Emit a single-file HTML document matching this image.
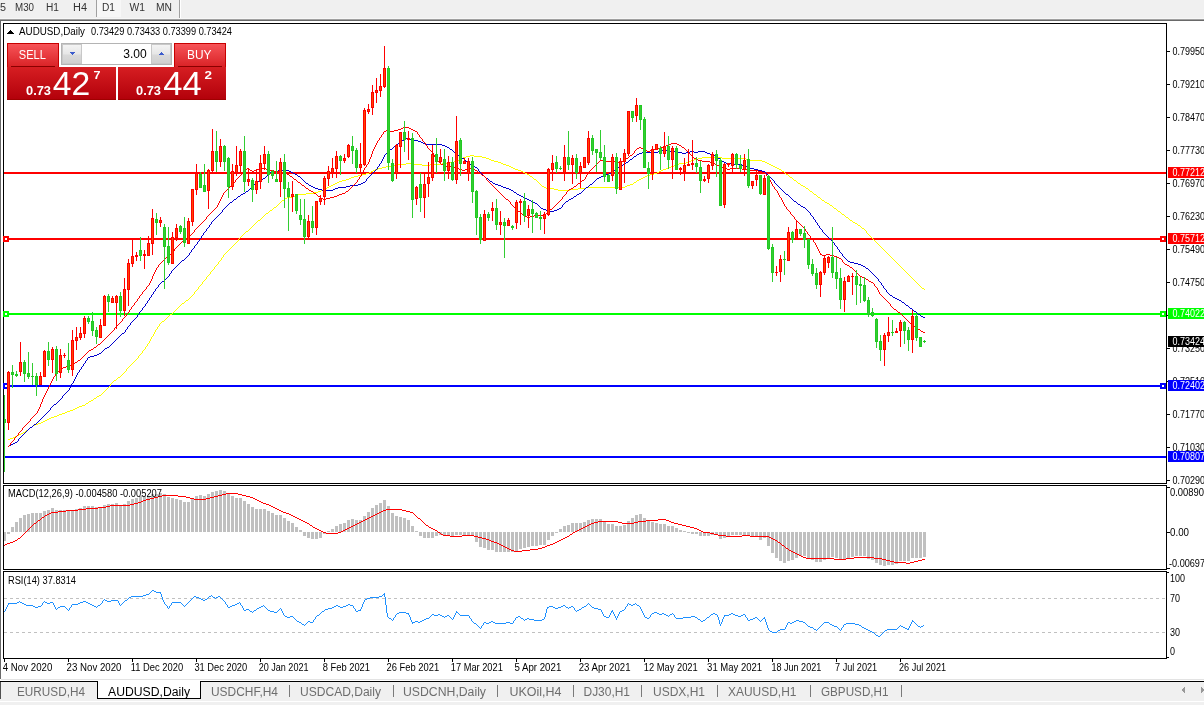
<!DOCTYPE html>
<html><head><meta charset="utf-8"><title>AUDUSD,Daily</title>
<style>
html,body{margin:0;padding:0;background:#fff;overflow:hidden;}
svg{display:block;font-family:"Liberation Sans",Arial,sans-serif;}
</style></head>
<body>
<svg width="1204" height="705" viewBox="0 0 1204 705" shape-rendering="crispEdges">
<rect x="0" y="0" width="1204" height="18" fill="#f0f0f0"/>
<rect x="0" y="18" width="1204" height="1" fill="#f7f7f7"/>
<rect x="0" y="19" width="1204" height="1" fill="#a0a0a0"/>
<rect x="0" y="20" width="1204" height="1" fill="#696969"/>
<rect x="0" y="21" width="1204" height="658" fill="#ffffff"/>
<rect x="0" y="20" width="1" height="659" fill="#696969"/>
<rect x="97" y="0" width="24" height="17" fill="#f7f7f7"/>
<rect x="96" y="0" width="1" height="17" fill="#a0a0a0"/>
<rect x="179" y="0" width="1" height="18" fill="#a0a0a0"/>
<rect x="180" y="0" width="1" height="18" fill="#ffffff"/>
<text x="0" y="11" font-size="10" fill="#333" textLength="6" lengthAdjust="spacingAndGlyphs">5</text>
<text x="15" y="11" font-size="10" fill="#333" textLength="19" lengthAdjust="spacingAndGlyphs">M30</text>
<text x="46" y="11" font-size="10" fill="#333" textLength="13" lengthAdjust="spacingAndGlyphs">H1</text>
<text x="73" y="11" font-size="10" fill="#333" textLength="14" lengthAdjust="spacingAndGlyphs">H4</text>
<text x="102" y="11" font-size="10" fill="#333" textLength="13" lengthAdjust="spacingAndGlyphs">D1</text>
<text x="129.5" y="11" font-size="10" fill="#333" textLength="15.5" lengthAdjust="spacingAndGlyphs">W1</text>
<text x="156" y="11" font-size="10" fill="#333" textLength="16" lengthAdjust="spacingAndGlyphs">MN</text>
<rect x="3.5" y="23.5" width="1163" height="460" fill="none" stroke="#000" stroke-width="1"/>
<rect x="3.5" y="485.5" width="1163" height="84" fill="none" stroke="#000" stroke-width="1"/>
<rect x="3.5" y="571.5" width="1163" height="87" fill="none" stroke="#000" stroke-width="1"/>
<rect x="1167" y="51" width="3" height="1" fill="#000"/>
<text x="1172.5" y="55" font-size="10" fill="#000" textLength="32.5" lengthAdjust="spacingAndGlyphs">0.79950</text>
<rect x="1167" y="84" width="3" height="1" fill="#000"/>
<text x="1172.5" y="88" font-size="10" fill="#000" textLength="32.5" lengthAdjust="spacingAndGlyphs">0.79210</text>
<rect x="1167" y="117" width="3" height="1" fill="#000"/>
<text x="1172.5" y="121" font-size="10" fill="#000" textLength="32.5" lengthAdjust="spacingAndGlyphs">0.78470</text>
<rect x="1167" y="150" width="3" height="1" fill="#000"/>
<text x="1172.5" y="154" font-size="10" fill="#000" textLength="32.5" lengthAdjust="spacingAndGlyphs">0.77730</text>
<rect x="1167" y="183" width="3" height="1" fill="#000"/>
<text x="1172.5" y="187" font-size="10" fill="#000" textLength="32.5" lengthAdjust="spacingAndGlyphs">0.76970</text>
<rect x="1167" y="216" width="3" height="1" fill="#000"/>
<text x="1172.5" y="220" font-size="10" fill="#000" textLength="32.5" lengthAdjust="spacingAndGlyphs">0.76230</text>
<rect x="1167" y="249" width="3" height="1" fill="#000"/>
<text x="1172.5" y="253" font-size="10" fill="#000" textLength="32.5" lengthAdjust="spacingAndGlyphs">0.75490</text>
<rect x="1167" y="282" width="3" height="1" fill="#000"/>
<text x="1172.5" y="286" font-size="10" fill="#000" textLength="32.5" lengthAdjust="spacingAndGlyphs">0.74750</text>
<rect x="1167" y="315" width="3" height="1" fill="#000"/>
<text x="1172.5" y="319" font-size="10" fill="#000" textLength="32.5" lengthAdjust="spacingAndGlyphs">0.74010</text>
<rect x="1167" y="348" width="3" height="1" fill="#000"/>
<text x="1172.5" y="352" font-size="10" fill="#000" textLength="32.5" lengthAdjust="spacingAndGlyphs">0.73250</text>
<rect x="1167" y="381" width="3" height="1" fill="#000"/>
<text x="1172.5" y="385" font-size="10" fill="#000" textLength="32.5" lengthAdjust="spacingAndGlyphs">0.72510</text>
<rect x="1167" y="414" width="3" height="1" fill="#000"/>
<text x="1172.5" y="418" font-size="10" fill="#000" textLength="32.5" lengthAdjust="spacingAndGlyphs">0.71770</text>
<rect x="1167" y="447" width="3" height="1" fill="#000"/>
<text x="1172.5" y="451" font-size="10" fill="#000" textLength="32.5" lengthAdjust="spacingAndGlyphs">0.71030</text>
<rect x="1167" y="480" width="3" height="1" fill="#000"/>
<text x="1172.5" y="484" font-size="10" fill="#000" textLength="32.5" lengthAdjust="spacingAndGlyphs">0.70290</text>
<rect x="1167" y="487" width="3" height="1" fill="#000"/>
<text x="1170" y="496" font-size="10" fill="#000" textLength="34" lengthAdjust="spacingAndGlyphs">0.00890</text>
<rect x="1167" y="532" width="3" height="1" fill="#000"/>
<text x="1170" y="536" font-size="10" fill="#000" textLength="19" lengthAdjust="spacingAndGlyphs">0.00</text>
<rect x="1167" y="568" width="3" height="1" fill="#000"/>
<text x="1169" y="567" font-size="10" fill="#000" textLength="36" lengthAdjust="spacingAndGlyphs">-0.00697</text>
<rect x="1167" y="572" width="2" height="1" fill="#000"/>
<text x="1170" y="582" font-size="10" fill="#000" textLength="15" lengthAdjust="spacingAndGlyphs">100</text>
<text x="1170" y="602" font-size="10" fill="#000" textLength="10" lengthAdjust="spacingAndGlyphs">70</text>
<text x="1170" y="636" font-size="10" fill="#000" textLength="10" lengthAdjust="spacingAndGlyphs">30</text>
<text x="1170" y="655" font-size="10" fill="#000" textLength="5" lengthAdjust="spacingAndGlyphs">0</text>
<rect x="1167" y="657" width="2" height="1" fill="#000"/>
<rect x="4" y="659" width="1" height="3" fill="#000"/>
<text x="2.8" y="671" font-size="10" fill="#000" textLength="49.5" lengthAdjust="spacingAndGlyphs">4 Nov 2020</text>
<rect x="68" y="659" width="1" height="3" fill="#000"/>
<text x="66.6" y="671" font-size="10" fill="#000" textLength="54.9" lengthAdjust="spacingAndGlyphs">23 Nov 2020</text>
<rect x="132" y="659" width="1" height="3" fill="#000"/>
<text x="130.8" y="671" font-size="10" fill="#000" textLength="52.3" lengthAdjust="spacingAndGlyphs">11 Dec 2020</text>
<rect x="196" y="659" width="1" height="3" fill="#000"/>
<text x="194.4" y="671" font-size="10" fill="#000" textLength="52.8" lengthAdjust="spacingAndGlyphs">31 Dec 2020</text>
<rect x="260" y="659" width="1" height="3" fill="#000"/>
<text x="258.7" y="671" font-size="10" fill="#000" textLength="49.8" lengthAdjust="spacingAndGlyphs">20 Jan 2021</text>
<rect x="324" y="659" width="1" height="3" fill="#000"/>
<text x="322.8" y="671" font-size="10" fill="#000" textLength="47.2" lengthAdjust="spacingAndGlyphs">8 Feb 2021</text>
<rect x="388" y="659" width="1" height="3" fill="#000"/>
<text x="386.6" y="671" font-size="10" fill="#000" textLength="52.6" lengthAdjust="spacingAndGlyphs">26 Feb 2021</text>
<rect x="452" y="659" width="1" height="3" fill="#000"/>
<text x="450.8" y="671" font-size="10" fill="#000" textLength="52.0" lengthAdjust="spacingAndGlyphs">17 Mar 2021</text>
<rect x="516" y="659" width="1" height="3" fill="#000"/>
<text x="514.4" y="671" font-size="10" fill="#000" textLength="46.9" lengthAdjust="spacingAndGlyphs">5 Apr 2021</text>
<rect x="580" y="659" width="1" height="3" fill="#000"/>
<text x="578.7" y="671" font-size="10" fill="#000" textLength="51.8" lengthAdjust="spacingAndGlyphs">23 Apr 2021</text>
<rect x="644" y="659" width="1" height="3" fill="#000"/>
<text x="643.7" y="671" font-size="10" fill="#000" textLength="54.1" lengthAdjust="spacingAndGlyphs">12 May 2021</text>
<rect x="708" y="659" width="1" height="3" fill="#000"/>
<text x="707.1" y="671" font-size="10" fill="#000" textLength="55.0" lengthAdjust="spacingAndGlyphs">31 May 2021</text>
<rect x="772" y="659" width="1" height="3" fill="#000"/>
<text x="771.4" y="671" font-size="10" fill="#000" textLength="49.9" lengthAdjust="spacingAndGlyphs">18 Jun 2021</text>
<rect x="836" y="659" width="1" height="3" fill="#000"/>
<text x="835.0" y="671" font-size="10" fill="#000" textLength="42.2" lengthAdjust="spacingAndGlyphs">7 Jul 2021</text>
<rect x="900" y="659" width="1" height="3" fill="#000"/>
<text x="899.0" y="671" font-size="10" fill="#000" textLength="47.0" lengthAdjust="spacingAndGlyphs">26 Jul 2021</text>
<clipPath id="cm"><rect x="4" y="24" width="1162" height="459"/></clipPath>
<clipPath id="cmacd"><rect x="4" y="486" width="1162" height="83"/></clipPath>
<clipPath id="crsi"><rect x="4" y="572" width="1162" height="86"/></clipPath>
<g clip-path="url(#cm)">
<rect x="4" y="172" width="1162" height="2" fill="#ff0000"/>
<rect x="4" y="238" width="1162" height="2" fill="#ff0000"/>
<rect x="4" y="313" width="1162" height="2" fill="#00ff00"/>
<rect x="4" y="385" width="1162" height="2" fill="#0000ff"/>
<rect x="4" y="456" width="1162" height="2" fill="#0000ff"/>
</g>
<rect x="3" y="236" width="6" height="6" fill="#ff0000"/>
<rect x="5" y="238" width="2" height="2" fill="#ffffff"/>
<rect x="1160" y="236" width="6" height="6" fill="#ff0000"/>
<rect x="1162" y="238" width="2" height="2" fill="#ffffff"/>
<rect x="3" y="311" width="6" height="6" fill="#00ff00"/>
<rect x="5" y="313" width="2" height="2" fill="#ffffff"/>
<rect x="1160" y="311" width="6" height="6" fill="#00ff00"/>
<rect x="1162" y="313" width="2" height="2" fill="#ffffff"/>
<rect x="3" y="383" width="6" height="6" fill="#0000ff"/>
<rect x="5" y="385" width="2" height="2" fill="#ffffff"/>
<rect x="1160" y="383" width="6" height="6" fill="#0000ff"/>
<rect x="1162" y="385" width="2" height="2" fill="#ffffff"/>
<g clip-path="url(#cm)">
<path d="M8 439h1v1h-1zM9 439h1v1h-1zM10 438h1v1h-1zM11 438h1v1h-1zM12 438h1v1h-1zM13 437h1v1h-1zM14 437h1v1h-1zM15 436h1v1h-1zM16 436h1v1h-1zM17 435h1v1h-1zM18 435h1v1h-1zM19 434h1v1h-1zM20 434h1v1h-1zM21 433h1v1h-1zM22 433h1v1h-1zM23 432h1v1h-1zM24 432h1v1h-1zM25 431h1v1h-1zM26 430h1v1h-1zM27 430h1v1h-1zM28 429h1v1h-1zM29 428h1v1h-1zM30 427h1v1h-1zM31 427h1v1h-1zM32 426h1v1h-1zM33 425h1v1h-1zM34 425h1v1h-1zM35 424h1v1h-1zM36 424h1v1h-1zM37 424h1v1h-1zM38 423h1v1h-1zM39 423h1v1h-1zM40 423h1v1h-1zM41 422h1v1h-1zM42 422h1v1h-1zM43 421h1v1h-1zM44 421h1v1h-1zM45 420h1v1h-1zM46 420h1v1h-1zM47 419h1v1h-1zM48 419h1v1h-1zM49 418h1v1h-1zM50 418h1v1h-1zM51 417h1v1h-1zM52 417h1v1h-1zM53 417h1v1h-1zM54 416h1v1h-1zM55 416h1v1h-1zM56 416h1v1h-1zM57 415h1v1h-1zM58 415h1v1h-1zM59 414h1v1h-1zM60 414h1v1h-1zM61 414h1v1h-1zM62 413h1v1h-1zM63 413h1v1h-1zM64 413h1v1h-1zM65 412h1v1h-1zM66 412h1v1h-1zM67 411h1v1h-1zM68 411h1v1h-1zM69 411h1v1h-1zM70 410h1v1h-1zM71 410h1v1h-1zM72 410h1v1h-1zM73 409h1v1h-1zM74 409h1v1h-1zM75 408h1v1h-1zM76 408h1v1h-1zM77 407h1v1h-1zM78 407h1v1h-1zM79 406h1v1h-1zM80 406h1v1h-1zM81 406h1v1h-1zM82 405h1v1h-1zM83 405h1v1h-1zM84 405h1v1h-1zM85 404h1v1h-1zM86 403h1v1h-1zM87 403h1v1h-1zM88 402h1v1h-1zM89 401h1v1h-1zM90 401h1v1h-1zM91 400h1v1h-1zM92 400h1v1h-1zM93 399h1v1h-1zM94 398h1v1h-1zM95 398h1v1h-1zM96 397h1v1h-1zM97 396h1v1h-1zM98 396h1v1h-1zM99 395h1v1h-1zM100 395h1v1h-1zM101 394h1v1h-1zM102 393h1v1h-1zM103 392h1v1h-1zM104 391h1v1h-1zM105 390h1v1h-1zM106 389h1v1h-1zM107 388h1v1h-1zM108 387h1v1h-1zM109 386h1v1h-1zM110 384h1v2h-1zM111 383h1v1h-1zM112 382h1v1h-1zM113 381h1v1h-1zM114 380h1v1h-1zM115 380h1v1h-1zM116 379h1v1h-1zM117 378h1v1h-1zM118 377h1v1h-1zM119 377h1v1h-1zM120 376h1v1h-1zM121 375h1v1h-1zM122 374h1v1h-1zM123 373h1v1h-1zM124 372h1v1h-1zM125 371h1v1h-1zM126 369h1v2h-1zM127 368h1v1h-1zM128 367h1v1h-1zM129 366h1v1h-1zM130 365h1v1h-1zM131 364h1v1h-1zM132 363h1v1h-1zM133 362h1v1h-1zM134 361h1v1h-1zM135 360h1v1h-1zM136 359h1v1h-1zM137 358h1v1h-1zM138 356h1v2h-1zM139 355h1v1h-1zM140 354h1v1h-1zM141 353h1v1h-1zM142 351h1v2h-1zM143 350h1v1h-1zM144 349h1v1h-1zM145 347h1v2h-1zM146 346h1v1h-1zM147 344h1v2h-1zM148 343h1v1h-1zM149 341h1v2h-1zM150 339h1v2h-1zM151 337h1v2h-1zM152 336h1v1h-1zM153 334h1v2h-1zM154 332h1v2h-1zM155 330h1v2h-1zM156 329h1v1h-1zM157 327h1v2h-1zM158 326h1v1h-1zM159 324h1v2h-1zM160 323h1v1h-1zM161 322h1v1h-1zM162 321h1v1h-1zM163 321h1v1h-1zM164 320h1v1h-1zM165 319h1v1h-1zM166 318h1v1h-1zM167 317h1v1h-1zM168 316h1v1h-1zM169 315h1v1h-1zM170 314h1v1h-1zM171 314h1v1h-1zM172 313h1v1h-1zM173 312h1v1h-1zM174 311h1v1h-1zM175 310h1v1h-1zM176 309h1v1h-1zM177 308h1v1h-1zM178 307h1v1h-1zM179 306h1v1h-1zM180 305h1v1h-1zM181 304h1v1h-1zM182 303h1v1h-1zM183 303h1v1h-1zM184 302h1v1h-1zM185 301h1v1h-1zM186 300h1v1h-1zM187 300h1v1h-1zM188 299h1v1h-1zM189 298h1v1h-1zM190 297h1v1h-1zM191 296h1v1h-1zM192 295h1v1h-1zM193 294h1v1h-1zM194 292h1v2h-1zM195 291h1v1h-1zM196 290h1v1h-1zM197 289h1v1h-1zM198 287h1v2h-1zM199 286h1v1h-1zM200 285h1v1h-1zM201 284h1v1h-1zM202 282h1v2h-1zM203 281h1v1h-1zM204 280h1v1h-1zM205 279h1v1h-1zM206 277h1v2h-1zM207 276h1v1h-1zM208 275h1v1h-1zM209 274h1v1h-1zM210 272h1v2h-1zM211 271h1v1h-1zM212 270h1v1h-1zM213 269h1v1h-1zM214 267h1v2h-1zM215 266h1v1h-1zM216 265h1v1h-1zM217 264h1v1h-1zM218 262h1v2h-1zM219 261h1v1h-1zM220 260h1v1h-1zM221 258h1v2h-1zM222 257h1v1h-1zM223 255h1v2h-1zM224 254h1v1h-1zM225 253h1v1h-1zM226 252h1v1h-1zM227 251h1v1h-1zM228 250h1v1h-1zM229 249h1v1h-1zM230 248h1v1h-1zM231 247h1v1h-1zM232 246h1v1h-1zM233 245h1v1h-1zM234 244h1v1h-1zM235 243h1v1h-1zM236 242h1v1h-1zM237 241h1v1h-1zM238 239h1v2h-1zM239 238h1v1h-1zM240 237h1v1h-1zM241 236h1v1h-1zM242 235h1v1h-1zM243 234h1v1h-1zM244 233h1v1h-1zM245 232h1v1h-1zM246 231h1v1h-1zM247 231h1v1h-1zM248 230h1v1h-1zM249 229h1v1h-1zM250 228h1v1h-1zM251 227h1v1h-1zM252 226h1v1h-1zM253 225h1v1h-1zM254 224h1v1h-1zM255 223h1v1h-1zM256 222h1v1h-1zM257 221h1v1h-1zM258 220h1v1h-1zM259 220h1v1h-1zM260 219h1v1h-1zM261 218h1v1h-1zM262 217h1v1h-1zM263 216h1v1h-1zM264 215h1v1h-1zM265 214h1v1h-1zM266 213h1v1h-1zM267 213h1v1h-1zM268 212h1v1h-1zM269 211h1v1h-1zM270 210h1v1h-1zM271 210h1v1h-1zM272 209h1v1h-1zM273 208h1v1h-1zM274 207h1v1h-1zM275 207h1v1h-1zM276 206h1v1h-1zM277 205h1v1h-1zM278 204h1v1h-1zM279 203h1v1h-1zM280 202h1v1h-1zM281 201h1v1h-1zM282 200h1v1h-1zM283 200h1v1h-1zM284 199h1v1h-1zM285 198h1v1h-1zM286 198h1v1h-1zM287 197h1v1h-1zM288 197h1v1h-1zM289 197h1v1h-1zM290 197h1v1h-1zM291 197h1v1h-1zM292 197h1v1h-1zM293 196h1v1h-1zM294 196h1v1h-1zM295 195h1v1h-1zM296 195h1v1h-1zM297 195h1v1h-1zM298 194h1v1h-1zM299 194h1v1h-1zM300 194h1v1h-1zM301 194h1v1h-1zM302 194h1v1h-1zM303 194h1v1h-1zM304 194h1v1h-1zM305 194h1v1h-1zM306 193h1v1h-1zM307 193h1v1h-1zM308 193h1v1h-1zM309 193h1v1h-1zM310 193h1v1h-1zM311 193h1v1h-1zM312 193h1v1h-1zM313 193h1v1h-1zM314 192h1v1h-1zM315 192h1v1h-1zM316 192h1v1h-1zM317 192h1v1h-1zM318 191h1v1h-1zM319 191h1v1h-1zM320 191h1v1h-1zM321 190h1v1h-1zM322 190h1v1h-1zM323 189h1v1h-1zM324 189h1v1h-1zM325 188h1v1h-1zM326 188h1v1h-1zM327 187h1v1h-1zM328 187h1v1h-1zM329 186h1v1h-1zM330 186h1v1h-1zM331 185h1v1h-1zM332 185h1v1h-1zM333 184h1v1h-1zM334 184h1v1h-1zM335 183h1v1h-1zM336 183h1v1h-1zM337 182h1v1h-1zM338 182h1v1h-1zM339 181h1v1h-1zM340 181h1v1h-1zM341 181h1v1h-1zM342 180h1v1h-1zM343 180h1v1h-1zM344 180h1v1h-1zM345 180h1v1h-1zM346 179h1v1h-1zM347 179h1v1h-1zM348 179h1v1h-1zM349 178h1v1h-1zM350 178h1v1h-1zM351 177h1v1h-1zM352 177h1v1h-1zM353 177h1v1h-1zM354 176h1v1h-1zM355 176h1v1h-1zM356 176h1v1h-1zM357 176h1v1h-1zM358 175h1v1h-1zM359 175h1v1h-1zM360 175h1v1h-1zM361 175h1v1h-1zM362 174h1v1h-1zM363 174h1v1h-1zM364 174h1v1h-1zM365 174h1v1h-1zM366 173h1v1h-1zM367 173h1v1h-1zM368 173h1v1h-1zM369 172h1v1h-1zM370 172h1v1h-1zM371 171h1v1h-1zM372 171h1v1h-1zM373 170h1v1h-1zM374 170h1v1h-1zM375 169h1v1h-1zM376 169h1v1h-1zM377 169h1v1h-1zM378 168h1v1h-1zM379 168h1v1h-1zM380 168h1v1h-1zM381 168h1v1h-1zM382 167h1v1h-1zM383 167h1v1h-1zM384 167h1v1h-1zM385 167h1v1h-1zM386 166h1v1h-1zM387 166h1v1h-1zM388 166h1v1h-1zM389 166h1v1h-1zM390 166h1v1h-1zM391 166h1v1h-1zM392 166h1v1h-1zM393 166h1v1h-1zM394 165h1v1h-1zM395 165h1v1h-1zM396 165h1v1h-1zM397 165h1v1h-1zM398 164h1v1h-1zM399 164h1v1h-1zM400 164h1v1h-1zM401 164h1v1h-1zM402 164h1v1h-1zM403 164h1v1h-1zM404 164h1v1h-1zM405 164h1v1h-1zM406 163h1v1h-1zM407 163h1v1h-1zM408 163h1v1h-1zM409 163h1v1h-1zM410 163h1v1h-1zM411 163h1v1h-1zM412 163h1v1h-1zM413 163h1v1h-1zM414 164h1v1h-1zM415 164h1v1h-1zM416 164h1v1h-1zM417 164h1v1h-1zM418 164h1v1h-1zM419 164h1v1h-1zM420 164h1v1h-1zM421 164h1v1h-1zM422 165h1v1h-1zM423 165h1v1h-1zM424 165h1v1h-1zM425 165h1v1h-1zM426 165h1v1h-1zM427 165h1v1h-1zM428 165h1v1h-1zM429 165h1v1h-1zM430 164h1v1h-1zM431 164h1v1h-1zM432 164h1v1h-1zM433 164h1v1h-1zM434 164h1v1h-1zM435 164h1v1h-1zM436 164h1v1h-1zM437 164h1v1h-1zM438 164h1v1h-1zM439 164h1v1h-1zM440 164h1v1h-1zM441 164h1v1h-1zM442 163h1v1h-1zM443 163h1v1h-1zM444 163h1v1h-1zM445 163h1v1h-1zM446 163h1v1h-1zM447 163h1v1h-1zM448 163h1v1h-1zM449 163h1v1h-1zM450 162h1v1h-1zM451 162h1v1h-1zM452 162h1v1h-1zM453 162h1v1h-1zM454 161h1v1h-1zM455 161h1v1h-1zM456 161h1v1h-1zM457 160h1v1h-1zM458 160h1v1h-1zM459 159h1v1h-1zM460 159h1v1h-1zM461 158h1v1h-1zM462 158h1v1h-1zM463 157h1v1h-1zM464 157h1v1h-1zM465 157h1v1h-1zM466 156h1v1h-1zM467 156h1v1h-1zM468 156h1v1h-1zM469 156h1v1h-1zM470 155h1v1h-1zM471 155h1v1h-1zM472 155h1v1h-1zM473 155h1v1h-1zM474 156h1v1h-1zM475 156h1v1h-1zM476 156h1v1h-1zM477 156h1v1h-1zM478 156h1v1h-1zM479 156h1v1h-1zM480 156h1v1h-1zM481 156h1v1h-1zM482 157h1v1h-1zM483 157h1v1h-1zM484 157h1v1h-1zM485 157h1v1h-1zM486 158h1v1h-1zM487 158h1v1h-1zM488 158h1v1h-1zM489 159h1v1h-1zM490 159h1v1h-1zM491 160h1v1h-1zM492 160h1v1h-1zM493 160h1v1h-1zM494 161h1v1h-1zM495 161h1v1h-1zM496 161h1v1h-1zM497 161h1v1h-1zM498 162h1v1h-1zM499 162h1v1h-1zM500 162h1v1h-1zM501 163h1v1h-1zM502 163h1v1h-1zM503 164h1v1h-1zM504 164h1v1h-1zM505 164h1v1h-1zM506 165h1v1h-1zM507 165h1v1h-1zM508 165h1v1h-1zM509 166h1v1h-1zM510 166h1v1h-1zM511 167h1v1h-1zM512 167h1v1h-1zM513 168h1v1h-1zM514 168h1v1h-1zM515 169h1v1h-1zM516 169h1v1h-1zM517 169h1v1h-1zM518 170h1v1h-1zM519 170h1v1h-1zM520 170h1v1h-1zM521 171h1v1h-1zM522 171h1v1h-1zM523 172h1v1h-1zM524 172h1v1h-1zM525 173h1v1h-1zM526 173h1v1h-1zM527 174h1v1h-1zM528 174h1v1h-1zM529 175h1v1h-1zM530 176h1v1h-1zM531 176h1v1h-1zM532 177h1v1h-1zM533 178h1v1h-1zM534 179h1v1h-1zM535 179h1v1h-1zM536 180h1v1h-1zM537 181h1v1h-1zM538 182h1v1h-1zM539 183h1v1h-1zM540 184h1v1h-1zM541 185h1v1h-1zM542 186h1v1h-1zM543 186h1v1h-1zM544 187h1v1h-1zM545 187h1v1h-1zM546 188h1v1h-1zM547 188h1v1h-1zM548 188h1v1h-1zM549 188h1v1h-1zM550 188h1v1h-1zM551 188h1v1h-1zM552 188h1v1h-1zM553 188h1v1h-1zM554 189h1v1h-1zM555 189h1v1h-1zM556 189h1v1h-1zM557 189h1v1h-1zM558 190h1v1h-1zM559 190h1v1h-1zM560 190h1v1h-1zM561 190h1v1h-1zM562 190h1v1h-1zM563 190h1v1h-1zM564 190h1v1h-1zM565 190h1v1h-1zM566 190h1v1h-1zM567 190h1v1h-1zM568 190h1v1h-1zM569 190h1v1h-1zM570 189h1v1h-1zM571 189h1v1h-1zM572 189h1v1h-1zM573 189h1v1h-1zM574 189h1v1h-1zM575 189h1v1h-1zM576 189h1v1h-1zM577 189h1v1h-1zM578 188h1v1h-1zM579 188h1v1h-1zM580 188h1v1h-1zM581 188h1v1h-1zM582 188h1v1h-1zM583 188h1v1h-1zM584 188h1v1h-1zM585 188h1v1h-1zM586 187h1v1h-1zM587 187h1v1h-1zM588 187h1v1h-1zM589 187h1v1h-1zM590 187h1v1h-1zM591 187h1v1h-1zM592 187h1v1h-1zM593 187h1v1h-1zM594 187h1v1h-1zM595 187h1v1h-1zM596 187h1v1h-1zM597 187h1v1h-1zM598 187h1v1h-1zM599 187h1v1h-1zM600 187h1v1h-1zM601 187h1v1h-1zM602 187h1v1h-1zM603 187h1v1h-1zM604 187h1v1h-1zM605 187h1v1h-1zM606 187h1v1h-1zM607 187h1v1h-1zM608 187h1v1h-1zM609 187h1v1h-1zM610 187h1v1h-1zM611 187h1v1h-1zM612 187h1v1h-1zM613 187h1v1h-1zM614 187h1v1h-1zM615 187h1v1h-1zM616 187h1v1h-1zM617 187h1v1h-1zM618 187h1v1h-1zM619 187h1v1h-1zM620 187h1v1h-1zM621 187h1v1h-1zM622 187h1v1h-1zM623 187h1v1h-1zM624 187h1v1h-1zM625 186h1v1h-1zM626 186h1v1h-1zM627 185h1v1h-1zM628 185h1v1h-1zM629 185h1v1h-1zM630 184h1v1h-1zM631 184h1v1h-1zM632 184h1v1h-1zM633 183h1v1h-1zM634 182h1v1h-1zM635 182h1v1h-1zM636 181h1v1h-1zM637 180h1v1h-1zM638 180h1v1h-1zM639 179h1v1h-1zM640 179h1v1h-1zM641 178h1v1h-1zM642 178h1v1h-1zM643 177h1v1h-1zM644 177h1v1h-1zM645 176h1v1h-1zM646 176h1v1h-1zM647 175h1v1h-1zM648 175h1v1h-1zM649 175h1v1h-1zM650 174h1v1h-1zM651 174h1v1h-1zM652 174h1v1h-1zM653 174h1v1h-1zM654 173h1v1h-1zM655 173h1v1h-1zM656 173h1v1h-1zM657 172h1v1h-1zM658 172h1v1h-1zM659 171h1v1h-1zM660 171h1v1h-1zM661 170h1v1h-1zM662 170h1v1h-1zM663 169h1v1h-1zM664 169h1v1h-1zM665 169h1v1h-1zM666 168h1v1h-1zM667 168h1v1h-1zM668 168h1v1h-1zM669 167h1v1h-1zM670 167h1v1h-1zM671 166h1v1h-1zM672 166h1v1h-1zM673 166h1v1h-1zM674 165h1v1h-1zM675 165h1v1h-1zM676 165h1v1h-1zM677 164h1v1h-1zM678 164h1v1h-1zM679 163h1v1h-1zM680 163h1v1h-1zM681 163h1v1h-1zM682 163h1v1h-1zM683 163h1v1h-1zM684 163h1v1h-1zM685 163h1v1h-1zM686 162h1v1h-1zM687 162h1v1h-1zM688 162h1v1h-1zM689 161h1v1h-1zM690 161h1v1h-1zM691 160h1v1h-1zM692 160h1v1h-1zM693 160h1v1h-1zM694 159h1v1h-1zM695 159h1v1h-1zM696 159h1v1h-1zM697 159h1v1h-1zM698 158h1v1h-1zM699 158h1v1h-1zM700 158h1v1h-1zM701 158h1v1h-1zM702 157h1v1h-1zM703 157h1v1h-1zM704 157h1v1h-1zM705 157h1v1h-1zM706 157h1v1h-1zM707 157h1v1h-1zM708 157h1v1h-1zM709 157h1v1h-1zM710 157h1v1h-1zM711 157h1v1h-1zM712 157h1v1h-1zM713 157h1v1h-1zM714 157h1v1h-1zM715 157h1v1h-1zM716 157h1v1h-1zM717 157h1v1h-1zM718 157h1v1h-1zM719 157h1v1h-1zM720 157h1v1h-1zM721 157h1v1h-1zM722 158h1v1h-1zM723 158h1v1h-1zM724 158h1v1h-1zM725 158h1v1h-1zM726 158h1v1h-1zM727 158h1v1h-1zM728 158h1v1h-1zM729 158h1v1h-1zM730 158h1v1h-1zM731 158h1v1h-1zM732 158h1v1h-1zM733 158h1v1h-1zM734 158h1v1h-1zM735 158h1v1h-1zM736 158h1v1h-1zM737 158h1v1h-1zM738 158h1v1h-1zM739 158h1v1h-1zM740 158h1v1h-1zM741 158h1v1h-1zM742 158h1v1h-1zM743 158h1v1h-1zM744 158h1v1h-1zM745 158h1v1h-1zM746 159h1v1h-1zM747 159h1v1h-1zM748 159h1v1h-1zM749 159h1v1h-1zM750 160h1v1h-1zM751 160h1v1h-1zM752 160h1v1h-1zM753 160h1v1h-1zM754 160h1v1h-1zM755 160h1v1h-1zM756 160h1v1h-1zM757 160h1v1h-1zM758 160h1v1h-1zM759 160h1v1h-1zM760 160h1v1h-1zM761 160h1v1h-1zM762 161h1v1h-1zM763 161h1v1h-1zM764 161h1v1h-1zM765 162h1v1h-1zM766 162h1v1h-1zM767 163h1v1h-1zM768 163h1v1h-1zM769 164h1v1h-1zM770 164h1v1h-1zM771 165h1v1h-1zM772 165h1v1h-1zM773 166h1v1h-1zM774 166h1v1h-1zM775 167h1v1h-1zM776 167h1v1h-1zM777 168h1v1h-1zM778 168h1v1h-1zM779 169h1v1h-1zM780 169h1v1h-1zM781 170h1v1h-1zM782 171h1v1h-1zM783 171h1v1h-1zM784 172h1v1h-1zM785 173h1v1h-1zM786 174h1v1h-1zM787 174h1v1h-1zM788 175h1v1h-1zM789 176h1v1h-1zM790 177h1v1h-1zM791 177h1v1h-1zM792 178h1v1h-1zM793 179h1v1h-1zM794 180h1v1h-1zM795 180h1v1h-1zM796 181h1v1h-1zM797 182h1v1h-1zM798 183h1v1h-1zM799 183h1v1h-1zM800 184h1v1h-1zM801 185h1v1h-1zM802 185h1v1h-1zM803 186h1v1h-1zM804 186h1v1h-1zM805 187h1v1h-1zM806 188h1v1h-1zM807 188h1v1h-1zM808 189h1v1h-1zM809 190h1v1h-1zM810 191h1v1h-1zM811 191h1v1h-1zM812 192h1v1h-1zM813 193h1v1h-1zM814 194h1v1h-1zM815 194h1v1h-1zM816 195h1v1h-1zM817 196h1v1h-1zM818 197h1v1h-1zM819 197h1v1h-1zM820 198h1v1h-1zM821 199h1v1h-1zM822 200h1v1h-1zM823 200h1v1h-1zM824 201h1v1h-1zM825 202h1v1h-1zM826 202h1v1h-1zM827 203h1v1h-1zM828 203h1v1h-1zM829 204h1v1h-1zM830 205h1v1h-1zM831 205h1v1h-1zM832 206h1v1h-1zM833 207h1v1h-1zM834 208h1v1h-1zM835 208h1v1h-1zM836 209h1v1h-1zM837 210h1v1h-1zM838 211h1v1h-1zM839 211h1v1h-1zM840 212h1v1h-1zM841 213h1v1h-1zM842 214h1v1h-1zM843 214h1v1h-1zM844 215h1v1h-1zM845 216h1v1h-1zM846 217h1v1h-1zM847 217h1v1h-1zM848 218h1v1h-1zM849 219h1v1h-1zM850 220h1v1h-1zM851 220h1v1h-1zM852 221h1v1h-1zM853 222h1v1h-1zM854 222h1v1h-1zM855 223h1v1h-1zM856 223h1v1h-1zM857 224h1v1h-1zM858 225h1v1h-1zM859 225h1v1h-1zM860 226h1v1h-1zM861 227h1v1h-1zM862 228h1v1h-1zM863 228h1v1h-1zM864 229h1v1h-1zM865 230h1v1h-1zM866 231h1v2h-1zM867 233h1v1h-1zM868 234h1v1h-1zM869 235h1v1h-1zM870 236h1v1h-1zM871 237h1v1h-1zM872 238h1v1h-1zM873 239h1v1h-1zM874 240h1v1h-1zM875 241h1v1h-1zM876 242h1v1h-1zM877 243h1v1h-1zM878 244h1v1h-1zM879 245h1v1h-1zM880 246h1v1h-1zM881 247h1v1h-1zM882 248h1v1h-1zM883 249h1v1h-1zM884 250h1v1h-1zM885 251h1v1h-1zM886 252h1v1h-1zM887 253h1v1h-1zM888 254h1v1h-1zM889 255h1v1h-1zM890 256h1v1h-1zM891 257h1v1h-1zM892 258h1v1h-1zM893 259h1v1h-1zM894 260h1v1h-1zM895 261h1v1h-1zM896 262h1v1h-1zM897 263h1v1h-1zM898 264h1v1h-1zM899 265h1v1h-1zM900 266h1v1h-1zM901 267h1v1h-1zM902 268h1v1h-1zM903 269h1v1h-1zM904 270h1v1h-1zM905 271h1v1h-1zM906 272h1v1h-1zM907 273h1v1h-1zM908 274h1v1h-1zM909 275h1v1h-1zM910 276h1v1h-1zM911 277h1v1h-1zM912 278h1v1h-1zM913 279h1v1h-1zM914 280h1v1h-1zM915 281h1v1h-1zM916 282h1v1h-1zM917 283h1v1h-1zM918 284h1v1h-1zM919 285h1v1h-1zM920 286h1v1h-1zM921 287h1v1h-1zM922 288h1v1h-1zM923 288h1v1h-1zM924 289h1v1h-1z" fill="#ffff00"/>
<path d="M8 446h1v1h-1zM9 445h1v1h-1zM10 445h1v1h-1zM11 444h1v1h-1zM12 444h1v1h-1zM13 443h1v1h-1zM14 443h1v1h-1zM15 442h1v1h-1zM16 442h1v1h-1zM17 441h1v1h-1zM18 439h1v2h-1zM19 438h1v1h-1zM20 437h1v1h-1zM21 436h1v1h-1zM22 435h1v1h-1zM23 434h1v1h-1zM24 433h1v1h-1zM25 432h1v1h-1zM26 431h1v1h-1zM27 430h1v1h-1zM28 429h1v1h-1zM29 428h1v1h-1zM30 427h1v1h-1zM31 427h1v1h-1zM32 426h1v1h-1zM33 425h1v1h-1zM34 424h1v1h-1zM35 424h1v1h-1zM36 423h1v1h-1zM37 422h1v1h-1zM38 421h1v1h-1zM39 420h1v1h-1zM40 419h1v1h-1zM41 418h1v1h-1zM42 417h1v1h-1zM43 416h1v1h-1zM44 415h1v1h-1zM45 414h1v1h-1zM46 413h1v1h-1zM47 412h1v1h-1zM48 411h1v1h-1zM49 410h1v1h-1zM50 408h1v2h-1zM51 407h1v1h-1zM52 406h1v1h-1zM53 405h1v1h-1zM54 404h1v1h-1zM55 404h1v1h-1zM56 403h1v1h-1zM57 402h1v1h-1zM58 401h1v1h-1zM59 400h1v1h-1zM60 399h1v1h-1zM61 398h1v1h-1zM62 396h1v2h-1zM63 395h1v1h-1zM64 394h1v1h-1zM65 393h1v1h-1zM66 392h1v1h-1zM67 391h1v1h-1zM68 390h1v1h-1zM69 388h1v2h-1zM70 386h1v2h-1zM71 384h1v2h-1zM72 383h1v1h-1zM73 381h1v2h-1zM74 379h1v2h-1zM75 377h1v2h-1zM76 375h1v2h-1zM77 373h1v2h-1zM78 372h1v1h-1zM79 370h1v2h-1zM80 369h1v1h-1zM81 367h1v2h-1zM82 366h1v1h-1zM83 364h1v2h-1zM84 363h1v1h-1zM85 361h1v2h-1zM86 360h1v1h-1zM87 358h1v2h-1zM88 357h1v1h-1zM89 357h1v1h-1zM90 356h1v1h-1zM91 356h1v1h-1zM92 356h1v1h-1zM93 356h1v1h-1zM94 355h1v1h-1zM95 355h1v1h-1zM96 355h1v1h-1zM97 354h1v1h-1zM98 354h1v1h-1zM99 353h1v1h-1zM100 353h1v1h-1zM101 352h1v1h-1zM102 351h1v1h-1zM103 350h1v1h-1zM104 349h1v1h-1zM105 348h1v1h-1zM106 348h1v1h-1zM107 347h1v1h-1zM108 347h1v1h-1zM109 346h1v1h-1zM110 345h1v1h-1zM111 344h1v1h-1zM112 343h1v1h-1zM113 342h1v1h-1zM114 341h1v1h-1zM115 340h1v1h-1zM116 339h1v1h-1zM117 338h1v1h-1zM118 337h1v1h-1zM119 336h1v1h-1zM120 335h1v1h-1zM121 334h1v1h-1zM122 333h1v1h-1zM123 333h1v1h-1zM124 332h1v1h-1zM125 330h1v2h-1zM126 329h1v1h-1zM127 327h1v2h-1zM128 326h1v1h-1zM129 325h1v1h-1zM130 323h1v2h-1zM131 322h1v1h-1zM132 321h1v1h-1zM133 320h1v1h-1zM134 319h1v1h-1zM135 318h1v1h-1zM136 317h1v1h-1zM137 315h1v2h-1zM138 314h1v1h-1zM139 312h1v2h-1zM140 311h1v1h-1zM141 310h1v1h-1zM142 308h1v2h-1zM143 307h1v1h-1zM144 306h1v1h-1zM145 304h1v2h-1zM146 303h1v1h-1zM147 301h1v2h-1zM148 300h1v1h-1zM149 298h1v2h-1zM150 297h1v1h-1zM151 295h1v2h-1zM152 294h1v1h-1zM153 292h1v2h-1zM154 291h1v1h-1zM155 289h1v2h-1zM156 288h1v1h-1zM157 287h1v1h-1zM158 285h1v2h-1zM159 284h1v1h-1zM160 283h1v1h-1zM161 282h1v1h-1zM162 281h1v1h-1zM163 281h1v1h-1zM164 280h1v1h-1zM165 279h1v1h-1zM166 278h1v1h-1zM167 277h1v1h-1zM168 276h1v1h-1zM169 274h1v2h-1zM170 273h1v1h-1zM171 271h1v2h-1zM172 270h1v1h-1zM173 269h1v1h-1zM174 268h1v1h-1zM175 267h1v1h-1zM176 266h1v1h-1zM177 265h1v1h-1zM178 264h1v1h-1zM179 263h1v1h-1zM180 262h1v1h-1zM181 261h1v1h-1zM182 260h1v1h-1zM183 260h1v1h-1zM184 259h1v1h-1zM185 258h1v1h-1zM186 257h1v1h-1zM187 256h1v1h-1zM188 255h1v1h-1zM189 253h1v2h-1zM190 252h1v1h-1zM191 250h1v2h-1zM192 249h1v1h-1zM193 248h1v1h-1zM194 246h1v2h-1zM195 245h1v1h-1zM196 244h1v1h-1zM197 242h1v2h-1zM198 241h1v1h-1zM199 239h1v2h-1zM200 238h1v1h-1zM201 236h1v2h-1zM202 235h1v1h-1zM203 233h1v2h-1zM204 232h1v1h-1zM205 231h1v1h-1zM206 229h1v2h-1zM207 228h1v1h-1zM208 227h1v1h-1zM209 225h1v2h-1zM210 224h1v1h-1zM211 222h1v2h-1zM212 221h1v1h-1zM213 220h1v1h-1zM214 219h1v1h-1zM215 218h1v1h-1zM216 217h1v1h-1zM217 216h1v1h-1zM218 215h1v1h-1zM219 214h1v1h-1zM220 213h1v1h-1zM221 212h1v1h-1zM222 210h1v2h-1zM223 209h1v1h-1zM224 208h1v1h-1zM225 207h1v1h-1zM226 206h1v1h-1zM227 205h1v1h-1zM228 204h1v1h-1zM229 203h1v1h-1zM230 202h1v1h-1zM231 202h1v1h-1zM232 201h1v1h-1zM233 200h1v1h-1zM234 199h1v1h-1zM235 199h1v1h-1zM236 198h1v1h-1zM237 197h1v1h-1zM238 196h1v1h-1zM239 196h1v1h-1zM240 195h1v1h-1zM241 194h1v1h-1zM242 194h1v1h-1zM243 193h1v1h-1zM244 193h1v1h-1zM245 192h1v1h-1zM246 191h1v1h-1zM247 191h1v1h-1zM248 190h1v1h-1zM249 189h1v1h-1zM250 188h1v1h-1zM251 187h1v1h-1zM252 186h1v1h-1zM253 185h1v1h-1zM254 184h1v1h-1zM255 184h1v1h-1zM256 183h1v1h-1zM257 182h1v1h-1zM258 181h1v1h-1zM259 181h1v1h-1zM260 180h1v1h-1zM261 179h1v1h-1zM262 179h1v1h-1zM263 178h1v1h-1zM264 178h1v1h-1zM265 177h1v1h-1zM266 176h1v1h-1zM267 175h1v1h-1zM268 174h1v1h-1zM269 173h1v1h-1zM270 172h1v1h-1zM271 172h1v1h-1zM272 171h1v1h-1zM273 171h1v1h-1zM274 171h1v1h-1zM275 171h1v1h-1zM276 171h1v1h-1zM277 171h1v1h-1zM278 170h1v1h-1zM279 170h1v1h-1zM280 170h1v1h-1zM281 170h1v1h-1zM282 170h1v1h-1zM283 170h1v1h-1zM284 170h1v1h-1zM285 170h1v1h-1zM286 170h1v1h-1zM287 170h1v1h-1zM288 170h1v1h-1zM289 171h1v1h-1zM290 171h1v1h-1zM291 172h1v1h-1zM292 172h1v1h-1zM293 173h1v1h-1zM294 173h1v1h-1zM295 174h1v1h-1zM296 174h1v1h-1zM297 175h1v1h-1zM298 176h1v1h-1zM299 176h1v1h-1zM300 177h1v1h-1zM301 178h1v1h-1zM302 179h1v1h-1zM303 180h1v1h-1zM304 181h1v1h-1zM305 182h1v1h-1zM306 183h1v1h-1zM307 183h1v1h-1zM308 184h1v1h-1zM309 185h1v1h-1zM310 185h1v1h-1zM311 186h1v1h-1zM312 186h1v1h-1zM313 187h1v1h-1zM314 187h1v1h-1zM315 188h1v1h-1zM316 188h1v1h-1zM317 188h1v1h-1zM318 189h1v1h-1zM319 189h1v1h-1zM320 189h1v1h-1zM321 189h1v1h-1zM322 190h1v1h-1zM323 190h1v1h-1zM324 190h1v1h-1zM325 190h1v1h-1zM326 190h1v1h-1zM327 190h1v1h-1zM328 190h1v1h-1zM329 190h1v1h-1zM330 190h1v1h-1zM331 190h1v1h-1zM332 190h1v1h-1zM333 189h1v1h-1zM334 189h1v1h-1zM335 188h1v1h-1zM336 188h1v1h-1zM337 188h1v1h-1zM338 187h1v1h-1zM339 187h1v1h-1zM340 187h1v1h-1zM341 187h1v1h-1zM342 187h1v1h-1zM343 187h1v1h-1zM344 187h1v1h-1zM345 187h1v1h-1zM346 186h1v1h-1zM347 186h1v1h-1zM348 186h1v1h-1zM349 186h1v1h-1zM350 185h1v1h-1zM351 185h1v1h-1zM352 185h1v1h-1zM353 185h1v1h-1zM354 185h1v1h-1zM355 185h1v1h-1zM356 185h1v1h-1zM357 185h1v1h-1zM358 184h1v1h-1zM359 184h1v1h-1zM360 184h1v1h-1zM361 183h1v1h-1zM362 183h1v1h-1zM363 182h1v1h-1zM364 182h1v1h-1zM365 181h1v1h-1zM366 179h1v2h-1zM367 178h1v1h-1zM368 177h1v1h-1zM369 176h1v1h-1zM370 175h1v1h-1zM371 174h1v1h-1zM372 173h1v1h-1zM373 172h1v1h-1zM374 171h1v1h-1zM375 170h1v1h-1zM376 169h1v1h-1zM377 167h1v2h-1zM378 166h1v1h-1zM379 164h1v2h-1zM380 163h1v1h-1zM381 161h1v2h-1zM382 159h1v2h-1zM383 157h1v2h-1zM384 155h1v2h-1zM385 154h1v1h-1zM386 153h1v1h-1zM387 152h1v1h-1zM388 151h1v1h-1zM389 150h1v1h-1zM390 149h1v1h-1zM391 149h1v1h-1zM392 148h1v1h-1zM393 147h1v1h-1zM394 146h1v1h-1zM395 146h1v1h-1zM396 145h1v1h-1zM397 144h1v1h-1zM398 143h1v1h-1zM399 143h1v1h-1zM400 142h1v1h-1zM401 141h1v1h-1zM402 140h1v1h-1zM403 140h1v1h-1zM404 139h1v1h-1zM405 139h1v1h-1zM406 138h1v1h-1zM407 138h1v1h-1zM408 138h1v1h-1zM409 138h1v1h-1zM410 139h1v1h-1zM411 139h1v1h-1zM412 139h1v1h-1zM413 139h1v1h-1zM414 140h1v1h-1zM415 140h1v1h-1zM416 140h1v1h-1zM417 140h1v1h-1zM418 141h1v1h-1zM419 141h1v1h-1zM420 141h1v1h-1zM421 142h1v1h-1zM422 142h1v1h-1zM423 143h1v1h-1zM424 143h1v1h-1zM425 143h1v1h-1zM426 144h1v1h-1zM427 144h1v1h-1zM428 144h1v1h-1zM429 144h1v1h-1zM430 144h1v1h-1zM431 144h1v1h-1zM432 144h1v1h-1zM433 144h1v1h-1zM434 144h1v1h-1zM435 144h1v1h-1zM436 144h1v1h-1zM437 144h1v1h-1zM438 144h1v1h-1zM439 144h1v1h-1zM440 144h1v1h-1zM441 144h1v1h-1zM442 145h1v1h-1zM443 145h1v1h-1zM444 145h1v1h-1zM445 146h1v1h-1zM446 146h1v1h-1zM447 147h1v1h-1zM448 147h1v1h-1zM449 148h1v1h-1zM450 149h1v1h-1zM451 149h1v1h-1zM452 150h1v1h-1zM453 151h1v1h-1zM454 152h1v1h-1zM455 152h1v1h-1zM456 153h1v1h-1zM457 154h1v1h-1zM458 155h1v1h-1zM459 155h1v1h-1zM460 156h1v1h-1zM461 157h1v1h-1zM462 158h1v1h-1zM463 158h1v1h-1zM464 159h1v1h-1zM465 160h1v1h-1zM466 161h1v1h-1zM467 161h1v1h-1zM468 162h1v1h-1zM469 163h1v1h-1zM470 164h1v1h-1zM471 164h1v1h-1zM472 165h1v1h-1zM473 166h1v1h-1zM474 166h1v1h-1zM475 167h1v1h-1zM476 167h1v1h-1zM477 168h1v1h-1zM478 169h1v2h-1zM479 171h1v1h-1zM480 172h1v1h-1zM481 173h1v1h-1zM482 174h1v1h-1zM483 175h1v1h-1zM484 176h1v1h-1zM485 177h1v1h-1zM486 178h1v1h-1zM487 178h1v1h-1zM488 179h1v1h-1zM489 180h1v1h-1zM490 181h1v1h-1zM491 181h1v1h-1zM492 182h1v1h-1zM493 183h1v1h-1zM494 183h1v1h-1zM495 184h1v1h-1zM496 184h1v1h-1zM497 184h1v1h-1zM498 185h1v1h-1zM499 185h1v1h-1zM500 185h1v1h-1zM501 186h1v1h-1zM502 186h1v1h-1zM503 187h1v1h-1zM504 187h1v1h-1zM505 187h1v1h-1zM506 188h1v1h-1zM507 188h1v1h-1zM508 188h1v1h-1zM509 189h1v1h-1zM510 189h1v1h-1zM511 190h1v1h-1zM512 190h1v1h-1zM513 191h1v1h-1zM514 192h1v1h-1zM515 192h1v1h-1zM516 193h1v1h-1zM517 194h1v1h-1zM518 194h1v1h-1zM519 195h1v1h-1zM520 195h1v1h-1zM521 196h1v1h-1zM522 196h1v1h-1zM523 197h1v1h-1zM524 197h1v1h-1zM525 198h1v1h-1zM526 198h1v1h-1zM527 199h1v1h-1zM528 199h1v1h-1zM529 200h1v1h-1zM530 200h1v1h-1zM531 201h1v1h-1zM532 201h1v1h-1zM533 202h1v1h-1zM534 202h1v1h-1zM535 203h1v1h-1zM536 203h1v1h-1zM537 204h1v1h-1zM538 205h1v1h-1zM539 206h1v1h-1zM540 207h1v1h-1zM541 208h1v1h-1zM542 208h1v1h-1zM543 209h1v1h-1zM544 209h1v1h-1zM545 209h1v1h-1zM546 210h1v1h-1zM547 210h1v1h-1zM548 210h1v1h-1zM549 210h1v1h-1zM550 211h1v1h-1zM551 211h1v1h-1zM552 211h1v1h-1zM553 211h1v1h-1zM554 210h1v1h-1zM555 210h1v1h-1zM556 210h1v1h-1zM557 209h1v1h-1zM558 209h1v1h-1zM559 208h1v1h-1zM560 208h1v1h-1zM561 207h1v1h-1zM562 205h1v2h-1zM563 204h1v1h-1zM564 203h1v1h-1zM565 202h1v1h-1zM566 201h1v1h-1zM567 201h1v1h-1zM568 200h1v1h-1zM569 199h1v1h-1zM570 199h1v1h-1zM571 198h1v1h-1zM572 198h1v1h-1zM573 197h1v1h-1zM574 196h1v1h-1zM575 196h1v1h-1zM576 195h1v1h-1zM577 194h1v1h-1zM578 194h1v1h-1zM579 193h1v1h-1zM580 193h1v1h-1zM581 192h1v1h-1zM582 191h1v1h-1zM583 190h1v1h-1zM584 189h1v1h-1zM585 188h1v1h-1zM586 187h1v1h-1zM587 187h1v1h-1zM588 186h1v1h-1zM589 185h1v1h-1zM590 184h1v1h-1zM591 184h1v1h-1zM592 183h1v1h-1zM593 182h1v1h-1zM594 181h1v1h-1zM595 180h1v1h-1zM596 179h1v1h-1zM597 178h1v1h-1zM598 178h1v1h-1zM599 177h1v1h-1zM600 177h1v1h-1zM601 176h1v1h-1zM602 176h1v1h-1zM603 175h1v1h-1zM604 175h1v1h-1zM605 175h1v1h-1zM606 174h1v1h-1zM607 174h1v1h-1zM608 174h1v1h-1zM609 173h1v1h-1zM610 173h1v1h-1zM611 172h1v1h-1zM612 172h1v1h-1zM613 171h1v1h-1zM614 170h1v1h-1zM615 170h1v1h-1zM616 169h1v1h-1zM617 168h1v1h-1zM618 167h1v1h-1zM619 167h1v1h-1zM620 166h1v1h-1zM621 165h1v1h-1zM622 165h1v1h-1zM623 164h1v1h-1zM624 164h1v1h-1zM625 163h1v1h-1zM626 162h1v1h-1zM627 162h1v1h-1zM628 161h1v1h-1zM629 160h1v1h-1zM630 159h1v1h-1zM631 159h1v1h-1zM632 158h1v1h-1zM633 157h1v1h-1zM634 156h1v1h-1zM635 156h1v1h-1zM636 155h1v1h-1zM637 154h1v1h-1zM638 154h1v1h-1zM639 153h1v1h-1zM640 153h1v1h-1zM641 153h1v1h-1zM642 152h1v1h-1zM643 152h1v1h-1zM644 152h1v1h-1zM645 152h1v1h-1zM646 152h1v1h-1zM647 152h1v1h-1zM648 152h1v1h-1zM649 152h1v1h-1zM650 152h1v1h-1zM651 152h1v1h-1zM652 152h1v1h-1zM653 152h1v1h-1zM654 152h1v1h-1zM655 152h1v1h-1zM656 152h1v1h-1zM657 152h1v1h-1zM658 151h1v1h-1zM659 151h1v1h-1zM660 151h1v1h-1zM661 151h1v1h-1zM662 150h1v1h-1zM663 150h1v1h-1zM664 150h1v1h-1zM665 150h1v1h-1zM666 150h1v1h-1zM667 150h1v1h-1zM668 150h1v1h-1zM669 150h1v1h-1zM670 151h1v1h-1zM671 151h1v1h-1zM672 151h1v1h-1zM673 151h1v1h-1zM674 151h1v1h-1zM675 151h1v1h-1zM676 151h1v1h-1zM677 151h1v1h-1zM678 152h1v1h-1zM679 152h1v1h-1zM680 152h1v1h-1zM681 152h1v1h-1zM682 153h1v1h-1zM683 153h1v1h-1zM684 153h1v1h-1zM685 153h1v1h-1zM686 152h1v1h-1zM687 152h1v1h-1zM688 152h1v1h-1zM689 152h1v1h-1zM690 151h1v1h-1zM691 151h1v1h-1zM692 151h1v1h-1zM693 151h1v1h-1zM694 152h1v1h-1zM695 152h1v1h-1zM696 152h1v1h-1zM697 152h1v1h-1zM698 151h1v1h-1zM699 151h1v1h-1zM700 151h1v1h-1zM701 151h1v1h-1zM702 151h1v1h-1zM703 151h1v1h-1zM704 151h1v1h-1zM705 152h1v1h-1zM706 152h1v1h-1zM707 153h1v1h-1zM708 153h1v1h-1zM709 153h1v1h-1zM710 154h1v1h-1zM711 154h1v1h-1zM712 154h1v1h-1zM713 155h1v1h-1zM714 155h1v1h-1zM715 156h1v1h-1zM716 156h1v1h-1zM717 157h1v1h-1zM718 158h1v1h-1zM719 158h1v1h-1zM720 159h1v1h-1zM721 160h1v1h-1zM722 161h1v1h-1zM723 161h1v1h-1zM724 162h1v1h-1zM725 162h1v1h-1zM726 163h1v1h-1zM727 163h1v1h-1zM728 163h1v1h-1zM729 163h1v1h-1zM730 163h1v1h-1zM731 163h1v1h-1zM732 163h1v1h-1zM733 163h1v1h-1zM734 164h1v1h-1zM735 164h1v1h-1zM736 164h1v1h-1zM737 164h1v1h-1zM738 164h1v1h-1zM739 164h1v1h-1zM740 164h1v1h-1zM741 164h1v1h-1zM742 165h1v1h-1zM743 165h1v1h-1zM744 165h1v1h-1zM745 166h1v1h-1zM746 166h1v1h-1zM747 167h1v1h-1zM748 167h1v1h-1zM749 167h1v1h-1zM750 168h1v1h-1zM751 168h1v1h-1zM752 168h1v1h-1zM753 168h1v1h-1zM754 169h1v1h-1zM755 169h1v1h-1zM756 169h1v1h-1zM757 169h1v1h-1zM758 170h1v1h-1zM759 170h1v1h-1zM760 170h1v1h-1zM761 170h1v1h-1zM762 171h1v1h-1zM763 171h1v1h-1zM764 171h1v1h-1zM765 172h1v1h-1zM766 173h1v1h-1zM767 174h1v1h-1zM768 175h1v1h-1zM769 176h1v1h-1zM770 177h1v1h-1zM771 178h1v1h-1zM772 179h1v1h-1zM773 180h1v1h-1zM774 181h1v2h-1zM775 183h1v1h-1zM776 184h1v1h-1zM777 185h1v1h-1zM778 186h1v1h-1zM779 187h1v1h-1zM780 188h1v1h-1zM781 189h1v1h-1zM782 190h1v1h-1zM783 191h1v1h-1zM784 192h1v1h-1zM785 193h1v1h-1zM786 194h1v1h-1zM787 194h1v1h-1zM788 195h1v1h-1zM789 196h1v1h-1zM790 197h1v1h-1zM791 198h1v1h-1zM792 199h1v1h-1zM793 200h1v1h-1zM794 201h1v1h-1zM795 201h1v1h-1zM796 202h1v1h-1zM797 203h1v1h-1zM798 204h1v1h-1zM799 204h1v1h-1zM800 205h1v1h-1zM801 206h1v1h-1zM802 206h1v1h-1zM803 207h1v1h-1zM804 207h1v1h-1zM805 208h1v1h-1zM806 209h1v1h-1zM807 210h1v1h-1zM808 211h1v1h-1zM809 212h1v1h-1zM810 213h1v2h-1zM811 215h1v1h-1zM812 216h1v1h-1zM813 217h1v2h-1zM814 219h1v1h-1zM815 220h1v2h-1zM816 222h1v1h-1zM817 223h1v2h-1zM818 225h1v1h-1zM819 226h1v2h-1zM820 228h1v1h-1zM821 229h1v1h-1zM822 230h1v2h-1zM823 232h1v1h-1zM824 233h1v1h-1zM825 234h1v1h-1zM826 235h1v1h-1zM827 236h1v1h-1zM828 237h1v1h-1zM829 238h1v1h-1zM830 239h1v1h-1zM831 240h1v1h-1zM832 241h1v1h-1zM833 242h1v1h-1zM834 243h1v2h-1zM835 245h1v1h-1zM836 246h1v1h-1zM837 247h1v2h-1zM838 249h1v1h-1zM839 250h1v2h-1zM840 252h1v1h-1zM841 253h1v1h-1zM842 254h1v2h-1zM843 256h1v1h-1zM844 257h1v1h-1zM845 258h1v1h-1zM846 259h1v1h-1zM847 260h1v1h-1zM848 261h1v1h-1zM849 261h1v1h-1zM850 262h1v1h-1zM851 262h1v1h-1zM852 262h1v1h-1zM853 262h1v1h-1zM854 263h1v1h-1zM855 263h1v1h-1zM856 263h1v1h-1zM857 263h1v1h-1zM858 264h1v1h-1zM859 264h1v1h-1zM860 264h1v1h-1zM861 265h1v1h-1zM862 265h1v1h-1zM863 266h1v1h-1zM864 266h1v1h-1zM865 267h1v1h-1zM866 268h1v1h-1zM867 268h1v1h-1zM868 269h1v1h-1zM869 270h1v1h-1zM870 271h1v1h-1zM871 272h1v1h-1zM872 273h1v1h-1zM873 274h1v1h-1zM874 275h1v1h-1zM875 276h1v1h-1zM876 277h1v1h-1zM877 278h1v1h-1zM878 279h1v2h-1zM879 281h1v1h-1zM880 282h1v1h-1zM881 283h1v2h-1zM882 285h1v1h-1zM883 286h1v2h-1zM884 288h1v1h-1zM885 289h1v1h-1zM886 290h1v2h-1zM887 292h1v1h-1zM888 293h1v1h-1zM889 294h1v1h-1zM890 295h1v1h-1zM891 295h1v1h-1zM892 296h1v1h-1zM893 297h1v1h-1zM894 297h1v1h-1zM895 298h1v1h-1zM896 298h1v1h-1zM897 299h1v1h-1zM898 299h1v1h-1zM899 300h1v1h-1zM900 300h1v1h-1zM901 301h1v1h-1zM902 302h1v1h-1zM903 302h1v1h-1zM904 303h1v1h-1zM905 304h1v1h-1zM906 305h1v1h-1zM907 305h1v1h-1zM908 306h1v1h-1zM909 307h1v1h-1zM910 308h1v1h-1zM911 308h1v1h-1zM912 309h1v1h-1zM913 310h1v1h-1zM914 311h1v1h-1zM915 311h1v1h-1zM916 312h1v1h-1zM917 313h1v1h-1zM918 314h1v1h-1zM919 314h1v1h-1zM920 315h1v1h-1zM921 316h1v1h-1zM922 316h1v1h-1zM923 317h1v1h-1zM924 317h1v1h-1z" fill="#0000cd"/>
<path d="M8 446h1v1h-1zM9 445h1v1h-1zM10 443h1v2h-1zM11 442h1v1h-1zM12 441h1v1h-1zM13 440h1v1h-1zM14 438h1v2h-1zM15 437h1v1h-1zM16 436h1v1h-1zM17 435h1v1h-1zM18 433h1v2h-1zM19 432h1v1h-1zM20 431h1v1h-1zM21 430h1v1h-1zM22 428h1v2h-1zM23 427h1v1h-1zM24 426h1v1h-1zM25 425h1v1h-1zM26 424h1v1h-1zM27 423h1v1h-1zM28 422h1v1h-1zM29 421h1v1h-1zM30 419h1v2h-1zM31 418h1v1h-1zM32 417h1v1h-1zM33 416h1v1h-1zM34 415h1v1h-1zM35 414h1v1h-1zM36 413h1v1h-1zM37 411h1v2h-1zM38 409h1v2h-1zM39 407h1v2h-1zM40 404h1v3h-1zM41 402h1v2h-1zM42 399h1v3h-1zM43 397h1v2h-1zM44 395h1v2h-1zM45 393h1v2h-1zM46 391h1v2h-1zM47 389h1v2h-1zM48 387h1v2h-1zM49 385h1v2h-1zM50 383h1v2h-1zM51 381h1v2h-1zM52 379h1v2h-1zM53 377h1v2h-1zM54 376h1v1h-1zM55 374h1v2h-1zM56 373h1v1h-1zM57 372h1v1h-1zM58 371h1v1h-1zM59 370h1v1h-1zM60 369h1v1h-1zM61 368h1v1h-1zM62 368h1v1h-1zM63 367h1v1h-1zM64 367h1v1h-1zM65 367h1v1h-1zM66 366h1v1h-1zM67 366h1v1h-1zM68 366h1v1h-1zM69 365h1v1h-1zM70 365h1v1h-1zM71 364h1v1h-1zM72 364h1v1h-1zM73 363h1v1h-1zM74 363h1v1h-1zM75 362h1v1h-1zM76 362h1v1h-1zM77 361h1v1h-1zM78 360h1v1h-1zM79 360h1v1h-1zM80 359h1v1h-1zM81 358h1v1h-1zM82 357h1v1h-1zM83 356h1v1h-1zM84 355h1v1h-1zM85 354h1v1h-1zM86 353h1v1h-1zM87 352h1v1h-1zM88 351h1v1h-1zM89 350h1v1h-1zM90 350h1v1h-1zM91 349h1v1h-1zM92 349h1v1h-1zM93 348h1v1h-1zM94 347h1v1h-1zM95 347h1v1h-1zM96 346h1v1h-1zM97 345h1v1h-1zM98 344h1v1h-1zM99 344h1v1h-1zM100 343h1v1h-1zM101 342h1v1h-1zM102 341h1v1h-1zM103 340h1v1h-1zM104 339h1v1h-1zM105 338h1v1h-1zM106 337h1v1h-1zM107 336h1v1h-1zM108 335h1v1h-1zM109 334h1v1h-1zM110 333h1v1h-1zM111 332h1v1h-1zM112 331h1v1h-1zM113 330h1v1h-1zM114 328h1v2h-1zM115 327h1v1h-1zM116 326h1v1h-1zM117 325h1v1h-1zM118 324h1v1h-1zM119 323h1v1h-1zM120 322h1v1h-1zM121 321h1v1h-1zM122 319h1v2h-1zM123 318h1v1h-1zM124 317h1v1h-1zM125 316h1v1h-1zM126 314h1v2h-1zM127 313h1v1h-1zM128 312h1v1h-1zM129 310h1v2h-1zM130 309h1v1h-1zM131 307h1v2h-1zM132 306h1v1h-1zM133 305h1v1h-1zM134 303h1v2h-1zM135 302h1v1h-1zM136 301h1v1h-1zM137 299h1v2h-1zM138 298h1v1h-1zM139 296h1v2h-1zM140 295h1v1h-1zM141 294h1v1h-1zM142 292h1v2h-1zM143 291h1v1h-1zM144 290h1v1h-1zM145 289h1v1h-1zM146 287h1v2h-1zM147 286h1v1h-1zM148 285h1v1h-1zM149 283h1v2h-1zM150 281h1v2h-1zM151 279h1v2h-1zM152 276h1v3h-1zM153 274h1v2h-1zM154 272h1v2h-1zM155 270h1v2h-1zM156 268h1v2h-1zM157 267h1v1h-1zM158 265h1v2h-1zM159 264h1v1h-1zM160 263h1v1h-1zM161 262h1v1h-1zM162 261h1v1h-1zM163 260h1v1h-1zM164 259h1v1h-1zM165 258h1v1h-1zM166 257h1v1h-1zM167 257h1v1h-1zM168 256h1v1h-1zM169 255h1v1h-1zM170 254h1v1h-1zM171 253h1v1h-1zM172 252h1v1h-1zM173 251h1v1h-1zM174 249h1v2h-1zM175 248h1v1h-1zM176 247h1v1h-1zM177 246h1v1h-1zM178 245h1v1h-1zM179 244h1v1h-1zM180 243h1v1h-1zM181 242h1v1h-1zM182 241h1v1h-1zM183 241h1v1h-1zM184 240h1v1h-1zM185 239h1v1h-1zM186 238h1v1h-1zM187 238h1v1h-1zM188 237h1v1h-1zM189 236h1v1h-1zM190 235h1v1h-1zM191 234h1v1h-1zM192 233h1v1h-1zM193 232h1v1h-1zM194 230h1v2h-1zM195 229h1v1h-1zM196 228h1v1h-1zM197 227h1v1h-1zM198 226h1v1h-1zM199 225h1v1h-1zM200 224h1v1h-1zM201 223h1v1h-1zM202 222h1v1h-1zM203 221h1v1h-1zM204 220h1v1h-1zM205 219h1v1h-1zM206 217h1v2h-1zM207 216h1v1h-1zM208 215h1v1h-1zM209 214h1v1h-1zM210 213h1v1h-1zM211 212h1v1h-1zM212 211h1v1h-1zM213 210h1v1h-1zM214 209h1v1h-1zM215 208h1v1h-1zM216 207h1v1h-1zM217 205h1v2h-1zM218 203h1v2h-1zM219 201h1v2h-1zM220 199h1v2h-1zM221 197h1v2h-1zM222 195h1v2h-1zM223 193h1v2h-1zM224 192h1v1h-1zM225 191h1v1h-1zM226 190h1v1h-1zM227 189h1v1h-1zM228 188h1v1h-1zM229 187h1v1h-1zM230 186h1v1h-1zM231 186h1v1h-1zM232 185h1v1h-1zM233 183h1v2h-1zM234 182h1v1h-1zM235 180h1v2h-1zM236 179h1v1h-1zM237 178h1v1h-1zM238 177h1v1h-1zM239 176h1v1h-1zM240 175h1v1h-1zM241 174h1v1h-1zM242 172h1v2h-1zM243 171h1v1h-1zM244 170h1v1h-1zM245 169h1v1h-1zM246 169h1v1h-1zM247 168h1v1h-1zM248 168h1v1h-1zM249 169h1v1h-1zM250 170h1v1h-1zM251 170h1v1h-1zM252 171h1v1h-1zM253 171h1v1h-1zM254 170h1v1h-1zM255 170h1v1h-1zM256 170h1v1h-1zM257 169h1v1h-1zM258 169h1v1h-1zM259 168h1v1h-1zM260 168h1v1h-1zM261 168h1v1h-1zM262 168h1v1h-1zM263 168h1v1h-1zM264 168h1v1h-1zM265 168h1v1h-1zM266 169h1v1h-1zM267 169h1v1h-1zM268 169h1v1h-1zM269 169h1v1h-1zM270 170h1v1h-1zM271 170h1v1h-1zM272 170h1v1h-1zM273 170h1v1h-1zM274 171h1v1h-1zM275 171h1v1h-1zM276 171h1v1h-1zM277 171h1v1h-1zM278 171h1v1h-1zM279 171h1v1h-1zM280 171h1v1h-1zM281 171h1v1h-1zM282 172h1v1h-1zM283 172h1v1h-1zM284 172h1v1h-1zM285 173h1v1h-1zM286 173h1v1h-1zM287 174h1v1h-1zM288 174h1v1h-1zM289 175h1v1h-1zM290 176h1v1h-1zM291 176h1v1h-1zM292 177h1v1h-1zM293 178h1v1h-1zM294 179h1v1h-1zM295 179h1v1h-1zM296 180h1v1h-1zM297 181h1v1h-1zM298 182h1v1h-1zM299 182h1v1h-1zM300 183h1v1h-1zM301 184h1v1h-1zM302 185h1v1h-1zM303 185h1v1h-1zM304 186h1v1h-1zM305 187h1v1h-1zM306 188h1v1h-1zM307 188h1v1h-1zM308 189h1v1h-1zM309 190h1v1h-1zM310 190h1v1h-1zM311 191h1v1h-1zM312 191h1v1h-1zM313 192h1v1h-1zM314 193h1v1h-1zM315 193h1v1h-1zM316 194h1v1h-1zM317 195h1v1h-1zM318 196h1v1h-1zM319 196h1v1h-1zM320 197h1v1h-1zM321 198h1v1h-1zM322 198h1v1h-1zM323 199h1v1h-1zM324 199h1v1h-1zM325 199h1v1h-1zM326 198h1v1h-1zM327 198h1v1h-1zM328 198h1v1h-1zM329 198h1v1h-1zM330 197h1v1h-1zM331 197h1v1h-1zM332 197h1v1h-1zM333 197h1v1h-1zM334 196h1v1h-1zM335 196h1v1h-1zM336 196h1v1h-1zM337 195h1v1h-1zM338 195h1v1h-1zM339 194h1v1h-1zM340 194h1v1h-1zM341 194h1v1h-1zM342 193h1v1h-1zM343 193h1v1h-1zM344 193h1v1h-1zM345 192h1v1h-1zM346 191h1v1h-1zM347 191h1v1h-1zM348 190h1v1h-1zM349 189h1v1h-1zM350 188h1v1h-1zM351 187h1v1h-1zM352 186h1v1h-1zM353 185h1v1h-1zM354 184h1v1h-1zM355 183h1v1h-1zM356 182h1v1h-1zM357 180h1v2h-1zM358 179h1v1h-1zM359 177h1v2h-1zM360 176h1v1h-1zM361 174h1v2h-1zM362 172h1v2h-1zM363 170h1v2h-1zM364 168h1v2h-1zM365 167h1v1h-1zM366 165h1v2h-1zM367 164h1v1h-1zM368 162h1v2h-1zM369 159h1v3h-1zM370 157h1v2h-1zM371 154h1v3h-1zM372 151h1v3h-1zM373 149h1v2h-1zM374 147h1v2h-1zM375 145h1v2h-1zM376 143h1v2h-1zM377 141h1v2h-1zM378 140h1v1h-1zM379 138h1v2h-1zM380 137h1v1h-1zM381 135h1v2h-1zM382 134h1v1h-1zM383 132h1v2h-1zM384 131h1v1h-1zM385 131h1v1h-1zM386 130h1v1h-1zM387 130h1v1h-1zM388 130h1v1h-1zM389 130h1v1h-1zM390 131h1v1h-1zM391 131h1v1h-1zM392 131h1v1h-1zM393 131h1v1h-1zM394 130h1v1h-1zM395 130h1v1h-1zM396 130h1v1h-1zM397 130h1v1h-1zM398 129h1v1h-1zM399 129h1v1h-1zM400 129h1v1h-1zM401 128h1v1h-1zM402 128h1v1h-1zM403 127h1v1h-1zM404 127h1v1h-1zM405 127h1v1h-1zM406 127h1v1h-1zM407 127h1v1h-1zM408 127h1v1h-1zM409 128h1v1h-1zM410 128h1v1h-1zM411 129h1v1h-1zM412 129h1v1h-1zM413 130h1v1h-1zM414 130h1v1h-1zM415 131h1v1h-1zM416 131h1v1h-1zM417 132h1v2h-1zM418 134h1v1h-1zM419 135h1v2h-1zM420 137h1v1h-1zM421 138h1v1h-1zM422 139h1v2h-1zM423 141h1v1h-1zM424 142h1v1h-1zM425 143h1v2h-1zM426 145h1v1h-1zM427 146h1v2h-1zM428 148h1v1h-1zM429 149h1v1h-1zM430 150h1v1h-1zM431 151h1v1h-1zM432 152h1v1h-1zM433 153h1v2h-1zM434 155h1v2h-1zM435 157h1v2h-1zM436 159h1v1h-1zM437 160h1v1h-1zM438 161h1v1h-1zM439 162h1v1h-1zM440 163h1v1h-1zM441 164h1v1h-1zM442 164h1v1h-1zM443 165h1v1h-1zM444 165h1v1h-1zM445 165h1v1h-1zM446 166h1v1h-1zM447 166h1v1h-1zM448 166h1v1h-1zM449 166h1v1h-1zM450 166h1v1h-1zM451 166h1v1h-1zM452 166h1v1h-1zM453 166h1v1h-1zM454 167h1v1h-1zM455 167h1v1h-1zM456 167h1v1h-1zM457 168h1v1h-1zM458 168h1v1h-1zM459 169h1v1h-1zM460 169h1v1h-1zM461 169h1v1h-1zM462 170h1v1h-1zM463 170h1v1h-1zM464 170h1v1h-1zM465 169h1v1h-1zM466 169h1v1h-1zM467 168h1v1h-1zM468 168h1v1h-1zM469 168h1v1h-1zM470 168h1v1h-1zM471 168h1v1h-1zM472 168h1v1h-1zM473 169h1v1h-1zM474 169h1v1h-1zM475 170h1v1h-1zM476 170h1v1h-1zM477 171h1v1h-1zM478 172h1v1h-1zM479 172h1v1h-1zM480 173h1v1h-1zM481 174h1v1h-1zM482 175h1v1h-1zM483 175h1v1h-1zM484 176h1v1h-1zM485 177h1v1h-1zM486 178h1v2h-1zM487 180h1v1h-1zM488 181h1v1h-1zM489 182h1v1h-1zM490 183h1v1h-1zM491 184h1v1h-1zM492 185h1v1h-1zM493 186h1v1h-1zM494 187h1v1h-1zM495 188h1v1h-1zM496 189h1v1h-1zM497 190h1v1h-1zM498 191h1v1h-1zM499 192h1v1h-1zM500 193h1v1h-1zM501 194h1v1h-1zM502 195h1v1h-1zM503 196h1v1h-1zM504 197h1v1h-1zM505 198h1v1h-1zM506 199h1v1h-1zM507 199h1v1h-1zM508 200h1v1h-1zM509 201h1v1h-1zM510 202h1v2h-1zM511 204h1v1h-1zM512 205h1v1h-1zM513 206h1v1h-1zM514 207h1v1h-1zM515 208h1v1h-1zM516 209h1v1h-1zM517 210h1v1h-1zM518 211h1v1h-1zM519 211h1v1h-1zM520 212h1v1h-1zM521 213h1v1h-1zM522 214h1v1h-1zM523 214h1v1h-1zM524 215h1v1h-1zM525 216h1v1h-1zM526 216h1v1h-1zM527 217h1v1h-1zM528 217h1v1h-1zM529 217h1v1h-1zM530 216h1v1h-1zM531 216h1v1h-1zM532 216h1v1h-1zM533 216h1v1h-1zM534 215h1v1h-1zM535 215h1v1h-1zM536 215h1v1h-1zM537 215h1v1h-1zM538 215h1v1h-1zM539 215h1v1h-1zM540 215h1v1h-1zM541 215h1v1h-1zM542 215h1v1h-1zM543 215h1v1h-1zM544 215h1v1h-1zM545 214h1v1h-1zM546 213h1v1h-1zM547 212h1v1h-1zM548 211h1v1h-1zM549 210h1v1h-1zM550 209h1v1h-1zM551 209h1v1h-1zM552 208h1v1h-1zM553 207h1v1h-1zM554 206h1v1h-1zM555 205h1v1h-1zM556 204h1v1h-1zM557 203h1v1h-1zM558 202h1v1h-1zM559 201h1v1h-1zM560 200h1v1h-1zM561 199h1v1h-1zM562 197h1v2h-1zM563 196h1v1h-1zM564 195h1v1h-1zM565 194h1v1h-1zM566 192h1v2h-1zM567 191h1v1h-1zM568 190h1v1h-1zM569 189h1v1h-1zM570 189h1v1h-1zM571 188h1v1h-1zM572 188h1v1h-1zM573 187h1v1h-1zM574 186h1v1h-1zM575 186h1v1h-1zM576 185h1v1h-1zM577 184h1v1h-1zM578 183h1v1h-1zM579 183h1v1h-1zM580 182h1v1h-1zM581 181h1v1h-1zM582 180h1v1h-1zM583 180h1v1h-1zM584 179h1v1h-1zM585 177h1v2h-1zM586 175h1v2h-1zM587 173h1v2h-1zM588 172h1v1h-1zM589 171h1v1h-1zM590 170h1v1h-1zM591 169h1v1h-1zM592 168h1v1h-1zM593 167h1v1h-1zM594 166h1v1h-1zM595 165h1v1h-1zM596 164h1v1h-1zM597 163h1v1h-1zM598 162h1v1h-1zM599 161h1v1h-1zM600 160h1v1h-1zM601 160h1v1h-1zM602 160h1v1h-1zM603 160h1v1h-1zM604 160h1v1h-1zM605 160h1v1h-1zM606 161h1v1h-1zM607 161h1v1h-1zM608 161h1v1h-1zM609 161h1v1h-1zM610 161h1v1h-1zM611 161h1v1h-1zM612 161h1v1h-1zM613 161h1v1h-1zM614 161h1v1h-1zM615 161h1v1h-1zM616 161h1v1h-1zM617 161h1v1h-1zM618 162h1v1h-1zM619 162h1v1h-1zM620 162h1v1h-1zM621 161h1v1h-1zM622 161h1v1h-1zM623 160h1v1h-1zM624 160h1v1h-1zM625 159h1v1h-1zM626 158h1v1h-1zM627 158h1v1h-1zM628 157h1v1h-1zM629 156h1v1h-1zM630 155h1v1h-1zM631 155h1v1h-1zM632 154h1v1h-1zM633 153h1v1h-1zM634 151h1v2h-1zM635 150h1v1h-1zM636 149h1v1h-1zM637 148h1v1h-1zM638 148h1v1h-1zM639 147h1v1h-1zM640 147h1v1h-1zM641 148h1v1h-1zM642 148h1v1h-1zM643 149h1v1h-1zM644 149h1v1h-1zM645 150h1v1h-1zM646 150h1v1h-1zM647 151h1v1h-1zM648 151h1v1h-1zM649 151h1v1h-1zM650 150h1v1h-1zM651 150h1v1h-1zM652 150h1v1h-1zM653 150h1v1h-1zM654 149h1v1h-1zM655 149h1v1h-1zM656 149h1v1h-1zM657 149h1v1h-1zM658 148h1v1h-1zM659 148h1v1h-1zM660 148h1v1h-1zM661 147h1v1h-1zM662 147h1v1h-1zM663 146h1v1h-1zM664 146h1v1h-1zM665 146h1v1h-1zM666 145h1v1h-1zM667 145h1v1h-1zM668 145h1v1h-1zM669 144h1v1h-1zM670 144h1v1h-1zM671 143h1v1h-1zM672 143h1v1h-1zM673 143h1v1h-1zM674 143h1v1h-1zM675 143h1v1h-1zM676 143h1v1h-1zM677 144h1v1h-1zM678 144h1v1h-1zM679 145h1v1h-1zM680 145h1v1h-1zM681 146h1v1h-1zM682 147h1v1h-1zM683 147h1v1h-1zM684 148h1v1h-1zM685 149h1v1h-1zM686 150h1v1h-1zM687 151h1v1h-1zM688 152h1v1h-1zM689 153h1v1h-1zM690 154h1v1h-1zM691 155h1v1h-1zM692 156h1v1h-1zM693 157h1v1h-1zM694 158h1v1h-1zM695 158h1v1h-1zM696 159h1v1h-1zM697 159h1v1h-1zM698 160h1v1h-1zM699 160h1v1h-1zM700 160h1v1h-1zM701 160h1v1h-1zM702 161h1v1h-1zM703 161h1v1h-1zM704 161h1v1h-1zM705 161h1v1h-1zM706 161h1v1h-1zM707 161h1v1h-1zM708 161h1v1h-1zM709 161h1v1h-1zM710 162h1v1h-1zM711 162h1v1h-1zM712 162h1v1h-1zM713 163h1v1h-1zM714 163h1v1h-1zM715 164h1v1h-1zM716 164h1v1h-1zM717 165h1v1h-1zM718 165h1v1h-1zM719 166h1v1h-1zM720 166h1v1h-1zM721 166h1v1h-1zM722 167h1v1h-1zM723 167h1v1h-1zM724 167h1v1h-1zM725 168h1v1h-1zM726 168h1v1h-1zM727 169h1v1h-1zM728 169h1v1h-1zM729 169h1v1h-1zM730 168h1v1h-1zM731 168h1v1h-1zM732 168h1v1h-1zM733 168h1v1h-1zM734 168h1v1h-1zM735 168h1v1h-1zM736 168h1v1h-1zM737 168h1v1h-1zM738 168h1v1h-1zM739 168h1v1h-1zM740 168h1v1h-1zM741 168h1v1h-1zM742 169h1v1h-1zM743 169h1v1h-1zM744 169h1v1h-1zM745 169h1v1h-1zM746 169h1v1h-1zM747 169h1v1h-1zM748 169h1v1h-1zM749 169h1v1h-1zM750 170h1v1h-1zM751 170h1v1h-1zM752 170h1v1h-1zM753 170h1v1h-1zM754 170h1v1h-1zM755 170h1v1h-1zM756 170h1v1h-1zM757 170h1v1h-1zM758 171h1v1h-1zM759 171h1v1h-1zM760 171h1v1h-1zM761 171h1v1h-1zM762 172h1v1h-1zM763 172h1v1h-1zM764 172h1v1h-1zM765 173h1v1h-1zM766 174h1v2h-1zM767 176h1v1h-1zM768 177h1v1h-1zM769 178h1v2h-1zM770 180h1v2h-1zM771 182h1v2h-1zM772 184h1v2h-1zM773 186h1v1h-1zM774 187h1v2h-1zM775 189h1v1h-1zM776 190h1v1h-1zM777 191h1v2h-1zM778 193h1v2h-1zM779 195h1v2h-1zM780 197h1v1h-1zM781 198h1v2h-1zM782 200h1v2h-1zM783 202h1v2h-1zM784 204h1v2h-1zM785 206h1v1h-1zM786 207h1v2h-1zM787 209h1v1h-1zM788 210h1v1h-1zM789 211h1v1h-1zM790 212h1v2h-1zM791 214h1v1h-1zM792 215h1v1h-1zM793 216h1v1h-1zM794 217h1v2h-1zM795 219h1v1h-1zM796 220h1v1h-1zM797 221h1v1h-1zM798 222h1v1h-1zM799 223h1v1h-1zM800 224h1v1h-1zM801 225h1v1h-1zM802 226h1v1h-1zM803 227h1v1h-1zM804 228h1v1h-1zM805 229h1v2h-1zM806 231h1v1h-1zM807 232h1v2h-1zM808 234h1v1h-1zM809 235h1v1h-1zM810 236h1v2h-1zM811 238h1v1h-1zM812 239h1v1h-1zM813 240h1v2h-1zM814 242h1v1h-1zM815 243h1v2h-1zM816 245h1v2h-1zM817 247h1v2h-1zM818 249h1v2h-1zM819 251h1v2h-1zM820 253h1v2h-1zM821 254h1v1h-1zM822 255h1v1h-1zM823 255h1v1h-1zM824 255h1v1h-1zM825 255h1v1h-1zM826 254h1v1h-1zM827 254h1v1h-1zM828 254h1v1h-1zM829 254h1v1h-1zM830 255h1v1h-1zM831 255h1v1h-1zM832 255h1v1h-1zM833 255h1v1h-1zM834 256h1v1h-1zM835 256h1v1h-1zM836 256h1v1h-1zM837 257h1v1h-1zM838 257h1v1h-1zM839 258h1v1h-1zM840 258h1v1h-1zM841 259h1v1h-1zM842 260h1v2h-1zM843 262h1v1h-1zM844 263h1v1h-1zM845 264h1v1h-1zM846 264h1v1h-1zM847 265h1v1h-1zM848 265h1v1h-1zM849 266h1v1h-1zM850 267h1v1h-1zM851 267h1v1h-1zM852 268h1v1h-1zM853 269h1v1h-1zM854 270h1v1h-1zM855 271h1v1h-1zM856 272h1v1h-1zM857 273h1v1h-1zM858 274h1v1h-1zM859 275h1v1h-1zM860 276h1v1h-1zM861 276h1v1h-1zM862 277h1v1h-1zM863 277h1v1h-1zM864 277h1v1h-1zM865 278h1v1h-1zM866 279h1v1h-1zM867 279h1v1h-1zM868 280h1v1h-1zM869 281h1v1h-1zM870 281h1v1h-1zM871 282h1v1h-1zM872 282h1v1h-1zM873 283h1v1h-1zM874 284h1v2h-1zM875 286h1v1h-1zM876 287h1v1h-1zM877 288h1v2h-1zM878 290h1v2h-1zM879 292h1v2h-1zM880 294h1v1h-1zM881 295h1v1h-1zM882 296h1v1h-1zM883 297h1v1h-1zM884 298h1v1h-1zM885 299h1v1h-1zM886 300h1v1h-1zM887 301h1v1h-1zM888 302h1v1h-1zM889 303h1v1h-1zM890 304h1v2h-1zM891 306h1v1h-1zM892 307h1v1h-1zM893 308h1v1h-1zM894 309h1v1h-1zM895 309h1v1h-1zM896 310h1v1h-1zM897 311h1v1h-1zM898 312h1v1h-1zM899 312h1v1h-1zM900 313h1v1h-1zM901 314h1v1h-1zM902 315h1v1h-1zM903 316h1v1h-1zM904 317h1v1h-1zM905 318h1v1h-1zM906 319h1v1h-1zM907 320h1v1h-1zM908 321h1v1h-1zM909 322h1v1h-1zM910 323h1v1h-1zM911 323h1v1h-1zM912 324h1v1h-1zM913 325h1v1h-1zM914 326h1v1h-1zM915 326h1v1h-1zM916 327h1v1h-1zM917 328h1v1h-1zM918 329h1v1h-1zM919 329h1v1h-1zM920 330h1v1h-1zM921 331h1v1h-1zM922 331h1v1h-1zM923 332h1v1h-1zM924 332h1v1h-1z" fill="#ff0000"/>
<rect x="4" y="395" width="1" height="77" fill="#32cd32"/>
<rect x="3" y="419" width="3" height="4" fill="#22c922"/>
<rect x="4" y="420" width="1" height="2" fill="#32cd32"/>
<rect x="8" y="371" width="1" height="59" fill="#ff0000"/>
<rect x="7" y="372" width="3" height="51" fill="#ff0000"/>
<rect x="8" y="373" width="1" height="49" fill="#ff4500"/>
<rect x="12" y="365" width="1" height="23" fill="#32cd32"/>
<rect x="11" y="372" width="3" height="3" fill="#22c922"/>
<rect x="12" y="373" width="1" height="1" fill="#32cd32"/>
<rect x="16" y="371" width="1" height="6" fill="#32cd32"/>
<rect x="15" y="374" width="3" height="2" fill="#22c922"/>
<rect x="20" y="342" width="1" height="34" fill="#ff0000"/>
<rect x="19" y="362" width="3" height="10" fill="#ff0000"/>
<rect x="20" y="363" width="1" height="8" fill="#ff4500"/>
<rect x="24" y="360" width="1" height="22" fill="#32cd32"/>
<rect x="23" y="362" width="3" height="12" fill="#22c922"/>
<rect x="24" y="363" width="1" height="10" fill="#32cd32"/>
<rect x="28" y="352" width="1" height="27" fill="#32cd32"/>
<rect x="27" y="373" width="3" height="4" fill="#22c922"/>
<rect x="28" y="374" width="1" height="2" fill="#32cd32"/>
<rect x="32" y="363" width="1" height="22" fill="#32cd32"/>
<rect x="31" y="376" width="3" height="1" fill="#22c922"/>
<rect x="36" y="373" width="1" height="23" fill="#32cd32"/>
<rect x="35" y="376" width="3" height="9" fill="#22c922"/>
<rect x="36" y="377" width="1" height="7" fill="#32cd32"/>
<rect x="40" y="372" width="1" height="13" fill="#ff0000"/>
<rect x="39" y="376" width="3" height="9" fill="#ff0000"/>
<rect x="40" y="377" width="1" height="7" fill="#ff4500"/>
<rect x="44" y="350" width="1" height="27" fill="#ff0000"/>
<rect x="43" y="351" width="3" height="26" fill="#ff0000"/>
<rect x="44" y="352" width="1" height="24" fill="#ff4500"/>
<rect x="48" y="342" width="1" height="24" fill="#32cd32"/>
<rect x="47" y="351" width="3" height="9" fill="#22c922"/>
<rect x="48" y="352" width="1" height="7" fill="#32cd32"/>
<rect x="52" y="347" width="1" height="26" fill="#ff0000"/>
<rect x="51" y="349" width="3" height="11" fill="#ff0000"/>
<rect x="52" y="350" width="1" height="9" fill="#ff4500"/>
<rect x="56" y="346" width="1" height="35" fill="#32cd32"/>
<rect x="55" y="349" width="3" height="25" fill="#22c922"/>
<rect x="56" y="350" width="1" height="23" fill="#32cd32"/>
<rect x="60" y="349" width="1" height="29" fill="#ff0000"/>
<rect x="59" y="355" width="3" height="18" fill="#ff0000"/>
<rect x="60" y="356" width="1" height="16" fill="#ff4500"/>
<rect x="64" y="353" width="1" height="5" fill="#ff0000"/>
<rect x="63" y="355" width="3" height="1" fill="#ff0000"/>
<rect x="68" y="343" width="1" height="30" fill="#32cd32"/>
<rect x="67" y="360" width="3" height="10" fill="#22c922"/>
<rect x="68" y="361" width="1" height="8" fill="#32cd32"/>
<rect x="72" y="330" width="1" height="46" fill="#ff0000"/>
<rect x="71" y="340" width="3" height="30" fill="#ff0000"/>
<rect x="72" y="341" width="1" height="28" fill="#ff4500"/>
<rect x="76" y="327" width="1" height="23" fill="#ff0000"/>
<rect x="75" y="337" width="3" height="4" fill="#ff0000"/>
<rect x="76" y="338" width="1" height="2" fill="#ff4500"/>
<rect x="80" y="327" width="1" height="13" fill="#ff0000"/>
<rect x="79" y="333" width="3" height="5" fill="#ff0000"/>
<rect x="80" y="334" width="1" height="3" fill="#ff4500"/>
<rect x="84" y="316" width="1" height="22" fill="#ff0000"/>
<rect x="83" y="318" width="3" height="16" fill="#ff0000"/>
<rect x="84" y="319" width="1" height="14" fill="#ff4500"/>
<rect x="88" y="316" width="1" height="8" fill="#32cd32"/>
<rect x="87" y="318" width="3" height="4" fill="#22c922"/>
<rect x="88" y="319" width="1" height="2" fill="#32cd32"/>
<rect x="92" y="312" width="1" height="24" fill="#32cd32"/>
<rect x="91" y="321" width="3" height="10" fill="#22c922"/>
<rect x="92" y="322" width="1" height="8" fill="#32cd32"/>
<rect x="96" y="327" width="1" height="17" fill="#32cd32"/>
<rect x="95" y="330" width="3" height="7" fill="#22c922"/>
<rect x="96" y="331" width="1" height="5" fill="#32cd32"/>
<rect x="100" y="319" width="1" height="19" fill="#ff0000"/>
<rect x="99" y="325" width="3" height="13" fill="#ff0000"/>
<rect x="100" y="326" width="1" height="11" fill="#ff4500"/>
<rect x="104" y="295" width="1" height="31" fill="#ff0000"/>
<rect x="103" y="296" width="3" height="30" fill="#ff0000"/>
<rect x="104" y="297" width="1" height="28" fill="#ff4500"/>
<rect x="108" y="294" width="1" height="18" fill="#32cd32"/>
<rect x="107" y="296" width="3" height="6" fill="#22c922"/>
<rect x="108" y="297" width="1" height="4" fill="#32cd32"/>
<rect x="112" y="296" width="1" height="7" fill="#ff0000"/>
<rect x="111" y="298" width="3" height="5" fill="#ff0000"/>
<rect x="112" y="299" width="1" height="3" fill="#ff4500"/>
<rect x="116" y="295" width="1" height="34" fill="#ff0000"/>
<rect x="115" y="296" width="3" height="7" fill="#ff0000"/>
<rect x="116" y="297" width="1" height="5" fill="#ff4500"/>
<rect x="120" y="292" width="1" height="25" fill="#32cd32"/>
<rect x="119" y="296" width="3" height="15" fill="#22c922"/>
<rect x="120" y="297" width="1" height="13" fill="#32cd32"/>
<rect x="124" y="278" width="1" height="38" fill="#ff0000"/>
<rect x="123" y="289" width="3" height="22" fill="#ff0000"/>
<rect x="124" y="290" width="1" height="20" fill="#ff4500"/>
<rect x="128" y="259" width="1" height="47" fill="#ff0000"/>
<rect x="127" y="263" width="3" height="27" fill="#ff0000"/>
<rect x="128" y="264" width="1" height="25" fill="#ff4500"/>
<rect x="132" y="240" width="1" height="27" fill="#ff0000"/>
<rect x="131" y="256" width="3" height="8" fill="#ff0000"/>
<rect x="132" y="257" width="1" height="6" fill="#ff4500"/>
<rect x="136" y="252" width="1" height="9" fill="#ff0000"/>
<rect x="135" y="255" width="3" height="2" fill="#ff0000"/>
<rect x="140" y="237" width="1" height="24" fill="#32cd32"/>
<rect x="139" y="250" width="3" height="6" fill="#22c922"/>
<rect x="140" y="251" width="1" height="4" fill="#32cd32"/>
<rect x="144" y="250" width="1" height="19" fill="#ff0000"/>
<rect x="143" y="254" width="3" height="2" fill="#ff0000"/>
<rect x="148" y="236" width="1" height="20" fill="#ff0000"/>
<rect x="147" y="243" width="3" height="13" fill="#ff0000"/>
<rect x="148" y="244" width="1" height="11" fill="#ff4500"/>
<rect x="152" y="209" width="1" height="46" fill="#ff0000"/>
<rect x="151" y="218" width="3" height="26" fill="#ff0000"/>
<rect x="152" y="219" width="1" height="24" fill="#ff4500"/>
<rect x="156" y="213" width="1" height="22" fill="#32cd32"/>
<rect x="155" y="219" width="3" height="4" fill="#22c922"/>
<rect x="156" y="220" width="1" height="2" fill="#32cd32"/>
<rect x="160" y="217" width="1" height="10" fill="#ff0000"/>
<rect x="159" y="220" width="3" height="3" fill="#ff0000"/>
<rect x="160" y="221" width="1" height="1" fill="#ff4500"/>
<rect x="164" y="224" width="1" height="65" fill="#32cd32"/>
<rect x="163" y="227" width="3" height="20" fill="#22c922"/>
<rect x="164" y="228" width="1" height="18" fill="#32cd32"/>
<rect x="168" y="227" width="1" height="38" fill="#32cd32"/>
<rect x="167" y="246" width="3" height="17" fill="#22c922"/>
<rect x="168" y="247" width="1" height="15" fill="#32cd32"/>
<rect x="172" y="232" width="1" height="32" fill="#ff0000"/>
<rect x="171" y="237" width="3" height="27" fill="#ff0000"/>
<rect x="172" y="238" width="1" height="25" fill="#ff4500"/>
<rect x="176" y="224" width="1" height="17" fill="#ff0000"/>
<rect x="175" y="228" width="3" height="10" fill="#ff0000"/>
<rect x="176" y="229" width="1" height="8" fill="#ff4500"/>
<rect x="180" y="225" width="1" height="9" fill="#32cd32"/>
<rect x="179" y="226" width="3" height="6" fill="#22c922"/>
<rect x="180" y="227" width="1" height="4" fill="#32cd32"/>
<rect x="184" y="217" width="1" height="30" fill="#32cd32"/>
<rect x="183" y="228" width="3" height="15" fill="#22c922"/>
<rect x="184" y="229" width="1" height="13" fill="#32cd32"/>
<rect x="188" y="218" width="1" height="26" fill="#ff0000"/>
<rect x="187" y="221" width="3" height="23" fill="#ff0000"/>
<rect x="188" y="222" width="1" height="21" fill="#ff4500"/>
<rect x="192" y="189" width="1" height="37" fill="#ff0000"/>
<rect x="191" y="189" width="3" height="33" fill="#ff0000"/>
<rect x="192" y="190" width="1" height="31" fill="#ff4500"/>
<rect x="196" y="164" width="1" height="31" fill="#ff0000"/>
<rect x="195" y="173" width="3" height="17" fill="#ff0000"/>
<rect x="196" y="174" width="1" height="15" fill="#ff4500"/>
<rect x="200" y="172" width="1" height="16" fill="#32cd32"/>
<rect x="199" y="174" width="3" height="14" fill="#22c922"/>
<rect x="200" y="175" width="1" height="12" fill="#32cd32"/>
<rect x="204" y="164" width="1" height="28" fill="#32cd32"/>
<rect x="203" y="185" width="3" height="7" fill="#22c922"/>
<rect x="204" y="186" width="1" height="5" fill="#32cd32"/>
<rect x="208" y="169" width="1" height="40" fill="#ff0000"/>
<rect x="207" y="170" width="3" height="21" fill="#ff0000"/>
<rect x="208" y="171" width="1" height="19" fill="#ff4500"/>
<rect x="212" y="129" width="1" height="43" fill="#ff0000"/>
<rect x="211" y="151" width="3" height="20" fill="#ff0000"/>
<rect x="212" y="152" width="1" height="18" fill="#ff4500"/>
<rect x="216" y="131" width="1" height="41" fill="#32cd32"/>
<rect x="215" y="151" width="3" height="11" fill="#22c922"/>
<rect x="216" y="152" width="1" height="9" fill="#32cd32"/>
<rect x="220" y="139" width="1" height="28" fill="#ff0000"/>
<rect x="219" y="146" width="3" height="16" fill="#ff0000"/>
<rect x="220" y="147" width="1" height="14" fill="#ff4500"/>
<rect x="224" y="145" width="1" height="26" fill="#32cd32"/>
<rect x="223" y="146" width="3" height="16" fill="#22c922"/>
<rect x="224" y="147" width="1" height="14" fill="#32cd32"/>
<rect x="228" y="157" width="1" height="41" fill="#32cd32"/>
<rect x="227" y="158" width="3" height="29" fill="#22c922"/>
<rect x="228" y="159" width="1" height="27" fill="#32cd32"/>
<rect x="232" y="164" width="1" height="26" fill="#ff0000"/>
<rect x="231" y="171" width="3" height="16" fill="#ff0000"/>
<rect x="232" y="172" width="1" height="14" fill="#ff4500"/>
<rect x="236" y="146" width="1" height="30" fill="#ff0000"/>
<rect x="235" y="165" width="3" height="8" fill="#ff0000"/>
<rect x="236" y="166" width="1" height="6" fill="#ff4500"/>
<rect x="240" y="149" width="1" height="24" fill="#ff0000"/>
<rect x="239" y="151" width="3" height="15" fill="#ff0000"/>
<rect x="240" y="152" width="1" height="13" fill="#ff4500"/>
<rect x="244" y="136" width="1" height="56" fill="#32cd32"/>
<rect x="243" y="151" width="3" height="31" fill="#22c922"/>
<rect x="244" y="152" width="1" height="29" fill="#32cd32"/>
<rect x="248" y="169" width="1" height="17" fill="#ff0000"/>
<rect x="247" y="179" width="3" height="3" fill="#ff0000"/>
<rect x="248" y="180" width="1" height="1" fill="#ff4500"/>
<rect x="252" y="178" width="1" height="24" fill="#32cd32"/>
<rect x="251" y="180" width="3" height="10" fill="#22c922"/>
<rect x="252" y="181" width="1" height="8" fill="#32cd32"/>
<rect x="256" y="169" width="1" height="25" fill="#ff0000"/>
<rect x="255" y="181" width="3" height="9" fill="#ff0000"/>
<rect x="256" y="182" width="1" height="7" fill="#ff4500"/>
<rect x="260" y="155" width="1" height="34" fill="#ff0000"/>
<rect x="259" y="163" width="3" height="19" fill="#ff0000"/>
<rect x="260" y="164" width="1" height="17" fill="#ff4500"/>
<rect x="264" y="146" width="1" height="24" fill="#ff0000"/>
<rect x="263" y="154" width="3" height="10" fill="#ff0000"/>
<rect x="264" y="155" width="1" height="8" fill="#ff4500"/>
<rect x="268" y="151" width="1" height="32" fill="#32cd32"/>
<rect x="267" y="154" width="3" height="21" fill="#22c922"/>
<rect x="268" y="155" width="1" height="19" fill="#32cd32"/>
<rect x="272" y="170" width="1" height="9" fill="#32cd32"/>
<rect x="271" y="171" width="3" height="5" fill="#22c922"/>
<rect x="272" y="172" width="1" height="3" fill="#32cd32"/>
<rect x="276" y="161" width="1" height="21" fill="#32cd32"/>
<rect x="275" y="179" width="3" height="3" fill="#22c922"/>
<rect x="276" y="180" width="1" height="1" fill="#32cd32"/>
<rect x="280" y="158" width="1" height="39" fill="#ff0000"/>
<rect x="279" y="162" width="3" height="20" fill="#ff0000"/>
<rect x="280" y="163" width="1" height="18" fill="#ff4500"/>
<rect x="284" y="154" width="1" height="54" fill="#32cd32"/>
<rect x="283" y="162" width="3" height="27" fill="#22c922"/>
<rect x="284" y="163" width="1" height="25" fill="#32cd32"/>
<rect x="288" y="182" width="1" height="49" fill="#32cd32"/>
<rect x="287" y="188" width="3" height="9" fill="#22c922"/>
<rect x="288" y="189" width="1" height="7" fill="#32cd32"/>
<rect x="292" y="181" width="1" height="31" fill="#ff0000"/>
<rect x="291" y="194" width="3" height="3" fill="#ff0000"/>
<rect x="292" y="195" width="1" height="1" fill="#ff4500"/>
<rect x="296" y="194" width="1" height="20" fill="#32cd32"/>
<rect x="295" y="194" width="3" height="17" fill="#22c922"/>
<rect x="296" y="195" width="1" height="15" fill="#32cd32"/>
<rect x="300" y="199" width="1" height="26" fill="#32cd32"/>
<rect x="299" y="215" width="3" height="5" fill="#22c922"/>
<rect x="300" y="216" width="1" height="3" fill="#32cd32"/>
<rect x="304" y="199" width="1" height="45" fill="#32cd32"/>
<rect x="303" y="219" width="3" height="18" fill="#22c922"/>
<rect x="304" y="220" width="1" height="16" fill="#32cd32"/>
<rect x="308" y="215" width="1" height="24" fill="#ff0000"/>
<rect x="307" y="221" width="3" height="16" fill="#ff0000"/>
<rect x="308" y="222" width="1" height="14" fill="#ff4500"/>
<rect x="312" y="206" width="1" height="27" fill="#32cd32"/>
<rect x="311" y="221" width="3" height="7" fill="#22c922"/>
<rect x="312" y="222" width="1" height="5" fill="#32cd32"/>
<rect x="316" y="201" width="1" height="34" fill="#ff0000"/>
<rect x="315" y="201" width="3" height="27" fill="#ff0000"/>
<rect x="316" y="202" width="1" height="25" fill="#ff4500"/>
<rect x="320" y="195" width="1" height="10" fill="#ff0000"/>
<rect x="319" y="198" width="3" height="4" fill="#ff0000"/>
<rect x="320" y="199" width="1" height="2" fill="#ff4500"/>
<rect x="324" y="176" width="1" height="29" fill="#ff0000"/>
<rect x="323" y="178" width="3" height="19" fill="#ff0000"/>
<rect x="324" y="179" width="1" height="17" fill="#ff4500"/>
<rect x="328" y="166" width="1" height="20" fill="#ff0000"/>
<rect x="327" y="171" width="3" height="8" fill="#ff0000"/>
<rect x="328" y="172" width="1" height="6" fill="#ff4500"/>
<rect x="332" y="158" width="1" height="20" fill="#ff0000"/>
<rect x="331" y="168" width="3" height="5" fill="#ff0000"/>
<rect x="332" y="169" width="1" height="3" fill="#ff4500"/>
<rect x="336" y="151" width="1" height="27" fill="#ff0000"/>
<rect x="335" y="156" width="3" height="13" fill="#ff0000"/>
<rect x="336" y="157" width="1" height="11" fill="#ff4500"/>
<rect x="340" y="155" width="1" height="20" fill="#32cd32"/>
<rect x="339" y="156" width="3" height="5" fill="#22c922"/>
<rect x="340" y="157" width="1" height="3" fill="#32cd32"/>
<rect x="344" y="154" width="1" height="9" fill="#ff0000"/>
<rect x="343" y="158" width="3" height="3" fill="#ff0000"/>
<rect x="344" y="159" width="1" height="1" fill="#ff4500"/>
<rect x="348" y="144" width="1" height="14" fill="#ff0000"/>
<rect x="347" y="145" width="3" height="12" fill="#ff0000"/>
<rect x="348" y="146" width="1" height="10" fill="#ff4500"/>
<rect x="352" y="136" width="1" height="28" fill="#32cd32"/>
<rect x="351" y="146" width="3" height="5" fill="#22c922"/>
<rect x="352" y="147" width="1" height="3" fill="#32cd32"/>
<rect x="356" y="148" width="1" height="25" fill="#32cd32"/>
<rect x="355" y="150" width="3" height="18" fill="#22c922"/>
<rect x="356" y="151" width="1" height="16" fill="#32cd32"/>
<rect x="360" y="143" width="1" height="31" fill="#ff0000"/>
<rect x="359" y="164" width="3" height="4" fill="#ff0000"/>
<rect x="360" y="165" width="1" height="2" fill="#ff4500"/>
<rect x="364" y="108" width="1" height="58" fill="#ff0000"/>
<rect x="363" y="110" width="3" height="55" fill="#ff0000"/>
<rect x="364" y="111" width="1" height="53" fill="#ff4500"/>
<rect x="368" y="104" width="1" height="10" fill="#ff0000"/>
<rect x="367" y="109" width="3" height="3" fill="#ff0000"/>
<rect x="368" y="110" width="1" height="1" fill="#ff4500"/>
<rect x="372" y="85" width="1" height="30" fill="#ff0000"/>
<rect x="371" y="92" width="3" height="16" fill="#ff0000"/>
<rect x="372" y="93" width="1" height="14" fill="#ff4500"/>
<rect x="376" y="78" width="1" height="25" fill="#ff0000"/>
<rect x="375" y="90" width="3" height="3" fill="#ff0000"/>
<rect x="376" y="91" width="1" height="1" fill="#ff4500"/>
<rect x="380" y="74" width="1" height="23" fill="#ff0000"/>
<rect x="379" y="86" width="3" height="5" fill="#ff0000"/>
<rect x="380" y="87" width="1" height="3" fill="#ff4500"/>
<rect x="384" y="46" width="1" height="42" fill="#ff0000"/>
<rect x="383" y="68" width="3" height="19" fill="#ff0000"/>
<rect x="384" y="69" width="1" height="17" fill="#ff4500"/>
<rect x="388" y="66" width="1" height="104" fill="#32cd32"/>
<rect x="387" y="68" width="3" height="95" fill="#22c922"/>
<rect x="388" y="69" width="1" height="93" fill="#32cd32"/>
<rect x="392" y="159" width="1" height="23" fill="#32cd32"/>
<rect x="391" y="163" width="3" height="18" fill="#22c922"/>
<rect x="392" y="164" width="1" height="16" fill="#32cd32"/>
<rect x="396" y="144" width="1" height="35" fill="#ff0000"/>
<rect x="395" y="145" width="3" height="29" fill="#ff0000"/>
<rect x="396" y="146" width="1" height="27" fill="#ff4500"/>
<rect x="400" y="132" width="1" height="36" fill="#ff0000"/>
<rect x="399" y="132" width="3" height="15" fill="#ff0000"/>
<rect x="400" y="133" width="1" height="13" fill="#ff4500"/>
<rect x="404" y="121" width="1" height="31" fill="#32cd32"/>
<rect x="403" y="132" width="3" height="8" fill="#22c922"/>
<rect x="404" y="133" width="1" height="6" fill="#32cd32"/>
<rect x="408" y="131" width="1" height="29" fill="#ff0000"/>
<rect x="407" y="138" width="3" height="2" fill="#ff0000"/>
<rect x="412" y="133" width="1" height="85" fill="#32cd32"/>
<rect x="411" y="138" width="3" height="62" fill="#22c922"/>
<rect x="412" y="139" width="1" height="60" fill="#32cd32"/>
<rect x="416" y="186" width="1" height="19" fill="#ff0000"/>
<rect x="415" y="187" width="3" height="12" fill="#ff0000"/>
<rect x="416" y="188" width="1" height="10" fill="#ff4500"/>
<rect x="420" y="173" width="1" height="39" fill="#32cd32"/>
<rect x="419" y="184" width="3" height="14" fill="#22c922"/>
<rect x="420" y="185" width="1" height="12" fill="#32cd32"/>
<rect x="424" y="174" width="1" height="44" fill="#ff0000"/>
<rect x="423" y="184" width="3" height="14" fill="#ff0000"/>
<rect x="424" y="185" width="1" height="12" fill="#ff4500"/>
<rect x="428" y="162" width="1" height="35" fill="#ff0000"/>
<rect x="427" y="177" width="3" height="7" fill="#ff0000"/>
<rect x="428" y="178" width="1" height="5" fill="#ff4500"/>
<rect x="432" y="145" width="1" height="36" fill="#ff0000"/>
<rect x="431" y="154" width="3" height="24" fill="#ff0000"/>
<rect x="432" y="155" width="1" height="22" fill="#ff4500"/>
<rect x="436" y="138" width="1" height="35" fill="#32cd32"/>
<rect x="435" y="154" width="3" height="8" fill="#22c922"/>
<rect x="436" y="155" width="1" height="6" fill="#32cd32"/>
<rect x="440" y="149" width="1" height="15" fill="#ff0000"/>
<rect x="439" y="157" width="3" height="5" fill="#ff0000"/>
<rect x="440" y="158" width="1" height="3" fill="#ff4500"/>
<rect x="444" y="149" width="1" height="32" fill="#32cd32"/>
<rect x="443" y="159" width="3" height="12" fill="#22c922"/>
<rect x="444" y="160" width="1" height="10" fill="#32cd32"/>
<rect x="448" y="156" width="1" height="23" fill="#ff0000"/>
<rect x="447" y="162" width="3" height="9" fill="#ff0000"/>
<rect x="448" y="163" width="1" height="7" fill="#ff4500"/>
<rect x="452" y="157" width="1" height="24" fill="#32cd32"/>
<rect x="451" y="162" width="3" height="18" fill="#22c922"/>
<rect x="452" y="163" width="1" height="16" fill="#32cd32"/>
<rect x="456" y="116" width="1" height="68" fill="#ff0000"/>
<rect x="455" y="141" width="3" height="39" fill="#ff0000"/>
<rect x="456" y="142" width="1" height="37" fill="#ff4500"/>
<rect x="460" y="138" width="1" height="38" fill="#32cd32"/>
<rect x="459" y="140" width="3" height="24" fill="#22c922"/>
<rect x="460" y="141" width="1" height="22" fill="#32cd32"/>
<rect x="464" y="158" width="1" height="6" fill="#ff0000"/>
<rect x="463" y="161" width="3" height="3" fill="#ff0000"/>
<rect x="464" y="162" width="1" height="1" fill="#ff4500"/>
<rect x="468" y="158" width="1" height="23" fill="#ff0000"/>
<rect x="467" y="161" width="3" height="13" fill="#ff0000"/>
<rect x="468" y="162" width="1" height="11" fill="#ff4500"/>
<rect x="472" y="157" width="1" height="46" fill="#32cd32"/>
<rect x="471" y="161" width="3" height="31" fill="#22c922"/>
<rect x="472" y="162" width="1" height="29" fill="#32cd32"/>
<rect x="476" y="190" width="1" height="45" fill="#32cd32"/>
<rect x="475" y="191" width="3" height="27" fill="#22c922"/>
<rect x="476" y="192" width="1" height="25" fill="#32cd32"/>
<rect x="480" y="214" width="1" height="30" fill="#32cd32"/>
<rect x="479" y="217" width="3" height="23" fill="#22c922"/>
<rect x="480" y="218" width="1" height="21" fill="#32cd32"/>
<rect x="484" y="210" width="1" height="31" fill="#ff0000"/>
<rect x="483" y="214" width="3" height="27" fill="#ff0000"/>
<rect x="484" y="215" width="1" height="25" fill="#ff4500"/>
<rect x="488" y="212" width="1" height="9" fill="#32cd32"/>
<rect x="487" y="214" width="3" height="4" fill="#22c922"/>
<rect x="488" y="215" width="1" height="2" fill="#32cd32"/>
<rect x="492" y="202" width="1" height="19" fill="#ff0000"/>
<rect x="491" y="208" width="3" height="3" fill="#ff0000"/>
<rect x="492" y="209" width="1" height="1" fill="#ff4500"/>
<rect x="496" y="199" width="1" height="31" fill="#32cd32"/>
<rect x="495" y="208" width="3" height="17" fill="#22c922"/>
<rect x="496" y="209" width="1" height="15" fill="#32cd32"/>
<rect x="500" y="211" width="1" height="24" fill="#ff0000"/>
<rect x="499" y="222" width="3" height="3" fill="#ff0000"/>
<rect x="500" y="223" width="1" height="1" fill="#ff4500"/>
<rect x="504" y="218" width="1" height="40" fill="#32cd32"/>
<rect x="503" y="222" width="3" height="4" fill="#22c922"/>
<rect x="504" y="223" width="1" height="2" fill="#32cd32"/>
<rect x="508" y="218" width="1" height="8" fill="#ff0000"/>
<rect x="507" y="220" width="3" height="6" fill="#ff0000"/>
<rect x="508" y="221" width="1" height="4" fill="#ff4500"/>
<rect x="512" y="225" width="1" height="5" fill="#32cd32"/>
<rect x="511" y="226" width="3" height="2" fill="#22c922"/>
<rect x="516" y="200" width="1" height="29" fill="#ff0000"/>
<rect x="515" y="202" width="3" height="21" fill="#ff0000"/>
<rect x="516" y="203" width="1" height="19" fill="#ff4500"/>
<rect x="520" y="199" width="1" height="26" fill="#ff0000"/>
<rect x="519" y="201" width="3" height="2" fill="#ff0000"/>
<rect x="524" y="193" width="1" height="29" fill="#32cd32"/>
<rect x="523" y="201" width="3" height="15" fill="#22c922"/>
<rect x="524" y="202" width="1" height="13" fill="#32cd32"/>
<rect x="528" y="205" width="1" height="23" fill="#ff0000"/>
<rect x="527" y="209" width="3" height="7" fill="#ff0000"/>
<rect x="528" y="210" width="1" height="5" fill="#ff4500"/>
<rect x="532" y="200" width="1" height="33" fill="#32cd32"/>
<rect x="531" y="209" width="3" height="5" fill="#22c922"/>
<rect x="532" y="210" width="1" height="3" fill="#32cd32"/>
<rect x="536" y="212" width="1" height="6" fill="#32cd32"/>
<rect x="535" y="213" width="3" height="5" fill="#22c922"/>
<rect x="536" y="214" width="1" height="3" fill="#32cd32"/>
<rect x="540" y="211" width="1" height="19" fill="#32cd32"/>
<rect x="539" y="217" width="3" height="2" fill="#22c922"/>
<rect x="544" y="212" width="1" height="22" fill="#ff0000"/>
<rect x="543" y="214" width="3" height="5" fill="#ff0000"/>
<rect x="544" y="215" width="1" height="3" fill="#ff4500"/>
<rect x="548" y="168" width="1" height="48" fill="#ff0000"/>
<rect x="547" y="169" width="3" height="46" fill="#ff0000"/>
<rect x="548" y="170" width="1" height="44" fill="#ff4500"/>
<rect x="552" y="155" width="1" height="26" fill="#ff0000"/>
<rect x="551" y="163" width="3" height="7" fill="#ff0000"/>
<rect x="552" y="164" width="1" height="5" fill="#ff4500"/>
<rect x="556" y="156" width="1" height="17" fill="#32cd32"/>
<rect x="555" y="162" width="3" height="7" fill="#22c922"/>
<rect x="556" y="163" width="1" height="5" fill="#32cd32"/>
<rect x="560" y="166" width="1" height="4" fill="#32cd32"/>
<rect x="559" y="168" width="3" height="1" fill="#22c922"/>
<rect x="564" y="145" width="1" height="36" fill="#ff0000"/>
<rect x="563" y="157" width="3" height="16" fill="#ff0000"/>
<rect x="564" y="158" width="1" height="14" fill="#ff4500"/>
<rect x="568" y="131" width="1" height="39" fill="#32cd32"/>
<rect x="567" y="157" width="3" height="8" fill="#22c922"/>
<rect x="568" y="158" width="1" height="6" fill="#32cd32"/>
<rect x="572" y="155" width="1" height="29" fill="#ff0000"/>
<rect x="571" y="158" width="3" height="7" fill="#ff0000"/>
<rect x="572" y="159" width="1" height="5" fill="#ff4500"/>
<rect x="576" y="154" width="1" height="25" fill="#32cd32"/>
<rect x="575" y="158" width="3" height="15" fill="#22c922"/>
<rect x="576" y="159" width="1" height="13" fill="#32cd32"/>
<rect x="580" y="162" width="1" height="26" fill="#ff0000"/>
<rect x="579" y="166" width="3" height="7" fill="#ff0000"/>
<rect x="580" y="167" width="1" height="5" fill="#ff4500"/>
<rect x="584" y="157" width="1" height="11" fill="#ff0000"/>
<rect x="583" y="157" width="3" height="11" fill="#ff0000"/>
<rect x="584" y="158" width="1" height="9" fill="#ff4500"/>
<rect x="588" y="131" width="1" height="34" fill="#ff0000"/>
<rect x="587" y="138" width="3" height="25" fill="#ff0000"/>
<rect x="588" y="139" width="1" height="23" fill="#ff4500"/>
<rect x="592" y="135" width="1" height="20" fill="#32cd32"/>
<rect x="591" y="138" width="3" height="13" fill="#22c922"/>
<rect x="592" y="139" width="1" height="11" fill="#32cd32"/>
<rect x="596" y="149" width="1" height="23" fill="#32cd32"/>
<rect x="595" y="149" width="3" height="4" fill="#22c922"/>
<rect x="596" y="150" width="1" height="2" fill="#32cd32"/>
<rect x="600" y="130" width="1" height="30" fill="#32cd32"/>
<rect x="599" y="152" width="3" height="6" fill="#22c922"/>
<rect x="600" y="153" width="1" height="4" fill="#32cd32"/>
<rect x="604" y="145" width="1" height="37" fill="#32cd32"/>
<rect x="603" y="157" width="3" height="20" fill="#22c922"/>
<rect x="604" y="158" width="1" height="18" fill="#32cd32"/>
<rect x="608" y="174" width="1" height="8" fill="#32cd32"/>
<rect x="607" y="175" width="3" height="7" fill="#22c922"/>
<rect x="608" y="176" width="1" height="5" fill="#32cd32"/>
<rect x="612" y="154" width="1" height="27" fill="#ff0000"/>
<rect x="611" y="157" width="3" height="19" fill="#ff0000"/>
<rect x="612" y="158" width="1" height="17" fill="#ff4500"/>
<rect x="616" y="153" width="1" height="41" fill="#32cd32"/>
<rect x="615" y="157" width="3" height="32" fill="#22c922"/>
<rect x="616" y="158" width="1" height="30" fill="#32cd32"/>
<rect x="620" y="158" width="1" height="32" fill="#ff0000"/>
<rect x="619" y="161" width="3" height="29" fill="#ff0000"/>
<rect x="620" y="162" width="1" height="27" fill="#ff4500"/>
<rect x="624" y="149" width="1" height="34" fill="#ff0000"/>
<rect x="623" y="153" width="3" height="9" fill="#ff0000"/>
<rect x="624" y="154" width="1" height="7" fill="#ff4500"/>
<rect x="628" y="111" width="1" height="45" fill="#ff0000"/>
<rect x="627" y="111" width="3" height="43" fill="#ff0000"/>
<rect x="628" y="112" width="1" height="41" fill="#ff4500"/>
<rect x="632" y="111" width="1" height="11" fill="#32cd32"/>
<rect x="631" y="111" width="3" height="7" fill="#22c922"/>
<rect x="632" y="112" width="1" height="5" fill="#32cd32"/>
<rect x="636" y="98" width="1" height="24" fill="#ff0000"/>
<rect x="635" y="105" width="3" height="11" fill="#ff0000"/>
<rect x="636" y="106" width="1" height="9" fill="#ff4500"/>
<rect x="640" y="105" width="1" height="25" fill="#32cd32"/>
<rect x="639" y="105" width="3" height="15" fill="#22c922"/>
<rect x="640" y="106" width="1" height="13" fill="#32cd32"/>
<rect x="644" y="117" width="1" height="51" fill="#32cd32"/>
<rect x="643" y="119" width="3" height="49" fill="#22c922"/>
<rect x="644" y="120" width="1" height="47" fill="#32cd32"/>
<rect x="648" y="162" width="1" height="27" fill="#32cd32"/>
<rect x="647" y="168" width="3" height="6" fill="#22c922"/>
<rect x="648" y="169" width="1" height="4" fill="#32cd32"/>
<rect x="652" y="146" width="1" height="34" fill="#ff0000"/>
<rect x="651" y="149" width="3" height="24" fill="#ff0000"/>
<rect x="652" y="150" width="1" height="22" fill="#ff4500"/>
<rect x="656" y="144" width="1" height="6" fill="#ff0000"/>
<rect x="655" y="144" width="3" height="6" fill="#ff0000"/>
<rect x="656" y="145" width="1" height="4" fill="#ff4500"/>
<rect x="660" y="146" width="1" height="24" fill="#32cd32"/>
<rect x="659" y="148" width="3" height="6" fill="#22c922"/>
<rect x="660" y="149" width="1" height="4" fill="#32cd32"/>
<rect x="664" y="132" width="1" height="25" fill="#ff0000"/>
<rect x="663" y="146" width="3" height="8" fill="#ff0000"/>
<rect x="664" y="147" width="1" height="6" fill="#ff4500"/>
<rect x="668" y="136" width="1" height="33" fill="#32cd32"/>
<rect x="667" y="146" width="3" height="14" fill="#22c922"/>
<rect x="668" y="147" width="1" height="12" fill="#32cd32"/>
<rect x="672" y="146" width="1" height="33" fill="#ff0000"/>
<rect x="671" y="148" width="3" height="12" fill="#ff0000"/>
<rect x="672" y="149" width="1" height="10" fill="#ff4500"/>
<rect x="676" y="146" width="1" height="24" fill="#32cd32"/>
<rect x="675" y="148" width="3" height="22" fill="#22c922"/>
<rect x="676" y="149" width="1" height="20" fill="#32cd32"/>
<rect x="680" y="167" width="1" height="8" fill="#ff0000"/>
<rect x="679" y="168" width="3" height="2" fill="#ff0000"/>
<rect x="684" y="158" width="1" height="23" fill="#ff0000"/>
<rect x="683" y="165" width="3" height="7" fill="#ff0000"/>
<rect x="684" y="166" width="1" height="5" fill="#ff4500"/>
<rect x="688" y="149" width="1" height="17" fill="#ff0000"/>
<rect x="687" y="164" width="3" height="2" fill="#ff0000"/>
<rect x="692" y="140" width="1" height="30" fill="#ff0000"/>
<rect x="691" y="163" width="3" height="2" fill="#ff0000"/>
<rect x="696" y="157" width="1" height="16" fill="#32cd32"/>
<rect x="695" y="163" width="3" height="4" fill="#22c922"/>
<rect x="696" y="164" width="1" height="2" fill="#32cd32"/>
<rect x="700" y="161" width="1" height="32" fill="#32cd32"/>
<rect x="699" y="167" width="3" height="14" fill="#22c922"/>
<rect x="700" y="168" width="1" height="12" fill="#32cd32"/>
<rect x="704" y="176" width="1" height="6" fill="#ff0000"/>
<rect x="703" y="179" width="3" height="2" fill="#ff0000"/>
<rect x="708" y="164" width="1" height="19" fill="#ff0000"/>
<rect x="707" y="165" width="3" height="14" fill="#ff0000"/>
<rect x="708" y="166" width="1" height="12" fill="#ff4500"/>
<rect x="712" y="152" width="1" height="18" fill="#ff0000"/>
<rect x="711" y="154" width="3" height="12" fill="#ff0000"/>
<rect x="712" y="155" width="1" height="10" fill="#ff4500"/>
<rect x="716" y="150" width="1" height="27" fill="#32cd32"/>
<rect x="715" y="154" width="3" height="7" fill="#22c922"/>
<rect x="716" y="155" width="1" height="5" fill="#32cd32"/>
<rect x="720" y="158" width="1" height="48" fill="#32cd32"/>
<rect x="719" y="160" width="3" height="46" fill="#22c922"/>
<rect x="720" y="161" width="1" height="44" fill="#32cd32"/>
<rect x="724" y="163" width="1" height="45" fill="#ff0000"/>
<rect x="723" y="164" width="3" height="41" fill="#ff0000"/>
<rect x="724" y="165" width="1" height="39" fill="#ff4500"/>
<rect x="728" y="163" width="1" height="4" fill="#ff0000"/>
<rect x="727" y="163" width="3" height="2" fill="#ff0000"/>
<rect x="732" y="153" width="1" height="19" fill="#ff0000"/>
<rect x="731" y="154" width="3" height="12" fill="#ff0000"/>
<rect x="732" y="155" width="1" height="10" fill="#ff4500"/>
<rect x="736" y="153" width="1" height="16" fill="#32cd32"/>
<rect x="735" y="154" width="3" height="11" fill="#22c922"/>
<rect x="736" y="155" width="1" height="9" fill="#32cd32"/>
<rect x="740" y="155" width="1" height="17" fill="#32cd32"/>
<rect x="739" y="165" width="3" height="4" fill="#22c922"/>
<rect x="740" y="166" width="1" height="2" fill="#32cd32"/>
<rect x="744" y="154" width="1" height="22" fill="#ff0000"/>
<rect x="743" y="160" width="3" height="10" fill="#ff0000"/>
<rect x="744" y="161" width="1" height="8" fill="#ff4500"/>
<rect x="748" y="149" width="1" height="39" fill="#32cd32"/>
<rect x="747" y="159" width="3" height="27" fill="#22c922"/>
<rect x="748" y="160" width="1" height="25" fill="#32cd32"/>
<rect x="752" y="181" width="1" height="8" fill="#ff0000"/>
<rect x="751" y="181" width="3" height="5" fill="#ff0000"/>
<rect x="752" y="182" width="1" height="3" fill="#ff4500"/>
<rect x="756" y="171" width="1" height="15" fill="#ff0000"/>
<rect x="755" y="175" width="3" height="5" fill="#ff0000"/>
<rect x="756" y="176" width="1" height="3" fill="#ff4500"/>
<rect x="760" y="175" width="1" height="20" fill="#32cd32"/>
<rect x="759" y="175" width="3" height="19" fill="#22c922"/>
<rect x="760" y="176" width="1" height="17" fill="#32cd32"/>
<rect x="764" y="175" width="1" height="20" fill="#ff0000"/>
<rect x="763" y="178" width="3" height="17" fill="#ff0000"/>
<rect x="764" y="179" width="1" height="15" fill="#ff4500"/>
<rect x="768" y="175" width="1" height="75" fill="#32cd32"/>
<rect x="767" y="176" width="3" height="73" fill="#22c922"/>
<rect x="768" y="177" width="1" height="71" fill="#32cd32"/>
<rect x="772" y="244" width="1" height="38" fill="#32cd32"/>
<rect x="771" y="247" width="3" height="26" fill="#22c922"/>
<rect x="772" y="248" width="1" height="24" fill="#32cd32"/>
<rect x="776" y="266" width="1" height="10" fill="#ff0000"/>
<rect x="775" y="272" width="3" height="1" fill="#ff0000"/>
<rect x="780" y="255" width="1" height="27" fill="#ff0000"/>
<rect x="779" y="259" width="3" height="13" fill="#ff0000"/>
<rect x="780" y="260" width="1" height="11" fill="#ff4500"/>
<rect x="784" y="251" width="1" height="24" fill="#32cd32"/>
<rect x="783" y="259" width="3" height="1" fill="#22c922"/>
<rect x="788" y="227" width="1" height="34" fill="#ff0000"/>
<rect x="787" y="232" width="3" height="29" fill="#ff0000"/>
<rect x="788" y="233" width="1" height="27" fill="#ff4500"/>
<rect x="792" y="231" width="1" height="12" fill="#32cd32"/>
<rect x="791" y="232" width="3" height="8" fill="#22c922"/>
<rect x="792" y="233" width="1" height="6" fill="#32cd32"/>
<rect x="796" y="220" width="1" height="19" fill="#ff0000"/>
<rect x="795" y="229" width="3" height="10" fill="#ff0000"/>
<rect x="796" y="230" width="1" height="8" fill="#ff4500"/>
<rect x="800" y="229" width="1" height="7" fill="#32cd32"/>
<rect x="799" y="229" width="3" height="5" fill="#22c922"/>
<rect x="800" y="230" width="1" height="3" fill="#32cd32"/>
<rect x="804" y="226" width="1" height="22" fill="#32cd32"/>
<rect x="803" y="233" width="3" height="7" fill="#22c922"/>
<rect x="804" y="234" width="1" height="5" fill="#32cd32"/>
<rect x="808" y="239" width="1" height="30" fill="#32cd32"/>
<rect x="807" y="239" width="3" height="26" fill="#22c922"/>
<rect x="808" y="240" width="1" height="24" fill="#32cd32"/>
<rect x="812" y="259" width="1" height="17" fill="#32cd32"/>
<rect x="811" y="264" width="3" height="10" fill="#22c922"/>
<rect x="812" y="265" width="1" height="8" fill="#32cd32"/>
<rect x="816" y="268" width="1" height="21" fill="#32cd32"/>
<rect x="815" y="273" width="3" height="12" fill="#22c922"/>
<rect x="816" y="274" width="1" height="10" fill="#32cd32"/>
<rect x="820" y="271" width="1" height="26" fill="#ff0000"/>
<rect x="819" y="272" width="3" height="13" fill="#ff0000"/>
<rect x="820" y="273" width="1" height="11" fill="#ff4500"/>
<rect x="824" y="256" width="1" height="19" fill="#ff0000"/>
<rect x="823" y="258" width="3" height="15" fill="#ff0000"/>
<rect x="824" y="259" width="1" height="13" fill="#ff4500"/>
<rect x="828" y="256" width="1" height="12" fill="#ff0000"/>
<rect x="827" y="257" width="3" height="6" fill="#ff0000"/>
<rect x="828" y="258" width="1" height="4" fill="#ff4500"/>
<rect x="832" y="227" width="1" height="51" fill="#32cd32"/>
<rect x="831" y="257" width="3" height="16" fill="#22c922"/>
<rect x="832" y="258" width="1" height="14" fill="#32cd32"/>
<rect x="836" y="257" width="1" height="32" fill="#32cd32"/>
<rect x="835" y="272" width="3" height="7" fill="#22c922"/>
<rect x="836" y="273" width="1" height="5" fill="#32cd32"/>
<rect x="840" y="268" width="1" height="41" fill="#32cd32"/>
<rect x="839" y="278" width="3" height="22" fill="#22c922"/>
<rect x="840" y="279" width="1" height="20" fill="#32cd32"/>
<rect x="844" y="277" width="1" height="35" fill="#ff0000"/>
<rect x="843" y="281" width="3" height="19" fill="#ff0000"/>
<rect x="844" y="282" width="1" height="17" fill="#ff4500"/>
<rect x="848" y="275" width="1" height="7" fill="#ff0000"/>
<rect x="847" y="276" width="3" height="6" fill="#ff0000"/>
<rect x="848" y="277" width="1" height="4" fill="#ff4500"/>
<rect x="852" y="273" width="1" height="22" fill="#ff0000"/>
<rect x="851" y="276" width="3" height="1" fill="#ff0000"/>
<rect x="856" y="270" width="1" height="35" fill="#32cd32"/>
<rect x="855" y="276" width="3" height="9" fill="#22c922"/>
<rect x="856" y="277" width="1" height="7" fill="#32cd32"/>
<rect x="860" y="277" width="1" height="26" fill="#32cd32"/>
<rect x="859" y="284" width="3" height="2" fill="#22c922"/>
<rect x="864" y="277" width="1" height="25" fill="#32cd32"/>
<rect x="863" y="285" width="3" height="16" fill="#22c922"/>
<rect x="864" y="286" width="1" height="14" fill="#32cd32"/>
<rect x="868" y="297" width="1" height="20" fill="#32cd32"/>
<rect x="867" y="300" width="3" height="15" fill="#22c922"/>
<rect x="868" y="301" width="1" height="13" fill="#32cd32"/>
<rect x="872" y="308" width="1" height="9" fill="#32cd32"/>
<rect x="871" y="312" width="3" height="4" fill="#22c922"/>
<rect x="872" y="313" width="1" height="2" fill="#32cd32"/>
<rect x="876" y="318" width="1" height="30" fill="#32cd32"/>
<rect x="875" y="319" width="3" height="23" fill="#22c922"/>
<rect x="876" y="320" width="1" height="21" fill="#32cd32"/>
<rect x="880" y="335" width="1" height="26" fill="#32cd32"/>
<rect x="879" y="341" width="3" height="9" fill="#22c922"/>
<rect x="880" y="342" width="1" height="7" fill="#32cd32"/>
<rect x="884" y="333" width="1" height="33" fill="#ff0000"/>
<rect x="883" y="335" width="3" height="15" fill="#ff0000"/>
<rect x="884" y="336" width="1" height="13" fill="#ff4500"/>
<rect x="888" y="317" width="1" height="25" fill="#ff0000"/>
<rect x="887" y="332" width="3" height="4" fill="#ff0000"/>
<rect x="888" y="333" width="1" height="2" fill="#ff4500"/>
<rect x="892" y="320" width="1" height="16" fill="#32cd32"/>
<rect x="891" y="332" width="3" height="1" fill="#22c922"/>
<rect x="896" y="328" width="1" height="5" fill="#ff0000"/>
<rect x="895" y="331" width="3" height="2" fill="#ff0000"/>
<rect x="900" y="320" width="1" height="27" fill="#ff0000"/>
<rect x="899" y="322" width="3" height="9" fill="#ff0000"/>
<rect x="900" y="323" width="1" height="7" fill="#ff4500"/>
<rect x="904" y="321" width="1" height="23" fill="#32cd32"/>
<rect x="903" y="322" width="3" height="9" fill="#22c922"/>
<rect x="904" y="323" width="1" height="7" fill="#32cd32"/>
<rect x="908" y="327" width="1" height="24" fill="#32cd32"/>
<rect x="907" y="330" width="3" height="10" fill="#22c922"/>
<rect x="908" y="331" width="1" height="8" fill="#32cd32"/>
<rect x="912" y="310" width="1" height="43" fill="#ff0000"/>
<rect x="911" y="316" width="3" height="24" fill="#ff0000"/>
<rect x="912" y="317" width="1" height="22" fill="#ff4500"/>
<rect x="916" y="314" width="1" height="27" fill="#32cd32"/>
<rect x="915" y="316" width="3" height="22" fill="#22c922"/>
<rect x="916" y="317" width="1" height="20" fill="#32cd32"/>
<rect x="920" y="337" width="1" height="10" fill="#32cd32"/>
<rect x="919" y="337" width="3" height="10" fill="#22c922"/>
<rect x="920" y="338" width="1" height="8" fill="#32cd32"/>
<rect x="924" y="340" width="1" height="3" fill="#32cd32"/>
<rect x="923" y="341" width="3" height="1" fill="#22c922"/>
</g>
<rect x="1168" y="167" width="36" height="11" fill="#ff0000"/>
<text x="1172.5" y="176" font-size="10" fill="#fff" textLength="32.5" lengthAdjust="spacingAndGlyphs">0.77212</text>
<rect x="1168" y="233" width="36" height="11" fill="#ff0000"/>
<text x="1172.5" y="242" font-size="10" fill="#fff" textLength="32.5" lengthAdjust="spacingAndGlyphs">0.75712</text>
<rect x="1168" y="308" width="36" height="11" fill="#00ff00"/>
<text x="1172.5" y="317" font-size="10" fill="#fff" textLength="32.5" lengthAdjust="spacingAndGlyphs">0.74022</text>
<rect x="1168" y="336" width="36" height="11" fill="#000000"/>
<text x="1172.5" y="345" font-size="10" fill="#fff" textLength="32.5" lengthAdjust="spacingAndGlyphs">0.73424</text>
<rect x="1168" y="380" width="36" height="11" fill="#0000ff"/>
<text x="1172.5" y="389" font-size="10" fill="#fff" textLength="32.5" lengthAdjust="spacingAndGlyphs">0.72402</text>
<rect x="1168" y="451" width="36" height="11" fill="#0000ff"/>
<text x="1172.5" y="460" font-size="10" fill="#fff" textLength="32.5" lengthAdjust="spacingAndGlyphs">0.70807</text>
<g clip-path="url(#cmacd)">
<rect x="3" y="532" width="3" height="9" fill="#c0c0c0"/>
<rect x="7" y="532" width="3" height="2" fill="#c0c0c0"/>
<rect x="11" y="527" width="3" height="5" fill="#c0c0c0"/>
<rect x="15" y="522" width="3" height="10" fill="#c0c0c0"/>
<rect x="19" y="518" width="3" height="14" fill="#c0c0c0"/>
<rect x="23" y="515" width="3" height="17" fill="#c0c0c0"/>
<rect x="27" y="514" width="3" height="18" fill="#c0c0c0"/>
<rect x="31" y="513" width="3" height="19" fill="#c0c0c0"/>
<rect x="35" y="513" width="3" height="19" fill="#c0c0c0"/>
<rect x="39" y="513" width="3" height="19" fill="#c0c0c0"/>
<rect x="43" y="511" width="3" height="21" fill="#c0c0c0"/>
<rect x="47" y="510" width="3" height="22" fill="#c0c0c0"/>
<rect x="51" y="508" width="3" height="24" fill="#c0c0c0"/>
<rect x="55" y="510" width="3" height="22" fill="#c0c0c0"/>
<rect x="59" y="510" width="3" height="22" fill="#c0c0c0"/>
<rect x="63" y="510" width="3" height="22" fill="#c0c0c0"/>
<rect x="67" y="511" width="3" height="21" fill="#c0c0c0"/>
<rect x="71" y="510" width="3" height="22" fill="#c0c0c0"/>
<rect x="75" y="509" width="3" height="23" fill="#c0c0c0"/>
<rect x="79" y="508" width="3" height="24" fill="#c0c0c0"/>
<rect x="83" y="506" width="3" height="26" fill="#c0c0c0"/>
<rect x="87" y="506" width="3" height="26" fill="#c0c0c0"/>
<rect x="91" y="506" width="3" height="26" fill="#c0c0c0"/>
<rect x="95" y="507" width="3" height="25" fill="#c0c0c0"/>
<rect x="99" y="507" width="3" height="25" fill="#c0c0c0"/>
<rect x="103" y="505" width="3" height="27" fill="#c0c0c0"/>
<rect x="107" y="504" width="3" height="28" fill="#c0c0c0"/>
<rect x="111" y="504" width="3" height="28" fill="#c0c0c0"/>
<rect x="115" y="503" width="3" height="29" fill="#c0c0c0"/>
<rect x="119" y="506" width="3" height="26" fill="#c0c0c0"/>
<rect x="123" y="504" width="3" height="28" fill="#c0c0c0"/>
<rect x="127" y="501" width="3" height="31" fill="#c0c0c0"/>
<rect x="131" y="499" width="3" height="33" fill="#c0c0c0"/>
<rect x="135" y="498" width="3" height="34" fill="#c0c0c0"/>
<rect x="139" y="496" width="3" height="36" fill="#c0c0c0"/>
<rect x="143" y="496" width="3" height="36" fill="#c0c0c0"/>
<rect x="147" y="496" width="3" height="36" fill="#c0c0c0"/>
<rect x="151" y="494" width="3" height="38" fill="#c0c0c0"/>
<rect x="155" y="494" width="3" height="38" fill="#c0c0c0"/>
<rect x="159" y="493" width="3" height="39" fill="#c0c0c0"/>
<rect x="163" y="494" width="3" height="38" fill="#c0c0c0"/>
<rect x="167" y="497" width="3" height="35" fill="#c0c0c0"/>
<rect x="171" y="498" width="3" height="34" fill="#c0c0c0"/>
<rect x="175" y="499" width="3" height="33" fill="#c0c0c0"/>
<rect x="179" y="500" width="3" height="32" fill="#c0c0c0"/>
<rect x="183" y="502" width="3" height="30" fill="#c0c0c0"/>
<rect x="187" y="502" width="3" height="30" fill="#c0c0c0"/>
<rect x="191" y="499" width="3" height="33" fill="#c0c0c0"/>
<rect x="195" y="496" width="3" height="36" fill="#c0c0c0"/>
<rect x="199" y="495" width="3" height="37" fill="#c0c0c0"/>
<rect x="203" y="496" width="3" height="36" fill="#c0c0c0"/>
<rect x="207" y="494" width="3" height="38" fill="#c0c0c0"/>
<rect x="211" y="492" width="3" height="40" fill="#c0c0c0"/>
<rect x="215" y="491" width="3" height="41" fill="#c0c0c0"/>
<rect x="219" y="490" width="3" height="42" fill="#c0c0c0"/>
<rect x="223" y="491" width="3" height="41" fill="#c0c0c0"/>
<rect x="227" y="494" width="3" height="38" fill="#c0c0c0"/>
<rect x="231" y="496" width="3" height="36" fill="#c0c0c0"/>
<rect x="235" y="498" width="3" height="34" fill="#c0c0c0"/>
<rect x="239" y="498" width="3" height="34" fill="#c0c0c0"/>
<rect x="243" y="501" width="3" height="31" fill="#c0c0c0"/>
<rect x="247" y="504" width="3" height="28" fill="#c0c0c0"/>
<rect x="251" y="507" width="3" height="25" fill="#c0c0c0"/>
<rect x="255" y="509" width="3" height="23" fill="#c0c0c0"/>
<rect x="259" y="509" width="3" height="23" fill="#c0c0c0"/>
<rect x="263" y="509" width="3" height="23" fill="#c0c0c0"/>
<rect x="267" y="511" width="3" height="21" fill="#c0c0c0"/>
<rect x="271" y="513" width="3" height="19" fill="#c0c0c0"/>
<rect x="275" y="515" width="3" height="17" fill="#c0c0c0"/>
<rect x="279" y="515" width="3" height="17" fill="#c0c0c0"/>
<rect x="283" y="518" width="3" height="14" fill="#c0c0c0"/>
<rect x="287" y="521" width="3" height="11" fill="#c0c0c0"/>
<rect x="291" y="523" width="3" height="9" fill="#c0c0c0"/>
<rect x="295" y="527" width="3" height="5" fill="#c0c0c0"/>
<rect x="299" y="530" width="3" height="2" fill="#c0c0c0"/>
<rect x="303" y="532" width="3" height="4" fill="#c0c0c0"/>
<rect x="307" y="532" width="3" height="6" fill="#c0c0c0"/>
<rect x="311" y="532" width="3" height="7" fill="#c0c0c0"/>
<rect x="315" y="532" width="3" height="7" fill="#c0c0c0"/>
<rect x="319" y="532" width="3" height="6" fill="#c0c0c0"/>
<rect x="323" y="532" width="3" height="2" fill="#c0c0c0"/>
<rect x="327" y="531" width="3" height="1" fill="#c0c0c0"/>
<rect x="331" y="529" width="3" height="3" fill="#c0c0c0"/>
<rect x="335" y="526" width="3" height="6" fill="#c0c0c0"/>
<rect x="339" y="524" width="3" height="8" fill="#c0c0c0"/>
<rect x="343" y="523" width="3" height="9" fill="#c0c0c0"/>
<rect x="347" y="520" width="3" height="12" fill="#c0c0c0"/>
<rect x="351" y="519" width="3" height="13" fill="#c0c0c0"/>
<rect x="355" y="520" width="3" height="12" fill="#c0c0c0"/>
<rect x="359" y="520" width="3" height="12" fill="#c0c0c0"/>
<rect x="363" y="516" width="3" height="16" fill="#c0c0c0"/>
<rect x="367" y="512" width="3" height="20" fill="#c0c0c0"/>
<rect x="371" y="508" width="3" height="24" fill="#c0c0c0"/>
<rect x="375" y="505" width="3" height="27" fill="#c0c0c0"/>
<rect x="379" y="503" width="3" height="29" fill="#c0c0c0"/>
<rect x="383" y="500" width="3" height="32" fill="#c0c0c0"/>
<rect x="387" y="506" width="3" height="26" fill="#c0c0c0"/>
<rect x="391" y="513" width="3" height="19" fill="#c0c0c0"/>
<rect x="395" y="516" width="3" height="16" fill="#c0c0c0"/>
<rect x="399" y="517" width="3" height="15" fill="#c0c0c0"/>
<rect x="403" y="518" width="3" height="14" fill="#c0c0c0"/>
<rect x="407" y="520" width="3" height="12" fill="#c0c0c0"/>
<rect x="411" y="526" width="3" height="6" fill="#c0c0c0"/>
<rect x="415" y="531" width="3" height="1" fill="#c0c0c0"/>
<rect x="419" y="532" width="3" height="4" fill="#c0c0c0"/>
<rect x="423" y="532" width="3" height="6" fill="#c0c0c0"/>
<rect x="427" y="532" width="3" height="6" fill="#c0c0c0"/>
<rect x="431" y="532" width="3" height="6" fill="#c0c0c0"/>
<rect x="435" y="532" width="3" height="4" fill="#c0c0c0"/>
<rect x="439" y="532" width="3" height="3" fill="#c0c0c0"/>
<rect x="443" y="532" width="3" height="4" fill="#c0c0c0"/>
<rect x="447" y="532" width="3" height="4" fill="#c0c0c0"/>
<rect x="451" y="532" width="3" height="5" fill="#c0c0c0"/>
<rect x="455" y="532" width="3" height="3" fill="#c0c0c0"/>
<rect x="459" y="532" width="3" height="3" fill="#c0c0c0"/>
<rect x="463" y="532" width="3" height="3" fill="#c0c0c0"/>
<rect x="467" y="532" width="3" height="3" fill="#c0c0c0"/>
<rect x="471" y="532" width="3" height="4" fill="#c0c0c0"/>
<rect x="475" y="532" width="3" height="10" fill="#c0c0c0"/>
<rect x="479" y="532" width="3" height="15" fill="#c0c0c0"/>
<rect x="483" y="532" width="3" height="16" fill="#c0c0c0"/>
<rect x="487" y="532" width="3" height="18" fill="#c0c0c0"/>
<rect x="491" y="532" width="3" height="18" fill="#c0c0c0"/>
<rect x="495" y="532" width="3" height="20" fill="#c0c0c0"/>
<rect x="499" y="532" width="3" height="20" fill="#c0c0c0"/>
<rect x="503" y="532" width="3" height="20" fill="#c0c0c0"/>
<rect x="507" y="532" width="3" height="20" fill="#c0c0c0"/>
<rect x="511" y="532" width="3" height="20" fill="#c0c0c0"/>
<rect x="515" y="532" width="3" height="19" fill="#c0c0c0"/>
<rect x="519" y="532" width="3" height="17" fill="#c0c0c0"/>
<rect x="523" y="532" width="3" height="16" fill="#c0c0c0"/>
<rect x="527" y="532" width="3" height="15" fill="#c0c0c0"/>
<rect x="531" y="532" width="3" height="14" fill="#c0c0c0"/>
<rect x="535" y="532" width="3" height="14" fill="#c0c0c0"/>
<rect x="539" y="532" width="3" height="13" fill="#c0c0c0"/>
<rect x="543" y="532" width="3" height="13" fill="#c0c0c0"/>
<rect x="547" y="532" width="3" height="8" fill="#c0c0c0"/>
<rect x="551" y="532" width="3" height="4" fill="#c0c0c0"/>
<rect x="555" y="532" width="3" height="1" fill="#c0c0c0"/>
<rect x="559" y="529" width="3" height="3" fill="#c0c0c0"/>
<rect x="563" y="526" width="3" height="6" fill="#c0c0c0"/>
<rect x="567" y="525" width="3" height="7" fill="#c0c0c0"/>
<rect x="571" y="523" width="3" height="9" fill="#c0c0c0"/>
<rect x="575" y="523" width="3" height="9" fill="#c0c0c0"/>
<rect x="579" y="523" width="3" height="9" fill="#c0c0c0"/>
<rect x="583" y="522" width="3" height="10" fill="#c0c0c0"/>
<rect x="587" y="520" width="3" height="12" fill="#c0c0c0"/>
<rect x="591" y="519" width="3" height="13" fill="#c0c0c0"/>
<rect x="595" y="519" width="3" height="13" fill="#c0c0c0"/>
<rect x="599" y="519" width="3" height="13" fill="#c0c0c0"/>
<rect x="603" y="522" width="3" height="10" fill="#c0c0c0"/>
<rect x="607" y="524" width="3" height="8" fill="#c0c0c0"/>
<rect x="611" y="524" width="3" height="8" fill="#c0c0c0"/>
<rect x="615" y="526" width="3" height="6" fill="#c0c0c0"/>
<rect x="619" y="526" width="3" height="6" fill="#c0c0c0"/>
<rect x="623" y="525" width="3" height="7" fill="#c0c0c0"/>
<rect x="627" y="521" width="3" height="11" fill="#c0c0c0"/>
<rect x="631" y="518" width="3" height="14" fill="#c0c0c0"/>
<rect x="635" y="515" width="3" height="17" fill="#c0c0c0"/>
<rect x="639" y="514" width="3" height="18" fill="#c0c0c0"/>
<rect x="643" y="518" width="3" height="14" fill="#c0c0c0"/>
<rect x="647" y="521" width="3" height="11" fill="#c0c0c0"/>
<rect x="651" y="522" width="3" height="10" fill="#c0c0c0"/>
<rect x="655" y="523" width="3" height="9" fill="#c0c0c0"/>
<rect x="659" y="524" width="3" height="8" fill="#c0c0c0"/>
<rect x="663" y="524" width="3" height="8" fill="#c0c0c0"/>
<rect x="667" y="526" width="3" height="6" fill="#c0c0c0"/>
<rect x="671" y="526" width="3" height="6" fill="#c0c0c0"/>
<rect x="675" y="528" width="3" height="4" fill="#c0c0c0"/>
<rect x="679" y="530" width="3" height="2" fill="#c0c0c0"/>
<rect x="683" y="531" width="3" height="1" fill="#c0c0c0"/>
<rect x="687" y="532" width="3" height="1" fill="#c0c0c0"/>
<rect x="691" y="532" width="3" height="2" fill="#c0c0c0"/>
<rect x="695" y="532" width="3" height="2" fill="#c0c0c0"/>
<rect x="699" y="532" width="3" height="4" fill="#c0c0c0"/>
<rect x="703" y="532" width="3" height="4" fill="#c0c0c0"/>
<rect x="707" y="532" width="3" height="4" fill="#c0c0c0"/>
<rect x="711" y="532" width="3" height="3" fill="#c0c0c0"/>
<rect x="715" y="532" width="3" height="3" fill="#c0c0c0"/>
<rect x="719" y="532" width="3" height="7" fill="#c0c0c0"/>
<rect x="723" y="532" width="3" height="6" fill="#c0c0c0"/>
<rect x="727" y="532" width="3" height="4" fill="#c0c0c0"/>
<rect x="731" y="532" width="3" height="3" fill="#c0c0c0"/>
<rect x="735" y="532" width="3" height="3" fill="#c0c0c0"/>
<rect x="739" y="532" width="3" height="3" fill="#c0c0c0"/>
<rect x="743" y="532" width="3" height="3" fill="#c0c0c0"/>
<rect x="747" y="532" width="3" height="4" fill="#c0c0c0"/>
<rect x="751" y="532" width="3" height="5" fill="#c0c0c0"/>
<rect x="755" y="532" width="3" height="5" fill="#c0c0c0"/>
<rect x="759" y="532" width="3" height="8" fill="#c0c0c0"/>
<rect x="763" y="532" width="3" height="6" fill="#c0c0c0"/>
<rect x="767" y="532" width="3" height="14" fill="#c0c0c0"/>
<rect x="771" y="532" width="3" height="21" fill="#c0c0c0"/>
<rect x="775" y="532" width="3" height="26" fill="#c0c0c0"/>
<rect x="779" y="532" width="3" height="29" fill="#c0c0c0"/>
<rect x="783" y="532" width="3" height="31" fill="#c0c0c0"/>
<rect x="787" y="532" width="3" height="29" fill="#c0c0c0"/>
<rect x="791" y="532" width="3" height="28" fill="#c0c0c0"/>
<rect x="795" y="532" width="3" height="26" fill="#c0c0c0"/>
<rect x="799" y="532" width="3" height="24" fill="#c0c0c0"/>
<rect x="803" y="532" width="3" height="24" fill="#c0c0c0"/>
<rect x="807" y="532" width="3" height="26" fill="#c0c0c0"/>
<rect x="811" y="532" width="3" height="28" fill="#c0c0c0"/>
<rect x="815" y="532" width="3" height="30" fill="#c0c0c0"/>
<rect x="819" y="532" width="3" height="30" fill="#c0c0c0"/>
<rect x="823" y="532" width="3" height="28" fill="#c0c0c0"/>
<rect x="827" y="532" width="3" height="26" fill="#c0c0c0"/>
<rect x="831" y="532" width="3" height="25" fill="#c0c0c0"/>
<rect x="835" y="532" width="3" height="26" fill="#c0c0c0"/>
<rect x="839" y="532" width="3" height="28" fill="#c0c0c0"/>
<rect x="843" y="532" width="3" height="28" fill="#c0c0c0"/>
<rect x="847" y="532" width="3" height="26" fill="#c0c0c0"/>
<rect x="851" y="532" width="3" height="25" fill="#c0c0c0"/>
<rect x="855" y="532" width="3" height="24" fill="#c0c0c0"/>
<rect x="859" y="532" width="3" height="24" fill="#c0c0c0"/>
<rect x="863" y="532" width="3" height="24" fill="#c0c0c0"/>
<rect x="867" y="532" width="3" height="27" fill="#c0c0c0"/>
<rect x="871" y="532" width="3" height="28" fill="#c0c0c0"/>
<rect x="875" y="532" width="3" height="31" fill="#c0c0c0"/>
<rect x="879" y="532" width="3" height="33" fill="#c0c0c0"/>
<rect x="883" y="532" width="3" height="34" fill="#c0c0c0"/>
<rect x="887" y="532" width="3" height="33" fill="#c0c0c0"/>
<rect x="891" y="532" width="3" height="33" fill="#c0c0c0"/>
<rect x="895" y="532" width="3" height="32" fill="#c0c0c0"/>
<rect x="899" y="532" width="3" height="29" fill="#c0c0c0"/>
<rect x="903" y="532" width="3" height="29" fill="#c0c0c0"/>
<rect x="907" y="532" width="3" height="29" fill="#c0c0c0"/>
<rect x="911" y="532" width="3" height="26" fill="#c0c0c0"/>
<rect x="915" y="532" width="3" height="26" fill="#c0c0c0"/>
<rect x="919" y="532" width="3" height="26" fill="#c0c0c0"/>
<rect x="923" y="532" width="3" height="25" fill="#c0c0c0"/>
<path d="M4 545h1v1h-1zM5 544h1v1h-1zM6 544h1v1h-1zM7 543h1v1h-1zM8 543h1v1h-1zM9 543h1v1h-1zM10 542h1v1h-1zM11 542h1v1h-1zM12 542h1v1h-1zM13 541h1v1h-1zM14 541h1v1h-1zM15 540h1v1h-1zM16 540h1v1h-1zM17 539h1v1h-1zM18 538h1v1h-1zM19 538h1v1h-1zM20 537h1v1h-1zM21 536h1v1h-1zM22 535h1v1h-1zM23 534h1v1h-1zM24 533h1v1h-1zM25 532h1v1h-1zM26 531h1v1h-1zM27 530h1v1h-1zM28 529h1v1h-1zM29 528h1v1h-1zM30 527h1v1h-1zM31 526h1v1h-1zM32 525h1v1h-1zM33 524h1v1h-1zM34 523h1v1h-1zM35 523h1v1h-1zM36 522h1v1h-1zM37 521h1v1h-1zM38 520h1v1h-1zM39 520h1v1h-1zM40 519h1v1h-1zM41 518h1v1h-1zM42 517h1v1h-1zM43 517h1v1h-1zM44 516h1v1h-1zM45 515h1v1h-1zM46 515h1v1h-1zM47 514h1v1h-1zM48 514h1v1h-1zM49 513h1v1h-1zM50 513h1v1h-1zM51 512h1v1h-1zM52 512h1v1h-1zM53 512h1v1h-1zM54 512h1v1h-1zM55 512h1v1h-1zM56 512h1v1h-1zM57 512h1v1h-1zM58 511h1v1h-1zM59 511h1v1h-1zM60 511h1v1h-1zM61 511h1v1h-1zM62 511h1v1h-1zM63 511h1v1h-1zM64 511h1v1h-1zM65 511h1v1h-1zM66 510h1v1h-1zM67 510h1v1h-1zM68 510h1v1h-1zM69 510h1v1h-1zM70 510h1v1h-1zM71 510h1v1h-1zM72 510h1v1h-1zM73 510h1v1h-1zM74 510h1v1h-1zM75 510h1v1h-1zM76 510h1v1h-1zM77 510h1v1h-1zM78 509h1v1h-1zM79 509h1v1h-1zM80 509h1v1h-1zM81 509h1v1h-1zM82 509h1v1h-1zM83 509h1v1h-1zM84 509h1v1h-1zM85 509h1v1h-1zM86 508h1v1h-1zM87 508h1v1h-1zM88 508h1v1h-1zM89 508h1v1h-1zM90 508h1v1h-1zM91 508h1v1h-1zM92 508h1v1h-1zM93 508h1v1h-1zM94 508h1v1h-1zM95 508h1v1h-1zM96 508h1v1h-1zM97 508h1v1h-1zM98 507h1v1h-1zM99 507h1v1h-1zM100 507h1v1h-1zM101 507h1v1h-1zM102 507h1v1h-1zM103 507h1v1h-1zM104 507h1v1h-1zM105 507h1v1h-1zM106 506h1v1h-1zM107 506h1v1h-1zM108 506h1v1h-1zM109 506h1v1h-1zM110 505h1v1h-1zM111 505h1v1h-1zM112 505h1v1h-1zM113 505h1v1h-1zM114 505h1v1h-1zM115 505h1v1h-1zM116 505h1v1h-1zM117 505h1v1h-1zM118 505h1v1h-1zM119 505h1v1h-1zM120 505h1v1h-1zM121 505h1v1h-1zM122 505h1v1h-1zM123 505h1v1h-1zM124 505h1v1h-1zM125 505h1v1h-1zM126 505h1v1h-1zM127 505h1v1h-1zM128 505h1v1h-1zM129 505h1v1h-1zM130 504h1v1h-1zM131 504h1v1h-1zM132 504h1v1h-1zM133 504h1v1h-1zM134 503h1v1h-1zM135 503h1v1h-1zM136 503h1v1h-1zM137 503h1v1h-1zM138 502h1v1h-1zM139 502h1v1h-1zM140 502h1v1h-1zM141 501h1v1h-1zM142 501h1v1h-1zM143 500h1v1h-1zM144 500h1v1h-1zM145 500h1v1h-1zM146 499h1v1h-1zM147 499h1v1h-1zM148 499h1v1h-1zM149 499h1v1h-1zM150 498h1v1h-1zM151 498h1v1h-1zM152 498h1v1h-1zM153 498h1v1h-1zM154 497h1v1h-1zM155 497h1v1h-1zM156 497h1v1h-1zM157 497h1v1h-1zM158 496h1v1h-1zM159 496h1v1h-1zM160 496h1v1h-1zM161 496h1v1h-1zM162 495h1v1h-1zM163 495h1v1h-1zM164 495h1v1h-1zM165 495h1v1h-1zM166 495h1v1h-1zM167 495h1v1h-1zM168 495h1v1h-1zM169 495h1v1h-1zM170 495h1v1h-1zM171 495h1v1h-1zM172 495h1v1h-1zM173 495h1v1h-1zM174 495h1v1h-1zM175 495h1v1h-1zM176 495h1v1h-1zM177 495h1v1h-1zM178 496h1v1h-1zM179 496h1v1h-1zM180 496h1v1h-1zM181 496h1v1h-1zM182 496h1v1h-1zM183 496h1v1h-1zM184 496h1v1h-1zM185 496h1v1h-1zM186 497h1v1h-1zM187 497h1v1h-1zM188 497h1v1h-1zM189 497h1v1h-1zM190 498h1v1h-1zM191 498h1v1h-1zM192 498h1v1h-1zM193 498h1v1h-1zM194 499h1v1h-1zM195 499h1v1h-1zM196 499h1v1h-1zM197 499h1v1h-1zM198 499h1v1h-1zM199 499h1v1h-1zM200 499h1v1h-1zM201 499h1v1h-1zM202 499h1v1h-1zM203 499h1v1h-1zM204 499h1v1h-1zM205 499h1v1h-1zM206 498h1v1h-1zM207 498h1v1h-1zM208 498h1v1h-1zM209 498h1v1h-1zM210 497h1v1h-1zM211 497h1v1h-1zM212 497h1v1h-1zM213 497h1v1h-1zM214 496h1v1h-1zM215 496h1v1h-1zM216 496h1v1h-1zM217 496h1v1h-1zM218 495h1v1h-1zM219 495h1v1h-1zM220 495h1v1h-1zM221 495h1v1h-1zM222 494h1v1h-1zM223 494h1v1h-1zM224 494h1v1h-1zM225 494h1v1h-1zM226 493h1v1h-1zM227 493h1v1h-1zM228 493h1v1h-1zM229 493h1v1h-1zM230 493h1v1h-1zM231 493h1v1h-1zM232 493h1v1h-1zM233 493h1v1h-1zM234 493h1v1h-1zM235 493h1v1h-1zM236 493h1v1h-1zM237 493h1v1h-1zM238 494h1v1h-1zM239 494h1v1h-1zM240 494h1v1h-1zM241 494h1v1h-1zM242 495h1v1h-1zM243 495h1v1h-1zM244 495h1v1h-1zM245 495h1v1h-1zM246 496h1v1h-1zM247 496h1v1h-1zM248 496h1v1h-1zM249 496h1v1h-1zM250 497h1v1h-1zM251 497h1v1h-1zM252 497h1v1h-1zM253 498h1v1h-1zM254 498h1v1h-1zM255 499h1v1h-1zM256 499h1v1h-1zM257 500h1v1h-1zM258 500h1v1h-1zM259 501h1v1h-1zM260 501h1v1h-1zM261 502h1v1h-1zM262 502h1v1h-1zM263 503h1v1h-1zM264 503h1v1h-1zM265 503h1v1h-1zM266 504h1v1h-1zM267 504h1v1h-1zM268 504h1v1h-1zM269 505h1v1h-1zM270 505h1v1h-1zM271 506h1v1h-1zM272 506h1v1h-1zM273 507h1v1h-1zM274 507h1v1h-1zM275 508h1v1h-1zM276 508h1v1h-1zM277 509h1v1h-1zM278 509h1v1h-1zM279 510h1v1h-1zM280 510h1v1h-1zM281 511h1v1h-1zM282 511h1v1h-1zM283 512h1v1h-1zM284 512h1v1h-1zM285 512h1v1h-1zM286 513h1v1h-1zM287 513h1v1h-1zM288 513h1v1h-1zM289 514h1v1h-1zM290 514h1v1h-1zM291 515h1v1h-1zM292 515h1v1h-1zM293 516h1v1h-1zM294 516h1v1h-1zM295 517h1v1h-1zM296 517h1v1h-1zM297 518h1v1h-1zM298 518h1v1h-1zM299 519h1v1h-1zM300 519h1v1h-1zM301 520h1v1h-1zM302 520h1v1h-1zM303 521h1v1h-1zM304 521h1v1h-1zM305 522h1v1h-1zM306 522h1v1h-1zM307 523h1v1h-1zM308 523h1v1h-1zM309 524h1v1h-1zM310 525h1v1h-1zM311 525h1v1h-1zM312 526h1v1h-1zM313 527h1v1h-1zM314 527h1v1h-1zM315 528h1v1h-1zM316 528h1v1h-1zM317 529h1v1h-1zM318 529h1v1h-1zM319 530h1v1h-1zM320 530h1v1h-1zM321 531h1v1h-1zM322 531h1v1h-1zM323 532h1v1h-1zM324 532h1v1h-1zM325 532h1v1h-1zM326 533h1v1h-1zM327 533h1v1h-1zM328 533h1v1h-1zM329 533h1v1h-1zM330 533h1v1h-1zM331 533h1v1h-1zM332 533h1v1h-1zM333 533h1v1h-1zM334 533h1v1h-1zM335 533h1v1h-1zM336 533h1v1h-1zM337 533h1v1h-1zM338 532h1v1h-1zM339 532h1v1h-1zM340 532h1v1h-1zM341 531h1v1h-1zM342 531h1v1h-1zM343 530h1v1h-1zM344 530h1v1h-1zM345 529h1v1h-1zM346 529h1v1h-1zM347 528h1v1h-1zM348 528h1v1h-1zM349 527h1v1h-1zM350 527h1v1h-1zM351 526h1v1h-1zM352 526h1v1h-1zM353 525h1v1h-1zM354 525h1v1h-1zM355 524h1v1h-1zM356 524h1v1h-1zM357 523h1v1h-1zM358 523h1v1h-1zM359 522h1v1h-1zM360 522h1v1h-1zM361 521h1v1h-1zM362 521h1v1h-1zM363 520h1v1h-1zM364 520h1v1h-1zM365 519h1v1h-1zM366 519h1v1h-1zM367 518h1v1h-1zM368 518h1v1h-1zM369 517h1v1h-1zM370 517h1v1h-1zM371 516h1v1h-1zM372 516h1v1h-1zM373 515h1v1h-1zM374 515h1v1h-1zM375 514h1v1h-1zM376 514h1v1h-1zM377 513h1v1h-1zM378 513h1v1h-1zM379 512h1v1h-1zM380 512h1v1h-1zM381 511h1v1h-1zM382 511h1v1h-1zM383 510h1v1h-1zM384 510h1v1h-1zM385 510h1v1h-1zM386 509h1v1h-1zM387 509h1v1h-1zM388 509h1v1h-1zM389 509h1v1h-1zM390 509h1v1h-1zM391 509h1v1h-1zM392 509h1v1h-1zM393 509h1v1h-1zM394 509h1v1h-1zM395 509h1v1h-1zM396 509h1v1h-1zM397 509h1v1h-1zM398 509h1v1h-1zM399 509h1v1h-1zM400 509h1v1h-1zM401 509h1v1h-1zM402 510h1v1h-1zM403 510h1v1h-1zM404 510h1v1h-1zM405 510h1v1h-1zM406 511h1v1h-1zM407 511h1v1h-1zM408 511h1v1h-1zM409 511h1v1h-1zM410 512h1v1h-1zM411 512h1v1h-1zM412 512h1v1h-1zM413 513h1v1h-1zM414 514h1v1h-1zM415 515h1v1h-1zM416 516h1v1h-1zM417 517h1v1h-1zM418 518h1v1h-1zM419 518h1v1h-1zM420 519h1v1h-1zM421 520h1v1h-1zM422 521h1v1h-1zM423 522h1v1h-1zM424 523h1v1h-1zM425 524h1v1h-1zM426 525h1v1h-1zM427 525h1v1h-1zM428 526h1v1h-1zM429 527h1v1h-1zM430 527h1v1h-1zM431 528h1v1h-1zM432 528h1v1h-1zM433 529h1v1h-1zM434 529h1v1h-1zM435 530h1v1h-1zM436 530h1v1h-1zM437 531h1v1h-1zM438 532h1v1h-1zM439 532h1v1h-1zM440 533h1v1h-1zM441 534h1v1h-1zM442 534h1v1h-1zM443 535h1v1h-1zM444 535h1v1h-1zM445 535h1v1h-1zM446 535h1v1h-1zM447 535h1v1h-1zM448 535h1v1h-1zM449 535h1v1h-1zM450 536h1v1h-1zM451 536h1v1h-1zM452 536h1v1h-1zM453 536h1v1h-1zM454 536h1v1h-1zM455 536h1v1h-1zM456 536h1v1h-1zM457 536h1v1h-1zM458 536h1v1h-1zM459 536h1v1h-1zM460 536h1v1h-1zM461 536h1v1h-1zM462 535h1v1h-1zM463 535h1v1h-1zM464 535h1v1h-1zM465 535h1v1h-1zM466 535h1v1h-1zM467 535h1v1h-1zM468 535h1v1h-1zM469 535h1v1h-1zM470 535h1v1h-1zM471 535h1v1h-1zM472 535h1v1h-1zM473 535h1v1h-1zM474 536h1v1h-1zM475 536h1v1h-1zM476 536h1v1h-1zM477 536h1v1h-1zM478 537h1v1h-1zM479 537h1v1h-1zM480 537h1v1h-1zM481 537h1v1h-1zM482 538h1v1h-1zM483 538h1v1h-1zM484 538h1v1h-1zM485 538h1v1h-1zM486 539h1v1h-1zM487 539h1v1h-1zM488 539h1v1h-1zM489 540h1v1h-1zM490 540h1v1h-1zM491 541h1v1h-1zM492 541h1v1h-1zM493 541h1v1h-1zM494 542h1v1h-1zM495 542h1v1h-1zM496 542h1v1h-1zM497 543h1v1h-1zM498 543h1v1h-1zM499 544h1v1h-1zM500 544h1v1h-1zM501 545h1v1h-1zM502 545h1v1h-1zM503 546h1v1h-1zM504 546h1v1h-1zM505 547h1v1h-1zM506 547h1v1h-1zM507 548h1v1h-1zM508 548h1v1h-1zM509 549h1v1h-1zM510 549h1v1h-1zM511 550h1v1h-1zM512 550h1v1h-1zM513 550h1v1h-1zM514 551h1v1h-1zM515 551h1v1h-1zM516 551h1v1h-1zM517 551h1v1h-1zM518 551h1v1h-1zM519 551h1v1h-1zM520 551h1v1h-1zM521 551h1v1h-1zM522 550h1v1h-1zM523 550h1v1h-1zM524 550h1v1h-1zM525 550h1v1h-1zM526 550h1v1h-1zM527 550h1v1h-1zM528 550h1v1h-1zM529 550h1v1h-1zM530 549h1v1h-1zM531 549h1v1h-1zM532 549h1v1h-1zM533 549h1v1h-1zM534 549h1v1h-1zM535 549h1v1h-1zM536 549h1v1h-1zM537 549h1v1h-1zM538 548h1v1h-1zM539 548h1v1h-1zM540 548h1v1h-1zM541 548h1v1h-1zM542 547h1v1h-1zM543 547h1v1h-1zM544 547h1v1h-1zM545 546h1v1h-1zM546 546h1v1h-1zM547 545h1v1h-1zM548 545h1v1h-1zM549 545h1v1h-1zM550 544h1v1h-1zM551 544h1v1h-1zM552 544h1v1h-1zM553 543h1v1h-1zM554 543h1v1h-1zM555 542h1v1h-1zM556 542h1v1h-1zM557 541h1v1h-1zM558 541h1v1h-1zM559 540h1v1h-1zM560 540h1v1h-1zM561 539h1v1h-1zM562 539h1v1h-1zM563 538h1v1h-1zM564 538h1v1h-1zM565 537h1v1h-1zM566 537h1v1h-1zM567 536h1v1h-1zM568 536h1v1h-1zM569 535h1v1h-1zM570 534h1v1h-1zM571 534h1v1h-1zM572 533h1v1h-1zM573 532h1v1h-1zM574 532h1v1h-1zM575 531h1v1h-1zM576 531h1v1h-1zM577 530h1v1h-1zM578 530h1v1h-1zM579 529h1v1h-1zM580 529h1v1h-1zM581 528h1v1h-1zM582 528h1v1h-1zM583 527h1v1h-1zM584 527h1v1h-1zM585 526h1v1h-1zM586 526h1v1h-1zM587 525h1v1h-1zM588 525h1v1h-1zM589 524h1v1h-1zM590 524h1v1h-1zM591 523h1v1h-1zM592 523h1v1h-1zM593 523h1v1h-1zM594 522h1v1h-1zM595 522h1v1h-1zM596 522h1v1h-1zM597 522h1v1h-1zM598 521h1v1h-1zM599 521h1v1h-1zM600 521h1v1h-1zM601 521h1v1h-1zM602 521h1v1h-1zM603 521h1v1h-1zM604 521h1v1h-1zM605 521h1v1h-1zM606 521h1v1h-1zM607 521h1v1h-1zM608 521h1v1h-1zM609 521h1v1h-1zM610 521h1v1h-1zM611 521h1v1h-1zM612 521h1v1h-1zM613 521h1v1h-1zM614 521h1v1h-1zM615 521h1v1h-1zM616 521h1v1h-1zM617 521h1v1h-1zM618 522h1v1h-1zM619 522h1v1h-1zM620 522h1v1h-1zM621 522h1v1h-1zM622 523h1v1h-1zM623 523h1v1h-1zM624 523h1v1h-1zM625 523h1v1h-1zM626 523h1v1h-1zM627 523h1v1h-1zM628 523h1v1h-1zM629 523h1v1h-1zM630 523h1v1h-1zM631 523h1v1h-1zM632 523h1v1h-1zM633 523h1v1h-1zM634 522h1v1h-1zM635 522h1v1h-1zM636 522h1v1h-1zM637 522h1v1h-1zM638 521h1v1h-1zM639 521h1v1h-1zM640 521h1v1h-1zM641 521h1v1h-1zM642 521h1v1h-1zM643 521h1v1h-1zM644 521h1v1h-1zM645 521h1v1h-1zM646 520h1v1h-1zM647 520h1v1h-1zM648 520h1v1h-1zM649 520h1v1h-1zM650 520h1v1h-1zM651 520h1v1h-1zM652 520h1v1h-1zM653 520h1v1h-1zM654 520h1v1h-1zM655 520h1v1h-1zM656 520h1v1h-1zM657 520h1v1h-1zM658 519h1v1h-1zM659 519h1v1h-1zM660 519h1v1h-1zM661 519h1v1h-1zM662 519h1v1h-1zM663 519h1v1h-1zM664 519h1v1h-1zM665 519h1v1h-1zM666 520h1v1h-1zM667 520h1v1h-1zM668 520h1v1h-1zM669 521h1v1h-1zM670 521h1v1h-1zM671 522h1v1h-1zM672 522h1v1h-1zM673 522h1v1h-1zM674 523h1v1h-1zM675 523h1v1h-1zM676 523h1v1h-1zM677 523h1v1h-1zM678 524h1v1h-1zM679 524h1v1h-1zM680 524h1v1h-1zM681 524h1v1h-1zM682 525h1v1h-1zM683 525h1v1h-1zM684 525h1v1h-1zM685 525h1v1h-1zM686 526h1v1h-1zM687 526h1v1h-1zM688 526h1v1h-1zM689 526h1v1h-1zM690 527h1v1h-1zM691 527h1v1h-1zM692 527h1v1h-1zM693 527h1v1h-1zM694 528h1v1h-1zM695 528h1v1h-1zM696 528h1v1h-1zM697 529h1v1h-1zM698 529h1v1h-1zM699 530h1v1h-1zM700 530h1v1h-1zM701 531h1v1h-1zM702 531h1v1h-1zM703 532h1v1h-1zM704 532h1v1h-1zM705 532h1v1h-1zM706 532h1v1h-1zM707 532h1v1h-1zM708 532h1v1h-1zM709 532h1v1h-1zM710 533h1v1h-1zM711 533h1v1h-1zM712 533h1v1h-1zM713 533h1v1h-1zM714 534h1v1h-1zM715 534h1v1h-1zM716 534h1v1h-1zM717 534h1v1h-1zM718 535h1v1h-1zM719 535h1v1h-1zM720 535h1v1h-1zM721 535h1v1h-1zM722 535h1v1h-1zM723 535h1v1h-1zM724 535h1v1h-1zM725 535h1v1h-1zM726 536h1v1h-1zM727 536h1v1h-1zM728 536h1v1h-1zM729 536h1v1h-1zM730 536h1v1h-1zM731 536h1v1h-1zM732 536h1v1h-1zM733 536h1v1h-1zM734 536h1v1h-1zM735 536h1v1h-1zM736 536h1v1h-1zM737 536h1v1h-1zM738 536h1v1h-1zM739 536h1v1h-1zM740 536h1v1h-1zM741 536h1v1h-1zM742 535h1v1h-1zM743 535h1v1h-1zM744 535h1v1h-1zM745 535h1v1h-1zM746 535h1v1h-1zM747 535h1v1h-1zM748 535h1v1h-1zM749 535h1v1h-1zM750 536h1v1h-1zM751 536h1v1h-1zM752 536h1v1h-1zM753 536h1v1h-1zM754 536h1v1h-1zM755 536h1v1h-1zM756 536h1v1h-1zM757 536h1v1h-1zM758 536h1v1h-1zM759 536h1v1h-1zM760 536h1v1h-1zM761 536h1v1h-1zM762 536h1v1h-1zM763 536h1v1h-1zM764 536h1v1h-1zM765 536h1v1h-1zM766 536h1v1h-1zM767 536h1v1h-1zM768 536h1v1h-1zM769 537h1v1h-1zM770 537h1v1h-1zM771 538h1v1h-1zM772 538h1v1h-1zM773 539h1v1h-1zM774 539h1v1h-1zM775 540h1v1h-1zM776 540h1v1h-1zM777 541h1v1h-1zM778 542h1v1h-1zM779 542h1v1h-1zM780 543h1v1h-1zM781 544h1v1h-1zM782 545h1v1h-1zM783 545h1v1h-1zM784 546h1v1h-1zM785 547h1v1h-1zM786 548h1v1h-1zM787 548h1v1h-1zM788 549h1v1h-1zM789 550h1v1h-1zM790 550h1v1h-1zM791 551h1v1h-1zM792 551h1v1h-1zM793 552h1v1h-1zM794 552h1v1h-1zM795 553h1v1h-1zM796 553h1v1h-1zM797 554h1v1h-1zM798 554h1v1h-1zM799 555h1v1h-1zM800 555h1v1h-1zM801 556h1v1h-1zM802 556h1v1h-1zM803 557h1v1h-1zM804 557h1v1h-1zM805 557h1v1h-1zM806 558h1v1h-1zM807 558h1v1h-1zM808 558h1v1h-1zM809 558h1v1h-1zM810 558h1v1h-1zM811 558h1v1h-1zM812 558h1v1h-1zM813 558h1v1h-1zM814 558h1v1h-1zM815 558h1v1h-1zM816 558h1v1h-1zM817 558h1v1h-1zM818 558h1v1h-1zM819 558h1v1h-1zM820 558h1v1h-1zM821 558h1v1h-1zM822 558h1v1h-1zM823 558h1v1h-1zM824 558h1v1h-1zM825 558h1v1h-1zM826 558h1v1h-1zM827 558h1v1h-1zM828 558h1v1h-1zM829 558h1v1h-1zM830 558h1v1h-1zM831 558h1v1h-1zM832 558h1v1h-1zM833 558h1v1h-1zM834 559h1v1h-1zM835 559h1v1h-1zM836 559h1v1h-1zM837 559h1v1h-1zM838 559h1v1h-1zM839 559h1v1h-1zM840 559h1v1h-1zM841 559h1v1h-1zM842 559h1v1h-1zM843 559h1v1h-1zM844 559h1v1h-1zM845 559h1v1h-1zM846 558h1v1h-1zM847 558h1v1h-1zM848 558h1v1h-1zM849 558h1v1h-1zM850 558h1v1h-1zM851 558h1v1h-1zM852 558h1v1h-1zM853 558h1v1h-1zM854 557h1v1h-1zM855 557h1v1h-1zM856 557h1v1h-1zM857 557h1v1h-1zM858 557h1v1h-1zM859 557h1v1h-1zM860 557h1v1h-1zM861 557h1v1h-1zM862 557h1v1h-1zM863 557h1v1h-1zM864 557h1v1h-1zM865 557h1v1h-1zM866 557h1v1h-1zM867 557h1v1h-1zM868 557h1v1h-1zM869 557h1v1h-1zM870 557h1v1h-1zM871 557h1v1h-1zM872 557h1v1h-1zM873 557h1v1h-1zM874 558h1v1h-1zM875 558h1v1h-1zM876 558h1v1h-1zM877 558h1v1h-1zM878 558h1v1h-1zM879 558h1v1h-1zM880 558h1v1h-1zM881 558h1v1h-1zM882 559h1v1h-1zM883 559h1v1h-1zM884 559h1v1h-1zM885 559h1v1h-1zM886 560h1v1h-1zM887 560h1v1h-1zM888 560h1v1h-1zM889 560h1v1h-1zM890 561h1v1h-1zM891 561h1v1h-1zM892 561h1v1h-1zM893 561h1v1h-1zM894 562h1v1h-1zM895 562h1v1h-1zM896 562h1v1h-1zM897 562h1v1h-1zM898 562h1v1h-1zM899 562h1v1h-1zM900 562h1v1h-1zM901 562h1v1h-1zM902 562h1v1h-1zM903 562h1v1h-1zM904 562h1v1h-1zM905 562h1v1h-1zM906 563h1v1h-1zM907 563h1v1h-1zM908 563h1v1h-1zM909 563h1v1h-1zM910 562h1v1h-1zM911 562h1v1h-1zM912 562h1v1h-1zM913 562h1v1h-1zM914 561h1v1h-1zM915 561h1v1h-1zM916 561h1v1h-1zM917 561h1v1h-1zM918 560h1v1h-1zM919 560h1v1h-1zM920 560h1v1h-1zM921 560h1v1h-1zM922 559h1v1h-1zM923 559h1v1h-1zM924 559h1v1h-1z" fill="#ff0000"/>
</g>
<g clip-path="url(#crsi)">
<line x1="4" y1="598.5" x2="1166" y2="598.5" stroke="#c0c0c0" stroke-width="1" stroke-dasharray="3,3"/>
<line x1="4" y1="632.5" x2="1166" y2="632.5" stroke="#c0c0c0" stroke-width="1" stroke-dasharray="3,3"/>
<path d="M4 611h1v1h-1zM5 609h1v2h-1zM6 607h1v2h-1zM7 605h1v2h-1zM8 603h1v2h-1zM9 603h1v1h-1zM10 603h1v1h-1zM11 603h1v1h-1zM12 603h1v1h-1zM13 603h1v1h-1zM14 603h1v1h-1zM15 603h1v1h-1zM16 603h1v1h-1zM17 602h1v1h-1zM18 602h1v1h-1zM19 601h1v1h-1zM20 602h1v1h-1zM21 602h1v1h-1zM22 603h1v1h-1zM23 603h1v1h-1zM24 604h1v1h-1zM25 604h1v1h-1zM26 605h1v1h-1zM27 605h1v1h-1zM28 605h1v1h-1zM29 605h1v1h-1zM30 605h1v1h-1zM31 605h1v1h-1zM32 605h1v1h-1zM33 606h1v1h-1zM34 606h1v1h-1zM35 607h1v1h-1zM36 607h1v1h-1zM37 607h1v1h-1zM38 606h1v1h-1zM39 606h1v1h-1zM40 606h1v1h-1zM41 605h1v1h-1zM42 603h1v2h-1zM43 602h1v1h-1zM44 601h1v1h-1zM45 602h1v1h-1zM46 602h1v1h-1zM47 603h1v1h-1zM48 603h1v1h-1zM49 603h1v1h-1zM50 602h1v1h-1zM51 602h1v1h-1zM52 602h1v1h-1zM53 603h1v2h-1zM54 605h1v2h-1zM55 607h1v2h-1zM56 609h1v1h-1zM57 608h1v1h-1zM58 607h1v1h-1zM59 607h1v1h-1zM60 606h1v1h-1zM61 606h1v1h-1zM62 606h1v1h-1zM63 606h1v1h-1zM64 606h1v1h-1zM65 607h1v1h-1zM66 608h1v1h-1zM67 609h1v1h-1zM68 610h1v1h-1zM69 608h1v2h-1zM70 607h1v1h-1zM71 605h1v2h-1zM72 604h1v1h-1zM73 604h1v1h-1zM74 604h1v1h-1zM75 604h1v1h-1zM76 604h1v1h-1zM77 604h1v1h-1zM78 603h1v1h-1zM79 603h1v1h-1zM80 602h1v1h-1zM81 602h1v1h-1zM82 602h1v1h-1zM83 601h1v1h-1zM84 601h1v1h-1zM85 601h1v1h-1zM86 602h1v1h-1zM87 602h1v1h-1zM88 603h1v1h-1zM89 603h1v1h-1zM90 604h1v1h-1zM91 604h1v1h-1zM92 605h1v1h-1zM93 605h1v1h-1zM94 606h1v1h-1zM95 606h1v1h-1zM96 607h1v1h-1zM97 606h1v1h-1zM98 605h1v1h-1zM99 605h1v1h-1zM100 604h1v1h-1zM101 603h1v1h-1zM102 601h1v2h-1zM103 600h1v1h-1zM104 599h1v1h-1zM105 600h1v1h-1zM106 600h1v1h-1zM107 601h1v1h-1zM108 601h1v1h-1zM109 601h1v1h-1zM110 601h1v1h-1zM111 600h1v1h-1zM112 600h1v1h-1zM113 600h1v1h-1zM114 600h1v1h-1zM115 600h1v1h-1zM116 600h1v1h-1zM117 600h1v1h-1zM118 601h1v2h-1zM119 603h1v2h-1zM120 605h1v1h-1zM121 604h1v1h-1zM122 603h1v1h-1zM123 602h1v1h-1zM124 601h1v1h-1zM125 600h1v1h-1zM126 600h1v1h-1zM127 599h1v1h-1zM128 598h1v1h-1zM129 597h1v1h-1zM130 597h1v1h-1zM131 596h1v1h-1zM132 596h1v1h-1zM133 596h1v1h-1zM134 596h1v1h-1zM135 596h1v1h-1zM136 596h1v1h-1zM137 596h1v1h-1zM138 596h1v1h-1zM139 596h1v1h-1zM140 596h1v1h-1zM141 596h1v1h-1zM142 596h1v1h-1zM143 595h1v1h-1zM144 595h1v1h-1zM145 595h1v1h-1zM146 594h1v1h-1zM147 594h1v1h-1zM148 594h1v1h-1zM149 593h1v1h-1zM150 592h1v1h-1zM151 591h1v1h-1zM152 590h1v1h-1zM153 590h1v1h-1zM154 591h1v1h-1zM155 591h1v1h-1zM156 592h1v1h-1zM157 592h1v1h-1zM158 592h1v1h-1zM159 592h1v1h-1zM160 592h1v2h-1zM161 594h1v3h-1zM162 597h1v3h-1zM163 600h1v2h-1zM164 602h1v2h-1zM165 604h1v1h-1zM166 605h1v1h-1zM167 606h1v2h-1zM168 608h1v1h-1zM169 606h1v2h-1zM170 605h1v1h-1zM171 603h1v2h-1zM172 602h1v1h-1zM173 602h1v1h-1zM174 602h1v1h-1zM175 602h1v1h-1zM176 602h1v1h-1zM177 602h1v1h-1zM178 602h1v1h-1zM179 602h1v1h-1zM180 602h1v1h-1zM181 603h1v1h-1zM182 604h1v1h-1zM183 605h1v1h-1zM184 606h1v1h-1zM185 605h1v1h-1zM186 604h1v1h-1zM187 603h1v1h-1zM188 602h1v1h-1zM189 601h1v1h-1zM190 600h1v1h-1zM191 599h1v1h-1zM192 598h1v1h-1zM193 597h1v1h-1zM194 596h1v1h-1zM195 596h1v1h-1zM196 597h1v1h-1zM197 597h1v1h-1zM198 597h1v1h-1zM199 598h1v1h-1zM200 598h1v1h-1zM201 599h1v1h-1zM202 599h1v1h-1zM203 600h1v1h-1zM204 600h1v1h-1zM205 599h1v1h-1zM206 599h1v1h-1zM207 598h1v1h-1zM208 597h1v1h-1zM209 596h1v1h-1zM210 596h1v1h-1zM211 595h1v1h-1zM212 596h1v1h-1zM213 597h1v1h-1zM214 597h1v1h-1zM215 598h1v1h-1zM216 597h1v1h-1zM217 597h1v1h-1zM218 596h1v1h-1zM219 596h1v1h-1zM220 597h1v1h-1zM221 598h1v1h-1zM222 599h1v1h-1zM223 600h1v1h-1zM224 601h1v1h-1zM225 602h1v2h-1zM226 604h1v1h-1zM227 605h1v2h-1zM228 607h1v1h-1zM229 607h1v1h-1zM230 606h1v1h-1zM231 606h1v1h-1zM232 605h1v1h-1zM233 605h1v1h-1zM234 605h1v1h-1zM235 604h1v1h-1zM236 604h1v1h-1zM237 603h1v1h-1zM238 603h1v1h-1zM239 602h1v1h-1zM240 603h1v2h-1zM241 605h1v1h-1zM242 606h1v2h-1zM243 608h1v2h-1zM244 610h1v1h-1zM245 610h1v1h-1zM246 609h1v1h-1zM247 609h1v1h-1zM248 609h1v1h-1zM249 610h1v1h-1zM250 611h1v1h-1zM251 611h1v1h-1zM252 612h1v1h-1zM253 611h1v1h-1zM254 610h1v1h-1zM255 610h1v1h-1zM256 609h1v1h-1zM257 608h1v1h-1zM258 608h1v1h-1zM259 607h1v1h-1zM260 607h1v1h-1zM261 606h1v1h-1zM262 606h1v1h-1zM263 605h1v1h-1zM264 606h1v1h-1zM265 607h1v1h-1zM266 608h1v1h-1zM267 609h1v1h-1zM268 610h1v1h-1zM269 610h1v1h-1zM270 611h1v1h-1zM271 611h1v1h-1zM272 611h1v1h-1zM273 611h1v1h-1zM274 612h1v1h-1zM275 612h1v1h-1zM276 612h1v1h-1zM277 611h1v1h-1zM278 610h1v1h-1zM279 609h1v1h-1zM280 608h1v1h-1zM281 609h1v2h-1zM282 611h1v2h-1zM283 613h1v2h-1zM284 615h1v1h-1zM285 616h1v1h-1zM286 616h1v1h-1zM287 617h1v1h-1zM288 617h1v1h-1zM289 617h1v1h-1zM290 616h1v1h-1zM291 616h1v1h-1zM292 616h1v1h-1zM293 617h1v1h-1zM294 618h1v1h-1zM295 619h1v1h-1zM296 620h1v1h-1zM297 621h1v1h-1zM298 621h1v1h-1zM299 622h1v1h-1zM300 622h1v1h-1zM301 623h1v1h-1zM302 624h1v1h-1zM303 624h1v1h-1zM304 625h1v1h-1zM305 624h1v1h-1zM306 623h1v1h-1zM307 622h1v1h-1zM308 621h1v1h-1zM309 621h1v1h-1zM310 622h1v1h-1zM311 622h1v1h-1zM312 622h1v1h-1zM313 620h1v2h-1zM314 619h1v1h-1zM315 617h1v2h-1zM316 616h1v1h-1zM317 615h1v1h-1zM318 615h1v1h-1zM319 614h1v1h-1zM320 613h1v1h-1zM321 612h1v1h-1zM322 611h1v1h-1zM323 611h1v1h-1zM324 610h1v1h-1zM325 609h1v1h-1zM326 609h1v1h-1zM327 609h1v1h-1zM328 608h1v1h-1zM329 608h1v1h-1zM330 608h1v1h-1zM331 608h1v1h-1zM332 607h1v1h-1zM333 607h1v1h-1zM334 606h1v1h-1zM335 606h1v1h-1zM336 605h1v1h-1zM337 605h1v1h-1zM338 606h1v1h-1zM339 606h1v1h-1zM340 607h1v1h-1zM341 607h1v1h-1zM342 607h1v1h-1zM343 606h1v1h-1zM344 606h1v1h-1zM345 606h1v1h-1zM346 605h1v1h-1zM347 605h1v1h-1zM348 604h1v1h-1zM349 604h1v1h-1zM350 605h1v1h-1zM351 605h1v1h-1zM352 605h1v1h-1zM353 606h1v2h-1zM354 608h1v1h-1zM355 609h1v2h-1zM356 611h1v1h-1zM357 611h1v1h-1zM358 610h1v1h-1zM359 610h1v1h-1zM360 609h1v2h-1zM361 607h1v2h-1zM362 604h1v3h-1zM363 602h1v2h-1zM364 600h1v2h-1zM365 599h1v1h-1zM366 599h1v1h-1zM367 598h1v1h-1zM368 598h1v1h-1zM369 598h1v1h-1zM370 597h1v1h-1zM371 597h1v1h-1zM372 597h1v1h-1zM373 597h1v1h-1zM374 597h1v1h-1zM375 597h1v1h-1zM376 597h1v1h-1zM377 597h1v1h-1zM378 597h1v1h-1zM379 596h1v1h-1zM380 596h1v1h-1zM381 596h1v1h-1zM382 595h1v1h-1zM383 594h1v1h-1zM384 593h1v4h-1zM385 597h1v8h-1zM386 605h1v8h-1zM387 613h1v4h-1zM388 617h1v1h-1zM389 618h1v1h-1zM390 618h1v1h-1zM391 619h1v1h-1zM392 620h1v1h-1zM393 618h1v2h-1zM394 617h1v1h-1zM395 615h1v2h-1zM396 614h1v1h-1zM397 613h1v1h-1zM398 613h1v1h-1zM399 612h1v1h-1zM400 612h1v1h-1zM401 612h1v1h-1zM402 612h1v1h-1zM403 612h1v1h-1zM404 612h1v1h-1zM405 612h1v1h-1zM406 613h1v1h-1zM407 613h1v1h-1zM408 613h1v2h-1zM409 615h1v2h-1zM410 617h1v3h-1zM411 620h1v2h-1zM412 622h1v2h-1zM413 622h1v1h-1zM414 622h1v1h-1zM415 621h1v1h-1zM416 621h1v1h-1zM417 621h1v1h-1zM418 622h1v1h-1zM419 622h1v1h-1zM420 621h1v1h-1zM421 621h1v1h-1zM422 620h1v1h-1zM423 620h1v1h-1zM424 619h1v1h-1zM425 619h1v1h-1zM426 618h1v1h-1zM427 618h1v1h-1zM428 618h1v1h-1zM429 617h1v1h-1zM430 616h1v1h-1zM431 615h1v1h-1zM432 614h1v1h-1zM433 614h1v1h-1zM434 615h1v1h-1zM435 615h1v1h-1zM436 615h1v1h-1zM437 615h1v1h-1zM438 614h1v1h-1zM439 614h1v1h-1zM440 615h1v1h-1zM441 615h1v1h-1zM442 616h1v1h-1zM443 616h1v1h-1zM444 617h1v1h-1zM445 616h1v1h-1zM446 616h1v1h-1zM447 615h1v1h-1zM448 615h1v1h-1zM449 616h1v1h-1zM450 617h1v1h-1zM451 618h1v1h-1zM452 619h1v1h-1zM453 617h1v2h-1zM454 615h1v2h-1zM455 613h1v2h-1zM456 611h1v2h-1zM457 612h1v1h-1zM458 613h1v1h-1zM459 614h1v1h-1zM460 615h1v1h-1zM461 615h1v1h-1zM462 615h1v1h-1zM463 615h1v1h-1zM464 615h1v1h-1zM465 615h1v1h-1zM466 615h1v1h-1zM467 615h1v1h-1zM468 615h1v1h-1zM469 616h1v2h-1zM470 618h1v1h-1zM471 619h1v2h-1zM472 621h1v1h-1zM473 622h1v1h-1zM474 623h1v1h-1zM475 623h1v1h-1zM476 624h1v1h-1zM477 625h1v1h-1zM478 626h1v1h-1zM479 627h1v1h-1zM480 628h1v1h-1zM481 626h1v2h-1zM482 625h1v1h-1zM483 623h1v2h-1zM484 622h1v1h-1zM485 622h1v1h-1zM486 623h1v1h-1zM487 623h1v1h-1zM488 623h1v1h-1zM489 622h1v1h-1zM490 622h1v1h-1zM491 621h1v1h-1zM492 621h1v1h-1zM493 622h1v1h-1zM494 622h1v1h-1zM495 623h1v1h-1zM496 623h1v1h-1zM497 623h1v1h-1zM498 623h1v1h-1zM499 623h1v1h-1zM500 623h1v1h-1zM501 623h1v1h-1zM502 623h1v1h-1zM503 623h1v1h-1zM504 623h1v1h-1zM505 623h1v1h-1zM506 622h1v1h-1zM507 622h1v1h-1zM508 622h1v1h-1zM509 622h1v1h-1zM510 623h1v1h-1zM511 623h1v1h-1zM512 623h1v1h-1zM513 621h1v2h-1zM514 620h1v1h-1zM515 618h1v2h-1zM516 617h1v1h-1zM517 617h1v1h-1zM518 616h1v1h-1zM519 616h1v1h-1zM520 617h1v1h-1zM521 618h1v1h-1zM522 618h1v1h-1zM523 619h1v1h-1zM524 620h1v1h-1zM525 619h1v1h-1zM526 619h1v1h-1zM527 618h1v1h-1zM528 618h1v1h-1zM529 619h1v1h-1zM530 619h1v1h-1zM531 619h1v1h-1zM532 619h1v1h-1zM533 619h1v1h-1zM534 620h1v1h-1zM535 620h1v1h-1zM536 620h1v1h-1zM537 620h1v1h-1zM538 620h1v1h-1zM539 620h1v1h-1zM540 620h1v1h-1zM541 620h1v1h-1zM542 619h1v1h-1zM543 619h1v1h-1zM544 617h1v2h-1zM545 613h1v4h-1zM546 609h1v4h-1zM547 607h1v2h-1zM548 607h1v1h-1zM549 606h1v1h-1zM550 606h1v1h-1zM551 606h1v1h-1zM552 606h1v1h-1zM553 607h1v1h-1zM554 607h1v1h-1zM555 608h1v1h-1zM556 608h1v1h-1zM557 608h1v1h-1zM558 607h1v1h-1zM559 607h1v1h-1zM560 607h1v1h-1zM561 606h1v1h-1zM562 606h1v1h-1zM563 605h1v1h-1zM564 605h1v1h-1zM565 606h1v1h-1zM566 607h1v1h-1zM567 607h1v1h-1zM568 608h1v1h-1zM569 607h1v1h-1zM570 607h1v1h-1zM571 606h1v1h-1zM572 606h1v1h-1zM573 607h1v1h-1zM574 608h1v2h-1zM575 610h1v1h-1zM576 611h1v1h-1zM577 610h1v1h-1zM578 610h1v1h-1zM579 609h1v1h-1zM580 609h1v1h-1zM581 608h1v1h-1zM582 607h1v1h-1zM583 607h1v1h-1zM584 606h1v1h-1zM585 606h1v1h-1zM586 605h1v1h-1zM587 604h1v1h-1zM588 603h1v1h-1zM589 604h1v1h-1zM590 605h1v1h-1zM591 606h1v1h-1zM592 607h1v1h-1zM593 607h1v1h-1zM594 608h1v1h-1zM595 608h1v1h-1zM596 608h1v1h-1zM597 608h1v1h-1zM598 609h1v1h-1zM599 609h1v1h-1zM600 609h1v1h-1zM601 610h1v2h-1zM602 612h1v2h-1zM603 614h1v2h-1zM604 616h1v1h-1zM605 616h1v1h-1zM606 617h1v1h-1zM607 617h1v1h-1zM608 617h1v1h-1zM609 615h1v2h-1zM610 613h1v2h-1zM611 611h1v2h-1zM612 610h1v2h-1zM613 612h1v2h-1zM614 614h1v2h-1zM615 616h1v2h-1zM616 618h1v2h-1zM617 616h1v2h-1zM618 614h1v2h-1zM619 612h1v2h-1zM620 611h1v1h-1zM621 611h1v1h-1zM622 610h1v1h-1zM623 610h1v1h-1zM624 609h1v1h-1zM625 607h1v2h-1zM626 606h1v1h-1zM627 604h1v2h-1zM628 603h1v1h-1zM629 604h1v1h-1zM630 604h1v1h-1zM631 605h1v1h-1zM632 605h1v1h-1zM633 604h1v1h-1zM634 604h1v1h-1zM635 603h1v1h-1zM636 604h1v1h-1zM637 605h1v1h-1zM638 605h1v1h-1zM639 606h1v1h-1zM640 607h1v2h-1zM641 609h1v2h-1zM642 611h1v2h-1zM643 613h1v2h-1zM644 615h1v2h-1zM645 617h1v1h-1zM646 617h1v1h-1zM647 618h1v1h-1zM648 618h1v1h-1zM649 617h1v1h-1zM650 615h1v2h-1zM651 614h1v1h-1zM652 613h1v1h-1zM653 613h1v1h-1zM654 612h1v1h-1zM655 612h1v1h-1zM656 612h1v1h-1zM657 613h1v1h-1zM658 613h1v1h-1zM659 614h1v1h-1zM660 614h1v1h-1zM661 614h1v1h-1zM662 613h1v1h-1zM663 613h1v1h-1zM664 614h1v1h-1zM665 614h1v1h-1zM666 615h1v1h-1zM667 615h1v1h-1zM668 616h1v1h-1zM669 615h1v1h-1zM670 614h1v1h-1zM671 614h1v1h-1zM672 613h1v1h-1zM673 614h1v1h-1zM674 615h1v2h-1zM675 617h1v1h-1zM676 618h1v1h-1zM677 618h1v1h-1zM678 618h1v1h-1zM679 618h1v1h-1zM680 618h1v1h-1zM681 618h1v1h-1zM682 618h1v1h-1zM683 617h1v1h-1zM684 617h1v1h-1zM685 617h1v1h-1zM686 617h1v1h-1zM687 617h1v1h-1zM688 617h1v1h-1zM689 617h1v1h-1zM690 617h1v1h-1zM691 616h1v1h-1zM692 616h1v1h-1zM693 616h1v1h-1zM694 616h1v1h-1zM695 617h1v1h-1zM696 617h1v1h-1zM697 618h1v1h-1zM698 619h1v1h-1zM699 619h1v1h-1zM700 620h1v1h-1zM701 621h1v1h-1zM702 621h1v1h-1zM703 620h1v1h-1zM704 620h1v1h-1zM705 619h1v1h-1zM706 618h1v1h-1zM707 617h1v1h-1zM708 617h1v1h-1zM709 616h1v1h-1zM710 615h1v1h-1zM711 614h1v1h-1zM712 614h1v1h-1zM713 613h1v1h-1zM714 613h1v1h-1zM715 614h1v1h-1zM716 614h1v1h-1zM717 615h1v2h-1zM718 617h1v3h-1zM719 620h1v4h-1zM720 624h1v2h-1zM721 622h1v2h-1zM722 619h1v3h-1zM723 617h1v2h-1zM724 615h1v2h-1zM725 615h1v1h-1zM726 615h1v1h-1zM727 615h1v1h-1zM728 615h1v1h-1zM729 614h1v1h-1zM730 614h1v1h-1zM731 613h1v1h-1zM732 613h1v1h-1zM733 614h1v1h-1zM734 614h1v1h-1zM735 615h1v1h-1zM736 615h1v1h-1zM737 615h1v1h-1zM738 616h1v1h-1zM739 616h1v1h-1zM740 616h1v1h-1zM741 615h1v1h-1zM742 615h1v1h-1zM743 614h1v1h-1zM744 614h1v1h-1zM745 615h1v2h-1zM746 617h1v1h-1zM747 618h1v2h-1zM748 620h1v1h-1zM749 620h1v1h-1zM750 619h1v1h-1zM751 619h1v1h-1zM752 619h1v1h-1zM753 618h1v1h-1zM754 618h1v1h-1zM755 617h1v1h-1zM756 617h1v1h-1zM757 618h1v1h-1zM758 619h1v1h-1zM759 620h1v1h-1zM760 621h1v1h-1zM761 620h1v1h-1zM762 619h1v1h-1zM763 618h1v1h-1zM764 617h1v2h-1zM765 619h1v3h-1zM766 622h1v3h-1zM767 625h1v3h-1zM768 628h1v2h-1zM769 630h1v1h-1zM770 631h1v1h-1zM771 631h1v1h-1zM772 632h1v1h-1zM773 632h1v1h-1zM774 632h1v1h-1zM775 632h1v1h-1zM776 632h1v1h-1zM777 631h1v1h-1zM778 630h1v1h-1zM779 630h1v1h-1zM780 629h1v1h-1zM781 629h1v1h-1zM782 629h1v1h-1zM783 629h1v1h-1zM784 629h1v1h-1zM785 627h1v2h-1zM786 625h1v2h-1zM787 623h1v2h-1zM788 622h1v1h-1zM789 622h1v1h-1zM790 623h1v1h-1zM791 623h1v1h-1zM792 622h1v1h-1zM793 622h1v1h-1zM794 621h1v1h-1zM795 621h1v1h-1zM796 620h1v1h-1zM797 620h1v1h-1zM798 620h1v1h-1zM799 621h1v1h-1zM800 621h1v1h-1zM801 621h1v1h-1zM802 621h1v1h-1zM803 622h1v1h-1zM804 622h1v1h-1zM805 623h1v1h-1zM806 624h1v1h-1zM807 625h1v1h-1zM808 626h1v1h-1zM809 626h1v1h-1zM810 627h1v1h-1zM811 627h1v1h-1zM812 627h1v1h-1zM813 628h1v1h-1zM814 629h1v1h-1zM815 629h1v1h-1zM816 630h1v1h-1zM817 629h1v1h-1zM818 628h1v1h-1zM819 627h1v1h-1zM820 626h1v1h-1zM821 625h1v1h-1zM822 624h1v1h-1zM823 623h1v1h-1zM824 622h1v1h-1zM825 622h1v1h-1zM826 622h1v1h-1zM827 622h1v1h-1zM828 622h1v1h-1zM829 623h1v1h-1zM830 624h1v1h-1zM831 624h1v1h-1zM832 625h1v1h-1zM833 625h1v1h-1zM834 626h1v1h-1zM835 626h1v1h-1zM836 626h1v1h-1zM837 627h1v1h-1zM838 628h1v1h-1zM839 629h1v1h-1zM840 630h1v1h-1zM841 628h1v2h-1zM842 627h1v1h-1zM843 625h1v2h-1zM844 624h1v1h-1zM845 624h1v1h-1zM846 623h1v1h-1zM847 623h1v1h-1zM848 623h1v1h-1zM849 623h1v1h-1zM850 623h1v1h-1zM851 623h1v1h-1zM852 623h1v1h-1zM853 623h1v1h-1zM854 623h1v1h-1zM855 624h1v1h-1zM856 624h1v1h-1zM857 624h1v1h-1zM858 624h1v1h-1zM859 625h1v1h-1zM860 625h1v1h-1zM861 626h1v1h-1zM862 627h1v1h-1zM863 627h1v1h-1zM864 628h1v1h-1zM865 628h1v1h-1zM866 629h1v1h-1zM867 629h1v1h-1zM868 630h1v1h-1zM869 630h1v1h-1zM870 631h1v1h-1zM871 631h1v1h-1zM872 632h1v1h-1zM873 632h1v1h-1zM874 633h1v1h-1zM875 634h1v1h-1zM876 635h1v1h-1zM877 635h1v1h-1zM878 636h1v1h-1zM879 636h1v1h-1zM880 635h1v1h-1zM881 634h1v1h-1zM882 633h1v1h-1zM883 632h1v1h-1zM884 631h1v1h-1zM885 630h1v1h-1zM886 630h1v1h-1zM887 629h1v1h-1zM888 629h1v1h-1zM889 629h1v1h-1zM890 629h1v1h-1zM891 629h1v1h-1zM892 629h1v1h-1zM893 629h1v1h-1zM894 629h1v1h-1zM895 629h1v1h-1zM896 629h1v1h-1zM897 628h1v1h-1zM898 627h1v1h-1zM899 626h1v1h-1zM900 625h1v1h-1zM901 626h1v1h-1zM902 626h1v1h-1zM903 627h1v1h-1zM904 627h1v1h-1zM905 628h1v1h-1zM906 628h1v1h-1zM907 629h1v1h-1zM908 628h1v2h-1zM909 626h1v2h-1zM910 624h1v2h-1zM911 622h1v2h-1zM912 620h1v2h-1zM913 621h1v1h-1zM914 622h1v1h-1zM915 623h1v1h-1zM916 624h1v1h-1zM917 625h1v1h-1zM918 626h1v1h-1zM919 626h1v1h-1zM920 627h1v1h-1zM921 626h1v1h-1zM922 626h1v1h-1zM923 625h1v1h-1z" fill="#1e90ff"/>
</g>
<text x="19" y="35" font-size="10" fill="#000" textLength="66" lengthAdjust="spacingAndGlyphs">AUDUSD,Daily</text>
<text x="91" y="35" font-size="10" fill="#000" textLength="141" lengthAdjust="spacingAndGlyphs">0.73429 0.73433 0.73399 0.73424</text>
<polygon points="7,34 14,34 10.5,30" fill="#000"/>
<text x="8" y="497" font-size="10" fill="#000" textLength="154" lengthAdjust="spacingAndGlyphs">MACD(12,26,9) -0.004580 -0.005207</text>
<text x="8" y="584" font-size="10" fill="#000" textLength="68" lengthAdjust="spacingAndGlyphs">RSI(14) 37.8314</text>
<defs>
<linearGradient id="gt" x1="0" y1="0" x2="0" y2="1"><stop offset="0" stop-color="#f8565a"/><stop offset="1" stop-color="#d92226"/></linearGradient>
<linearGradient id="gb" x1="0" y1="0" x2="0" y2="1"><stop offset="0" stop-color="#d61e22"/><stop offset="1" stop-color="#b2000a"/></linearGradient>
<linearGradient id="gbtn" x1="0" y1="0" x2="0" y2="1"><stop offset="0" stop-color="#f4f4f4"/><stop offset="0.5" stop-color="#e6e6e6"/><stop offset="0.55" stop-color="#d9d9d9"/><stop offset="1" stop-color="#d0d0d0"/></linearGradient>
</defs>
<rect x="7" y="43" width="52" height="24" fill="url(#gt)"/>
<path d="M7.5 67V43.5H58.5V67" fill="none" stroke="#c80000"/>
<rect x="11" y="66" width="44" height="1" fill="#8a0000"/>
<rect x="11" y="67" width="44" height="1" fill="#f06a6a"/>
<rect x="7" y="67" width="109" height="33" fill="url(#gb)"/>
<rect x="7" y="99" width="109" height="1" fill="#a00000"/>
<rect x="174" y="43" width="52" height="24" fill="url(#gt)"/>
<path d="M174.5 67V43.5H225.5V67" fill="none" stroke="#c80000"/>
<rect x="178" y="66" width="44" height="1" fill="#8a0000"/>
<rect x="178" y="67" width="44" height="1" fill="#f06a6a"/>
<rect x="118" y="67" width="108" height="33" fill="url(#gb)"/>
<rect x="118" y="99" width="108" height="1" fill="#a00000"/>
<rect x="61.5" y="43.5" width="110" height="21" fill="#fff" stroke="#b4b4b4"/>
<rect x="62.5" y="44.5" width="19" height="19" fill="url(#gbtn)" stroke="#c8c8c8"/>
<rect x="151.5" y="44.5" width="19" height="19" fill="url(#gbtn)" stroke="#c8c8c8"/>
<polygon points="69,52 75,52 72,55" fill="#3c5ccc"/>
<polygon points="158,55 164,55 161,52" fill="#3c5ccc"/>
<text x="146.8" y="58" font-size="13" fill="#000" textLength="23.5" lengthAdjust="spacingAndGlyphs" text-anchor="end">3.00</text>
<text x="18.8" y="59" font-size="12" fill="#fff" textLength="27" lengthAdjust="spacingAndGlyphs">SELL</text>
<text x="187" y="59" font-size="12" fill="#fff" textLength="24.5" lengthAdjust="spacingAndGlyphs">BUY</text>
<text x="26" y="95" font-size="12" fill="#fff" textLength="25" lengthAdjust="spacingAndGlyphs" font-weight="bold">0.73</text>
<text x="52.8" y="95" font-size="34" fill="#fff" textLength="37.5" lengthAdjust="spacingAndGlyphs">42</text>
<text x="93.5" y="79" font-size="10" fill="#fff" textLength="7" lengthAdjust="spacingAndGlyphs" font-weight="bold">7</text>
<text x="136" y="95" font-size="12" fill="#fff" textLength="25" lengthAdjust="spacingAndGlyphs" font-weight="bold">0.73</text>
<text x="163.3" y="95" font-size="34" fill="#fff" textLength="38.5" lengthAdjust="spacingAndGlyphs">44</text>
<text x="204.5" y="79" font-size="10" fill="#fff" textLength="7.5" lengthAdjust="spacingAndGlyphs" font-weight="bold">2</text>
<rect x="1" y="679" width="1204" height="1" fill="#e3e3e3"/>
<rect x="1" y="680" width="1204" height="1" fill="#ffffff"/>
<rect x="0" y="681" width="1204" height="1" fill="#000000"/>
<rect x="0" y="682" width="1204" height="19" fill="#f0f0f0"/>
<rect x="0" y="701" width="1204" height="1" fill="#ffffff"/>
<rect x="0" y="702" width="1204" height="3" fill="#f0f0f0"/>
<rect x="0" y="682" width="1" height="17" fill="#505050"/>
<rect x="97" y="681" width="104" height="18" fill="#000"/>
<rect x="98" y="681" width="102" height="17" fill="#ffffff"/>
<text x="17" y="696" font-size="12" fill="#6d6d6d" textLength="68" lengthAdjust="spacingAndGlyphs">EURUSD,H4</text>
<text x="108" y="696" font-size="12" fill="#000" textLength="82" lengthAdjust="spacingAndGlyphs">AUDUSD,Daily</text>
<text x="211" y="696" font-size="12" fill="#6d6d6d" textLength="67" lengthAdjust="spacingAndGlyphs">USDCHF,H4</text>
<text x="300" y="696" font-size="12" fill="#6d6d6d" textLength="81" lengthAdjust="spacingAndGlyphs">USDCAD,Daily</text>
<text x="403" y="696" font-size="12" fill="#6d6d6d" textLength="83" lengthAdjust="spacingAndGlyphs">USDCNH,Daily</text>
<text x="509.5" y="696" font-size="12" fill="#6d6d6d" textLength="52" lengthAdjust="spacingAndGlyphs">UKOil,H4</text>
<text x="583.5" y="696" font-size="12" fill="#6d6d6d" textLength="46.5" lengthAdjust="spacingAndGlyphs">DJ30,H1</text>
<text x="653" y="696" font-size="12" fill="#6d6d6d" textLength="52" lengthAdjust="spacingAndGlyphs">USDX,H1</text>
<text x="728" y="696" font-size="12" fill="#6d6d6d" textLength="68.5" lengthAdjust="spacingAndGlyphs">XAUUSD,H1</text>
<text x="821" y="696" font-size="12" fill="#6d6d6d" textLength="67.5" lengthAdjust="spacingAndGlyphs">GBPUSD,H1</text>
<rect x="289" y="685" width="1" height="12" fill="#7a7a7a"/>
<rect x="393" y="685" width="1" height="12" fill="#7a7a7a"/>
<rect x="497" y="685" width="1" height="12" fill="#7a7a7a"/>
<rect x="573" y="685" width="1" height="12" fill="#7a7a7a"/>
<rect x="641" y="685" width="1" height="12" fill="#7a7a7a"/>
<rect x="717" y="685" width="1" height="12" fill="#7a7a7a"/>
<rect x="810" y="685" width="1" height="12" fill="#7a7a7a"/>
<rect x="901" y="685" width="1" height="12" fill="#7a7a7a"/>
<polygon points="1185,686.5 1185,693.5 1181.5,690" fill="#999"/>
<polygon points="1201,686.5 1201,693.5 1204.5,690" fill="#999"/>
</svg>
</body></html>
